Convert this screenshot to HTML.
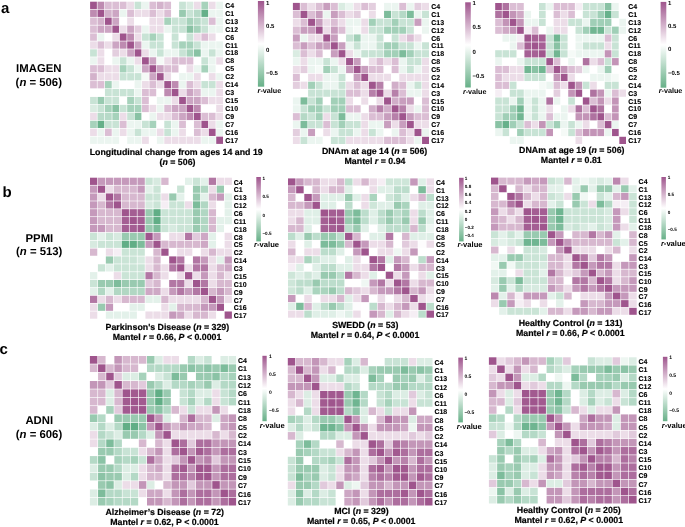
<!DOCTYPE html><html><head><meta charset="utf-8"><style>html,body{margin:0;padding:0;background:#fff;width:685px;height:527px;overflow:hidden}svg{display:block;will-change:transform}text{font-family:"Liberation Sans",sans-serif;text-rendering:geometricPrecision}</style></head><body>
<svg width="685" height="527" viewBox="0 0 685 527">
<rect width="685" height="527" fill="#fff"/>
<defs><linearGradient id="g1" x1="0" y1="0" x2="0" y2="1"><stop offset="0.0000" stop-color="#9f558d"/><stop offset="0.5000" stop-color="#ffffff"/><stop offset="1.0000" stop-color="#67b088"/></linearGradient><linearGradient id="g2" x1="0" y1="0" x2="0" y2="1"><stop offset="0.0000" stop-color="#9f558d"/><stop offset="0.5000" stop-color="#ffffff"/><stop offset="1.0000" stop-color="#67b088"/></linearGradient><linearGradient id="g3" x1="0" y1="0" x2="0" y2="1"><stop offset="0.0000" stop-color="#9f558d"/><stop offset="0.5000" stop-color="#ffffff"/><stop offset="1.0000" stop-color="#67b088"/></linearGradient><linearGradient id="g4" x1="0" y1="0" x2="0" y2="1"><stop offset="0.0000" stop-color="#9f558d"/><stop offset="0.5000" stop-color="#ffffff"/><stop offset="1.0000" stop-color="#67b088"/></linearGradient><linearGradient id="g5" x1="0" y1="0" x2="0" y2="1"><stop offset="0.0000" stop-color="#9f558d"/><stop offset="0.5000" stop-color="#ffffff"/><stop offset="1.0000" stop-color="#67b088"/></linearGradient><linearGradient id="g6" x1="0" y1="0" x2="0" y2="1"><stop offset="0.0000" stop-color="#9f558d"/><stop offset="0.5000" stop-color="#ffffff"/><stop offset="1.0000" stop-color="#67b088"/></linearGradient><linearGradient id="g7" x1="0" y1="0" x2="0" y2="1"><stop offset="0.0000" stop-color="#9f558d"/><stop offset="0.5000" stop-color="#ffffff"/><stop offset="1.0000" stop-color="#67b088"/></linearGradient><linearGradient id="g8" x1="0" y1="0" x2="0" y2="1"><stop offset="0.0000" stop-color="#9f558d"/><stop offset="0.5000" stop-color="#ffffff"/><stop offset="1.0000" stop-color="#67b088"/></linearGradient><linearGradient id="g9" x1="0" y1="0" x2="0" y2="1"><stop offset="0.0000" stop-color="#9f558d"/><stop offset="0.5000" stop-color="#ffffff"/><stop offset="1.0000" stop-color="#67b088"/></linearGradient></defs>
<g class="h1" transform="translate(90.10 1.70) scale(7.4194 7.9361)">
<rect x="0" y="0" width="0.912" height="0.918" fill="#9f558d"/>
<rect x="1" y="0" width="0.912" height="0.918" fill="#be8bb1"/>
<rect x="2" y="0" width="0.912" height="0.918" fill="#dbbed4"/>
<rect x="3" y="0" width="0.912" height="0.918" fill="#dbbed4"/>
<rect x="4" y="0" width="0.912" height="0.918" fill="#dbbed4"/>
<rect x="5" y="0" width="0.912" height="0.918" fill="#ecdde8"/>
<rect x="6" y="0" width="0.912" height="0.918" fill="#c8e3d5"/>
<rect x="7" y="0" width="0.912" height="0.918" fill="#ebf5f0"/>
<rect x="8" y="0" width="0.912" height="0.918" fill="#dbbed4"/>
<rect x="9" y="0" width="0.912" height="0.918" fill="#d3b2cb"/>
<rect x="10" y="0" width="0.912" height="0.918" fill="#dbbed4"/>
<rect x="11" y="0" width="0.912" height="0.918" fill="#ffffff"/>
<rect x="12" y="0" width="0.912" height="0.918" fill="#c8e3d5"/>
<rect x="13" y="0" width="0.912" height="0.918" fill="#daece2"/>
<rect x="14" y="0" width="0.912" height="0.918" fill="#ecdde8"/>
<rect x="15" y="0" width="0.912" height="0.918" fill="#a6d2bb"/>
<rect x="16" y="0" width="0.912" height="0.918" fill="#ecdde8"/>
<rect x="17" y="0" width="0.912" height="0.918" fill="#ebf5f0"/>
<rect x="0" y="1" width="0.912" height="0.918" fill="#be8bb1"/>
<rect x="1" y="1" width="0.912" height="0.918" fill="#9f558d"/>
<rect x="2" y="1" width="0.912" height="0.918" fill="#d3b2cb"/>
<rect x="3" y="1" width="0.912" height="0.918" fill="#cca5c3"/>
<rect x="4" y="1" width="0.912" height="0.918" fill="#ebf5f0"/>
<rect x="5" y="1" width="0.912" height="0.918" fill="#dbbed4"/>
<rect x="6" y="1" width="0.912" height="0.918" fill="#ecdde8"/>
<rect x="7" y="1" width="0.912" height="0.918" fill="#ecdde8"/>
<rect x="8" y="1" width="0.912" height="0.918" fill="#dbbed4"/>
<rect x="9" y="1" width="0.912" height="0.918" fill="#ecdde8"/>
<rect x="10" y="1" width="0.912" height="0.918" fill="#dbbed4"/>
<rect x="11" y="1" width="0.912" height="0.918" fill="#ffffff"/>
<rect x="12" y="1" width="0.912" height="0.918" fill="#98cab0"/>
<rect x="13" y="1" width="0.912" height="0.918" fill="#c8e3d5"/>
<rect x="14" y="1" width="0.912" height="0.918" fill="#b7dac8"/>
<rect x="15" y="1" width="0.912" height="0.918" fill="#65b089"/>
<rect x="16" y="1" width="0.912" height="0.918" fill="#ebf5f0"/>
<rect x="17" y="1" width="0.912" height="0.918" fill="#ebf5f0"/>
<rect x="0" y="2" width="0.912" height="0.918" fill="#dbbed4"/>
<rect x="1" y="2" width="0.912" height="0.918" fill="#d3b2cb"/>
<rect x="2" y="2" width="0.912" height="0.918" fill="#9f558d"/>
<rect x="3" y="2" width="0.912" height="0.918" fill="#cca5c3"/>
<rect x="4" y="2" width="0.912" height="0.918" fill="#ffffff"/>
<rect x="5" y="2" width="0.912" height="0.918" fill="#ecdde8"/>
<rect x="6" y="2" width="0.912" height="0.918" fill="#ffffff"/>
<rect x="7" y="2" width="0.912" height="0.918" fill="#ffffff"/>
<rect x="8" y="2" width="0.912" height="0.918" fill="#ecdde8"/>
<rect x="9" y="2" width="0.912" height="0.918" fill="#ecdde8"/>
<rect x="10" y="2" width="0.912" height="0.918" fill="#a6d2bb"/>
<rect x="11" y="2" width="0.912" height="0.918" fill="#c8e3d5"/>
<rect x="12" y="2" width="0.912" height="0.918" fill="#c8e3d5"/>
<rect x="13" y="2" width="0.912" height="0.918" fill="#a6d2bb"/>
<rect x="14" y="2" width="0.912" height="0.918" fill="#b7dac8"/>
<rect x="15" y="2" width="0.912" height="0.918" fill="#c8e3d5"/>
<rect x="16" y="2" width="0.912" height="0.918" fill="#dbbed4"/>
<rect x="17" y="2" width="0.912" height="0.918" fill="#ebf5f0"/>
<rect x="0" y="3" width="0.912" height="0.918" fill="#dbbed4"/>
<rect x="1" y="3" width="0.912" height="0.918" fill="#cca5c3"/>
<rect x="2" y="3" width="0.912" height="0.918" fill="#cca5c3"/>
<rect x="3" y="3" width="0.912" height="0.918" fill="#9f558d"/>
<rect x="4" y="3" width="0.912" height="0.918" fill="#ecdde8"/>
<rect x="5" y="3" width="0.912" height="0.918" fill="#cca5c3"/>
<rect x="6" y="3" width="0.912" height="0.918" fill="#e3cede"/>
<rect x="7" y="3" width="0.912" height="0.918" fill="#ebf5f0"/>
<rect x="8" y="3" width="0.912" height="0.918" fill="#ecdde8"/>
<rect x="9" y="3" width="0.912" height="0.918" fill="#ecdde8"/>
<rect x="10" y="3" width="0.912" height="0.918" fill="#ebf5f0"/>
<rect x="11" y="3" width="0.912" height="0.918" fill="#c8e3d5"/>
<rect x="12" y="3" width="0.912" height="0.918" fill="#c8e3d5"/>
<rect x="13" y="3" width="0.912" height="0.918" fill="#89c2a4"/>
<rect x="14" y="3" width="0.912" height="0.918" fill="#a6d2bb"/>
<rect x="15" y="3" width="0.912" height="0.918" fill="#c8e3d5"/>
<rect x="16" y="3" width="0.912" height="0.918" fill="#ebf5f0"/>
<rect x="17" y="3" width="0.912" height="0.918" fill="#ebf5f0"/>
<rect x="0" y="4" width="0.912" height="0.918" fill="#dbbed4"/>
<rect x="1" y="4" width="0.912" height="0.918" fill="#ebf5f0"/>
<rect x="2" y="4" width="0.912" height="0.918" fill="#ffffff"/>
<rect x="3" y="4" width="0.912" height="0.918" fill="#ecdde8"/>
<rect x="4" y="4" width="0.912" height="0.918" fill="#9f558d"/>
<rect x="5" y="4" width="0.912" height="0.918" fill="#be8bb1"/>
<rect x="6" y="4" width="0.912" height="0.918" fill="#ecdde8"/>
<rect x="7" y="4" width="0.912" height="0.918" fill="#c8e3d5"/>
<rect x="8" y="4" width="0.912" height="0.918" fill="#a6d2bb"/>
<rect x="9" y="4" width="0.912" height="0.918" fill="#c8e3d5"/>
<rect x="10" y="4" width="0.912" height="0.918" fill="#ffffff"/>
<rect x="11" y="4" width="0.912" height="0.918" fill="#c8e3d5"/>
<rect x="12" y="4" width="0.912" height="0.918" fill="#ffffff"/>
<rect x="13" y="4" width="0.912" height="0.918" fill="#c8e3d5"/>
<rect x="14" y="4" width="0.912" height="0.918" fill="#ecdde8"/>
<rect x="15" y="4" width="0.912" height="0.918" fill="#dbbed4"/>
<rect x="16" y="4" width="0.912" height="0.918" fill="#ecdde8"/>
<rect x="17" y="4" width="0.912" height="0.918" fill="#ffffff"/>
<rect x="0" y="5" width="0.912" height="0.918" fill="#ecdde8"/>
<rect x="1" y="5" width="0.912" height="0.918" fill="#dbbed4"/>
<rect x="2" y="5" width="0.912" height="0.918" fill="#ecdde8"/>
<rect x="3" y="5" width="0.912" height="0.918" fill="#cca5c3"/>
<rect x="4" y="5" width="0.912" height="0.918" fill="#be8bb1"/>
<rect x="5" y="5" width="0.912" height="0.918" fill="#9f558d"/>
<rect x="6" y="5" width="0.912" height="0.918" fill="#cca5c3"/>
<rect x="7" y="5" width="0.912" height="0.918" fill="#ebf5f0"/>
<rect x="8" y="5" width="0.912" height="0.918" fill="#c8e3d5"/>
<rect x="9" y="5" width="0.912" height="0.918" fill="#c8e3d5"/>
<rect x="10" y="5" width="0.912" height="0.918" fill="#ffffff"/>
<rect x="11" y="5" width="0.912" height="0.918" fill="#c8e3d5"/>
<rect x="12" y="5" width="0.912" height="0.918" fill="#a6d2bb"/>
<rect x="13" y="5" width="0.912" height="0.918" fill="#a6d2bb"/>
<rect x="14" y="5" width="0.912" height="0.918" fill="#c8e3d5"/>
<rect x="15" y="5" width="0.912" height="0.918" fill="#ebf5f0"/>
<rect x="16" y="5" width="0.912" height="0.918" fill="#ebf5f0"/>
<rect x="17" y="5" width="0.912" height="0.918" fill="#ebf5f0"/>
<rect x="0" y="6" width="0.912" height="0.918" fill="#c8e3d5"/>
<rect x="1" y="6" width="0.912" height="0.918" fill="#ecdde8"/>
<rect x="2" y="6" width="0.912" height="0.918" fill="#ffffff"/>
<rect x="3" y="6" width="0.912" height="0.918" fill="#e3cede"/>
<rect x="4" y="6" width="0.912" height="0.918" fill="#ecdde8"/>
<rect x="5" y="6" width="0.912" height="0.918" fill="#cca5c3"/>
<rect x="6" y="6" width="0.912" height="0.918" fill="#9f558d"/>
<rect x="7" y="6" width="0.912" height="0.918" fill="#ecdde8"/>
<rect x="8" y="6" width="0.912" height="0.918" fill="#ebf5f0"/>
<rect x="9" y="6" width="0.912" height="0.918" fill="#c8e3d5"/>
<rect x="10" y="6" width="0.912" height="0.918" fill="#ebf5f0"/>
<rect x="11" y="6" width="0.912" height="0.918" fill="#ebf5f0"/>
<rect x="12" y="6" width="0.912" height="0.918" fill="#c8e3d5"/>
<rect x="13" y="6" width="0.912" height="0.918" fill="#a6d2bb"/>
<rect x="14" y="6" width="0.912" height="0.918" fill="#89c2a4"/>
<rect x="15" y="6" width="0.912" height="0.918" fill="#ebf5f0"/>
<rect x="16" y="6" width="0.912" height="0.918" fill="#c8e3d5"/>
<rect x="17" y="6" width="0.912" height="0.918" fill="#ebf5f0"/>
<rect x="0" y="7" width="0.912" height="0.918" fill="#ebf5f0"/>
<rect x="1" y="7" width="0.912" height="0.918" fill="#ecdde8"/>
<rect x="2" y="7" width="0.912" height="0.918" fill="#ffffff"/>
<rect x="3" y="7" width="0.912" height="0.918" fill="#ebf5f0"/>
<rect x="4" y="7" width="0.912" height="0.918" fill="#c8e3d5"/>
<rect x="5" y="7" width="0.912" height="0.918" fill="#ebf5f0"/>
<rect x="6" y="7" width="0.912" height="0.918" fill="#ecdde8"/>
<rect x="7" y="7" width="0.912" height="0.918" fill="#9f558d"/>
<rect x="8" y="7" width="0.912" height="0.918" fill="#cca5c3"/>
<rect x="9" y="7" width="0.912" height="0.918" fill="#f5faf7"/>
<rect x="10" y="7" width="0.912" height="0.918" fill="#ecdde8"/>
<rect x="11" y="7" width="0.912" height="0.918" fill="#dbbed4"/>
<rect x="12" y="7" width="0.912" height="0.918" fill="#dbbed4"/>
<rect x="13" y="7" width="0.912" height="0.918" fill="#dbbed4"/>
<rect x="14" y="7" width="0.912" height="0.918" fill="#ffffff"/>
<rect x="15" y="7" width="0.912" height="0.918" fill="#c8e3d5"/>
<rect x="16" y="7" width="0.912" height="0.918" fill="#ebf5f0"/>
<rect x="17" y="7" width="0.912" height="0.918" fill="#ecdde8"/>
<rect x="0" y="8" width="0.912" height="0.918" fill="#dbbed4"/>
<rect x="1" y="8" width="0.912" height="0.918" fill="#dbbed4"/>
<rect x="2" y="8" width="0.912" height="0.918" fill="#ecdde8"/>
<rect x="3" y="8" width="0.912" height="0.918" fill="#ecdde8"/>
<rect x="4" y="8" width="0.912" height="0.918" fill="#a6d2bb"/>
<rect x="5" y="8" width="0.912" height="0.918" fill="#c8e3d5"/>
<rect x="6" y="8" width="0.912" height="0.918" fill="#ebf5f0"/>
<rect x="7" y="8" width="0.912" height="0.918" fill="#cca5c3"/>
<rect x="8" y="8" width="0.912" height="0.918" fill="#9f558d"/>
<rect x="9" y="8" width="0.912" height="0.918" fill="#cca5c3"/>
<rect x="10" y="8" width="0.912" height="0.918" fill="#dbbed4"/>
<rect x="11" y="8" width="0.912" height="0.918" fill="#dbbed4"/>
<rect x="12" y="8" width="0.912" height="0.918" fill="#ffffff"/>
<rect x="13" y="8" width="0.912" height="0.918" fill="#ecdde8"/>
<rect x="14" y="8" width="0.912" height="0.918" fill="#ebf5f0"/>
<rect x="15" y="8" width="0.912" height="0.918" fill="#a6d2bb"/>
<rect x="16" y="8" width="0.912" height="0.918" fill="#ebf5f0"/>
<rect x="17" y="8" width="0.912" height="0.918" fill="#ffffff"/>
<rect x="0" y="9" width="0.912" height="0.918" fill="#d3b2cb"/>
<rect x="1" y="9" width="0.912" height="0.918" fill="#ecdde8"/>
<rect x="2" y="9" width="0.912" height="0.918" fill="#ecdde8"/>
<rect x="3" y="9" width="0.912" height="0.918" fill="#ecdde8"/>
<rect x="4" y="9" width="0.912" height="0.918" fill="#c8e3d5"/>
<rect x="5" y="9" width="0.912" height="0.918" fill="#c8e3d5"/>
<rect x="6" y="9" width="0.912" height="0.918" fill="#c8e3d5"/>
<rect x="7" y="9" width="0.912" height="0.918" fill="#f5faf7"/>
<rect x="8" y="9" width="0.912" height="0.918" fill="#cca5c3"/>
<rect x="9" y="9" width="0.912" height="0.918" fill="#9f558d"/>
<rect x="10" y="9" width="0.912" height="0.918" fill="#ecdde8"/>
<rect x="11" y="9" width="0.912" height="0.918" fill="#ffffff"/>
<rect x="12" y="9" width="0.912" height="0.918" fill="#ebf5f0"/>
<rect x="13" y="9" width="0.912" height="0.918" fill="#ebf5f0"/>
<rect x="14" y="9" width="0.912" height="0.918" fill="#ecdde8"/>
<rect x="15" y="9" width="0.912" height="0.918" fill="#ffffff"/>
<rect x="16" y="9" width="0.912" height="0.918" fill="#ecdde8"/>
<rect x="17" y="9" width="0.912" height="0.918" fill="#ebf5f0"/>
<rect x="0" y="10" width="0.912" height="0.918" fill="#dbbed4"/>
<rect x="1" y="10" width="0.912" height="0.918" fill="#dbbed4"/>
<rect x="2" y="10" width="0.912" height="0.918" fill="#a6d2bb"/>
<rect x="3" y="10" width="0.912" height="0.918" fill="#ebf5f0"/>
<rect x="4" y="10" width="0.912" height="0.918" fill="#ffffff"/>
<rect x="5" y="10" width="0.912" height="0.918" fill="#ffffff"/>
<rect x="6" y="10" width="0.912" height="0.918" fill="#ebf5f0"/>
<rect x="7" y="10" width="0.912" height="0.918" fill="#ecdde8"/>
<rect x="8" y="10" width="0.912" height="0.918" fill="#dbbed4"/>
<rect x="9" y="10" width="0.912" height="0.918" fill="#ecdde8"/>
<rect x="10" y="10" width="0.912" height="0.918" fill="#9f558d"/>
<rect x="11" y="10" width="0.912" height="0.918" fill="#be8bb1"/>
<rect x="12" y="10" width="0.912" height="0.918" fill="#ebf5f0"/>
<rect x="13" y="10" width="0.912" height="0.918" fill="#dbbed4"/>
<rect x="14" y="10" width="0.912" height="0.918" fill="#ecdde8"/>
<rect x="15" y="10" width="0.912" height="0.918" fill="#c8e3d5"/>
<rect x="16" y="10" width="0.912" height="0.918" fill="#c8e3d5"/>
<rect x="17" y="10" width="0.912" height="0.918" fill="#ecdde8"/>
<rect x="0" y="11" width="0.912" height="0.918" fill="#ffffff"/>
<rect x="1" y="11" width="0.912" height="0.918" fill="#ffffff"/>
<rect x="2" y="11" width="0.912" height="0.918" fill="#c8e3d5"/>
<rect x="3" y="11" width="0.912" height="0.918" fill="#c8e3d5"/>
<rect x="4" y="11" width="0.912" height="0.918" fill="#c8e3d5"/>
<rect x="5" y="11" width="0.912" height="0.918" fill="#c8e3d5"/>
<rect x="6" y="11" width="0.912" height="0.918" fill="#ebf5f0"/>
<rect x="7" y="11" width="0.912" height="0.918" fill="#dbbed4"/>
<rect x="8" y="11" width="0.912" height="0.918" fill="#dbbed4"/>
<rect x="9" y="11" width="0.912" height="0.918" fill="#ffffff"/>
<rect x="10" y="11" width="0.912" height="0.918" fill="#be8bb1"/>
<rect x="11" y="11" width="0.912" height="0.918" fill="#9f558d"/>
<rect x="12" y="11" width="0.912" height="0.918" fill="#ecdde8"/>
<rect x="13" y="11" width="0.912" height="0.918" fill="#cca5c3"/>
<rect x="14" y="11" width="0.912" height="0.918" fill="#dbbed4"/>
<rect x="15" y="11" width="0.912" height="0.918" fill="#ebf5f0"/>
<rect x="16" y="11" width="0.912" height="0.918" fill="#ebf5f0"/>
<rect x="17" y="11" width="0.912" height="0.918" fill="#ecdde8"/>
<rect x="0" y="12" width="0.912" height="0.918" fill="#c8e3d5"/>
<rect x="1" y="12" width="0.912" height="0.918" fill="#98cab0"/>
<rect x="2" y="12" width="0.912" height="0.918" fill="#c8e3d5"/>
<rect x="3" y="12" width="0.912" height="0.918" fill="#c8e3d5"/>
<rect x="4" y="12" width="0.912" height="0.918" fill="#ffffff"/>
<rect x="5" y="12" width="0.912" height="0.918" fill="#a6d2bb"/>
<rect x="6" y="12" width="0.912" height="0.918" fill="#c8e3d5"/>
<rect x="7" y="12" width="0.912" height="0.918" fill="#dbbed4"/>
<rect x="8" y="12" width="0.912" height="0.918" fill="#ffffff"/>
<rect x="9" y="12" width="0.912" height="0.918" fill="#ebf5f0"/>
<rect x="10" y="12" width="0.912" height="0.918" fill="#ebf5f0"/>
<rect x="11" y="12" width="0.912" height="0.918" fill="#ecdde8"/>
<rect x="12" y="12" width="0.912" height="0.918" fill="#9f558d"/>
<rect x="13" y="12" width="0.912" height="0.918" fill="#cca5c3"/>
<rect x="14" y="12" width="0.912" height="0.918" fill="#cca5c3"/>
<rect x="15" y="12" width="0.912" height="0.918" fill="#dbbed4"/>
<rect x="16" y="12" width="0.912" height="0.918" fill="#ecdde8"/>
<rect x="17" y="12" width="0.912" height="0.918" fill="#ecdde8"/>
<rect x="0" y="13" width="0.912" height="0.918" fill="#daece2"/>
<rect x="1" y="13" width="0.912" height="0.918" fill="#c8e3d5"/>
<rect x="2" y="13" width="0.912" height="0.918" fill="#a6d2bb"/>
<rect x="3" y="13" width="0.912" height="0.918" fill="#89c2a4"/>
<rect x="4" y="13" width="0.912" height="0.918" fill="#c8e3d5"/>
<rect x="5" y="13" width="0.912" height="0.918" fill="#a6d2bb"/>
<rect x="6" y="13" width="0.912" height="0.918" fill="#a6d2bb"/>
<rect x="7" y="13" width="0.912" height="0.918" fill="#dbbed4"/>
<rect x="8" y="13" width="0.912" height="0.918" fill="#ecdde8"/>
<rect x="9" y="13" width="0.912" height="0.918" fill="#ebf5f0"/>
<rect x="10" y="13" width="0.912" height="0.918" fill="#dbbed4"/>
<rect x="11" y="13" width="0.912" height="0.918" fill="#cca5c3"/>
<rect x="12" y="13" width="0.912" height="0.918" fill="#cca5c3"/>
<rect x="13" y="13" width="0.912" height="0.918" fill="#9f558d"/>
<rect x="14" y="13" width="0.912" height="0.918" fill="#be8bb1"/>
<rect x="15" y="13" width="0.912" height="0.918" fill="#ffffff"/>
<rect x="16" y="13" width="0.912" height="0.918" fill="#ffffff"/>
<rect x="17" y="13" width="0.912" height="0.918" fill="#ecdde8"/>
<rect x="0" y="14" width="0.912" height="0.918" fill="#ecdde8"/>
<rect x="1" y="14" width="0.912" height="0.918" fill="#b7dac8"/>
<rect x="2" y="14" width="0.912" height="0.918" fill="#b7dac8"/>
<rect x="3" y="14" width="0.912" height="0.918" fill="#a6d2bb"/>
<rect x="4" y="14" width="0.912" height="0.918" fill="#ecdde8"/>
<rect x="5" y="14" width="0.912" height="0.918" fill="#c8e3d5"/>
<rect x="6" y="14" width="0.912" height="0.918" fill="#89c2a4"/>
<rect x="7" y="14" width="0.912" height="0.918" fill="#ffffff"/>
<rect x="8" y="14" width="0.912" height="0.918" fill="#ebf5f0"/>
<rect x="9" y="14" width="0.912" height="0.918" fill="#ecdde8"/>
<rect x="10" y="14" width="0.912" height="0.918" fill="#ecdde8"/>
<rect x="11" y="14" width="0.912" height="0.918" fill="#dbbed4"/>
<rect x="12" y="14" width="0.912" height="0.918" fill="#cca5c3"/>
<rect x="13" y="14" width="0.912" height="0.918" fill="#be8bb1"/>
<rect x="14" y="14" width="0.912" height="0.918" fill="#9f558d"/>
<rect x="15" y="14" width="0.912" height="0.918" fill="#dbbed4"/>
<rect x="16" y="14" width="0.912" height="0.918" fill="#dbbed4"/>
<rect x="17" y="14" width="0.912" height="0.918" fill="#ecdde8"/>
<rect x="0" y="15" width="0.912" height="0.918" fill="#a6d2bb"/>
<rect x="1" y="15" width="0.912" height="0.918" fill="#65b089"/>
<rect x="2" y="15" width="0.912" height="0.918" fill="#c8e3d5"/>
<rect x="3" y="15" width="0.912" height="0.918" fill="#c8e3d5"/>
<rect x="4" y="15" width="0.912" height="0.918" fill="#dbbed4"/>
<rect x="5" y="15" width="0.912" height="0.918" fill="#ebf5f0"/>
<rect x="6" y="15" width="0.912" height="0.918" fill="#ebf5f0"/>
<rect x="7" y="15" width="0.912" height="0.918" fill="#c8e3d5"/>
<rect x="8" y="15" width="0.912" height="0.918" fill="#a6d2bb"/>
<rect x="9" y="15" width="0.912" height="0.918" fill="#ffffff"/>
<rect x="10" y="15" width="0.912" height="0.918" fill="#c8e3d5"/>
<rect x="11" y="15" width="0.912" height="0.918" fill="#ebf5f0"/>
<rect x="12" y="15" width="0.912" height="0.918" fill="#dbbed4"/>
<rect x="13" y="15" width="0.912" height="0.918" fill="#ffffff"/>
<rect x="14" y="15" width="0.912" height="0.918" fill="#dbbed4"/>
<rect x="15" y="15" width="0.912" height="0.918" fill="#9f558d"/>
<rect x="16" y="15" width="0.912" height="0.918" fill="#ecdde8"/>
<rect x="17" y="15" width="0.912" height="0.918" fill="#ebf5f0"/>
<rect x="0" y="16" width="0.912" height="0.918" fill="#ecdde8"/>
<rect x="1" y="16" width="0.912" height="0.918" fill="#ebf5f0"/>
<rect x="2" y="16" width="0.912" height="0.918" fill="#dbbed4"/>
<rect x="3" y="16" width="0.912" height="0.918" fill="#ebf5f0"/>
<rect x="4" y="16" width="0.912" height="0.918" fill="#ecdde8"/>
<rect x="5" y="16" width="0.912" height="0.918" fill="#ebf5f0"/>
<rect x="6" y="16" width="0.912" height="0.918" fill="#c8e3d5"/>
<rect x="7" y="16" width="0.912" height="0.918" fill="#ebf5f0"/>
<rect x="8" y="16" width="0.912" height="0.918" fill="#ebf5f0"/>
<rect x="9" y="16" width="0.912" height="0.918" fill="#ecdde8"/>
<rect x="10" y="16" width="0.912" height="0.918" fill="#c8e3d5"/>
<rect x="11" y="16" width="0.912" height="0.918" fill="#ebf5f0"/>
<rect x="12" y="16" width="0.912" height="0.918" fill="#ecdde8"/>
<rect x="13" y="16" width="0.912" height="0.918" fill="#ffffff"/>
<rect x="14" y="16" width="0.912" height="0.918" fill="#dbbed4"/>
<rect x="15" y="16" width="0.912" height="0.918" fill="#ecdde8"/>
<rect x="16" y="16" width="0.912" height="0.918" fill="#9f558d"/>
<rect x="17" y="16" width="0.912" height="0.918" fill="#ebf5f0"/>
<rect x="0" y="17" width="0.912" height="0.918" fill="#ebf5f0"/>
<rect x="1" y="17" width="0.912" height="0.918" fill="#ebf5f0"/>
<rect x="2" y="17" width="0.912" height="0.918" fill="#ebf5f0"/>
<rect x="3" y="17" width="0.912" height="0.918" fill="#ebf5f0"/>
<rect x="4" y="17" width="0.912" height="0.918" fill="#ffffff"/>
<rect x="5" y="17" width="0.912" height="0.918" fill="#ebf5f0"/>
<rect x="6" y="17" width="0.912" height="0.918" fill="#ebf5f0"/>
<rect x="7" y="17" width="0.912" height="0.918" fill="#ecdde8"/>
<rect x="8" y="17" width="0.912" height="0.918" fill="#ffffff"/>
<rect x="9" y="17" width="0.912" height="0.918" fill="#ebf5f0"/>
<rect x="10" y="17" width="0.912" height="0.918" fill="#ecdde8"/>
<rect x="11" y="17" width="0.912" height="0.918" fill="#ecdde8"/>
<rect x="12" y="17" width="0.912" height="0.918" fill="#ecdde8"/>
<rect x="13" y="17" width="0.912" height="0.918" fill="#ecdde8"/>
<rect x="14" y="17" width="0.912" height="0.918" fill="#ecdde8"/>
<rect x="15" y="17" width="0.912" height="0.918" fill="#ebf5f0"/>
<rect x="16" y="17" width="0.912" height="0.918" fill="#ebf5f0"/>
<rect x="17" y="17" width="0.912" height="0.918" fill="#9f558d"/>
</g>
<g font-size="7" font-weight="bold" stroke="#000" stroke-width="0.12">
<text x="225.30" y="7.84">C4</text>
<text x="225.30" y="15.78">C1</text>
<text x="225.30" y="23.72">C13</text>
<text x="225.30" y="31.65">C12</text>
<text x="225.30" y="39.59">C6</text>
<text x="225.30" y="47.52">C11</text>
<text x="225.30" y="55.46">C18</text>
<text x="225.30" y="63.40">C8</text>
<text x="225.30" y="71.33">C5</text>
<text x="225.30" y="79.27">C2</text>
<text x="225.30" y="87.20">C14</text>
<text x="225.30" y="95.14">C3</text>
<text x="225.30" y="103.08">C15</text>
<text x="225.30" y="111.01">C10</text>
<text x="225.30" y="118.95">C9</text>
<text x="225.30" y="126.88">C7</text>
<text x="225.30" y="134.82">C16</text>
<text x="225.30" y="142.76">C17</text>
</g>
<g class="h2" transform="translate(292.90 2.90) scale(7.5972 7.8750)">
<rect x="0" y="0" width="0.914" height="0.917" fill="#9f558d"/>
<rect x="1" y="0" width="0.914" height="0.917" fill="#dbbed4"/>
<rect x="2" y="0" width="0.914" height="0.917" fill="#ecdde8"/>
<rect x="3" y="0" width="0.914" height="0.917" fill="#dbbed4"/>
<rect x="4" y="0" width="0.914" height="0.917" fill="#c89ebe"/>
<rect x="5" y="0" width="0.914" height="0.917" fill="#dbbed4"/>
<rect x="6" y="0" width="0.914" height="0.917" fill="#daece2"/>
<rect x="7" y="0" width="0.914" height="0.917" fill="#ebf5f0"/>
<rect x="8" y="0" width="0.914" height="0.917" fill="#ecdde8"/>
<rect x="9" y="0" width="0.914" height="0.917" fill="#dbbed4"/>
<rect x="10" y="0" width="0.914" height="0.917" fill="#e3cede"/>
<rect x="11" y="0" width="0.914" height="0.917" fill="#ffffff"/>
<rect x="12" y="0" width="0.914" height="0.917" fill="#ebf5f0"/>
<rect x="13" y="0" width="0.914" height="0.917" fill="#ebf5f0"/>
<rect x="14" y="0" width="0.914" height="0.917" fill="#dbbed4"/>
<rect x="15" y="0" width="0.914" height="0.917" fill="#ebf5f0"/>
<rect x="16" y="0" width="0.914" height="0.917" fill="#e3cede"/>
<rect x="17" y="0" width="0.914" height="0.917" fill="#ecdde8"/>
<rect x="0" y="1" width="0.914" height="0.917" fill="#dbbed4"/>
<rect x="1" y="1" width="0.914" height="0.917" fill="#9f558d"/>
<rect x="2" y="1" width="0.914" height="0.917" fill="#dbbed4"/>
<rect x="3" y="1" width="0.914" height="0.917" fill="#c89ebe"/>
<rect x="4" y="1" width="0.914" height="0.917" fill="#ebf5f0"/>
<rect x="5" y="1" width="0.914" height="0.917" fill="#c89ebe"/>
<rect x="6" y="1" width="0.914" height="0.917" fill="#dbbed4"/>
<rect x="7" y="1" width="0.914" height="0.917" fill="#ecdde8"/>
<rect x="8" y="1" width="0.914" height="0.917" fill="#e3cede"/>
<rect x="9" y="1" width="0.914" height="0.917" fill="#ffffff"/>
<rect x="10" y="1" width="0.914" height="0.917" fill="#ecdde8"/>
<rect x="11" y="1" width="0.914" height="0.917" fill="#ffffff"/>
<rect x="12" y="1" width="0.914" height="0.917" fill="#7dbc9b"/>
<rect x="13" y="1" width="0.914" height="0.917" fill="#c8e3d5"/>
<rect x="14" y="1" width="0.914" height="0.917" fill="#b5d9c6"/>
<rect x="15" y="1" width="0.914" height="0.917" fill="#7dbc9b"/>
<rect x="16" y="1" width="0.914" height="0.917" fill="#ebf5f0"/>
<rect x="17" y="1" width="0.914" height="0.917" fill="#c8e3d5"/>
<rect x="0" y="2" width="0.914" height="0.917" fill="#ecdde8"/>
<rect x="1" y="2" width="0.914" height="0.917" fill="#dbbed4"/>
<rect x="2" y="2" width="0.914" height="0.917" fill="#9f558d"/>
<rect x="3" y="2" width="0.914" height="0.917" fill="#c89ebe"/>
<rect x="4" y="2" width="0.914" height="0.917" fill="#ecdde8"/>
<rect x="5" y="2" width="0.914" height="0.917" fill="#dbbed4"/>
<rect x="6" y="2" width="0.914" height="0.917" fill="#ecdde8"/>
<rect x="7" y="2" width="0.914" height="0.917" fill="#ebf5f0"/>
<rect x="8" y="2" width="0.914" height="0.917" fill="#ebf5f0"/>
<rect x="9" y="2" width="0.914" height="0.917" fill="#ecdde8"/>
<rect x="10" y="2" width="0.914" height="0.917" fill="#a2d0b8"/>
<rect x="11" y="2" width="0.914" height="0.917" fill="#c8e3d5"/>
<rect x="12" y="2" width="0.914" height="0.917" fill="#c8e3d5"/>
<rect x="13" y="2" width="0.914" height="0.917" fill="#a2d0b8"/>
<rect x="14" y="2" width="0.914" height="0.917" fill="#c8e3d5"/>
<rect x="15" y="2" width="0.914" height="0.917" fill="#c8e3d5"/>
<rect x="16" y="2" width="0.914" height="0.917" fill="#c89ebe"/>
<rect x="17" y="2" width="0.914" height="0.917" fill="#ebf5f0"/>
<rect x="0" y="3" width="0.914" height="0.917" fill="#dbbed4"/>
<rect x="1" y="3" width="0.914" height="0.917" fill="#c89ebe"/>
<rect x="2" y="3" width="0.914" height="0.917" fill="#c89ebe"/>
<rect x="3" y="3" width="0.914" height="0.917" fill="#9f558d"/>
<rect x="4" y="3" width="0.914" height="0.917" fill="#ecdde8"/>
<rect x="5" y="3" width="0.914" height="0.917" fill="#c89ebe"/>
<rect x="6" y="3" width="0.914" height="0.917" fill="#dbbed4"/>
<rect x="7" y="3" width="0.914" height="0.917" fill="#ebf5f0"/>
<rect x="8" y="3" width="0.914" height="0.917" fill="#f5faf7"/>
<rect x="9" y="3" width="0.914" height="0.917" fill="#ecdde8"/>
<rect x="10" y="3" width="0.914" height="0.917" fill="#c8e3d5"/>
<rect x="11" y="3" width="0.914" height="0.917" fill="#c8e3d5"/>
<rect x="12" y="3" width="0.914" height="0.917" fill="#a2d0b8"/>
<rect x="13" y="3" width="0.914" height="0.917" fill="#a2d0b8"/>
<rect x="14" y="3" width="0.914" height="0.917" fill="#a2d0b8"/>
<rect x="15" y="3" width="0.914" height="0.917" fill="#c8e3d5"/>
<rect x="16" y="3" width="0.914" height="0.917" fill="#ffffff"/>
<rect x="17" y="3" width="0.914" height="0.917" fill="#ebf5f0"/>
<rect x="0" y="4" width="0.914" height="0.917" fill="#c89ebe"/>
<rect x="1" y="4" width="0.914" height="0.917" fill="#ebf5f0"/>
<rect x="2" y="4" width="0.914" height="0.917" fill="#ecdde8"/>
<rect x="3" y="4" width="0.914" height="0.917" fill="#ecdde8"/>
<rect x="4" y="4" width="0.914" height="0.917" fill="#9f558d"/>
<rect x="5" y="4" width="0.914" height="0.917" fill="#c89ebe"/>
<rect x="6" y="4" width="0.914" height="0.917" fill="#ffffff"/>
<rect x="7" y="4" width="0.914" height="0.917" fill="#c8e3d5"/>
<rect x="8" y="4" width="0.914" height="0.917" fill="#a2d0b8"/>
<rect x="9" y="4" width="0.914" height="0.917" fill="#ebf5f0"/>
<rect x="10" y="4" width="0.914" height="0.917" fill="#ebf5f0"/>
<rect x="11" y="4" width="0.914" height="0.917" fill="#c8e3d5"/>
<rect x="12" y="4" width="0.914" height="0.917" fill="#ffffff"/>
<rect x="13" y="4" width="0.914" height="0.917" fill="#c8e3d5"/>
<rect x="14" y="4" width="0.914" height="0.917" fill="#ecdde8"/>
<rect x="15" y="4" width="0.914" height="0.917" fill="#dbbed4"/>
<rect x="16" y="4" width="0.914" height="0.917" fill="#ecdde8"/>
<rect x="17" y="4" width="0.914" height="0.917" fill="#ffffff"/>
<rect x="0" y="5" width="0.914" height="0.917" fill="#dbbed4"/>
<rect x="1" y="5" width="0.914" height="0.917" fill="#c89ebe"/>
<rect x="2" y="5" width="0.914" height="0.917" fill="#dbbed4"/>
<rect x="3" y="5" width="0.914" height="0.917" fill="#c89ebe"/>
<rect x="4" y="5" width="0.914" height="0.917" fill="#c89ebe"/>
<rect x="5" y="5" width="0.914" height="0.917" fill="#9f558d"/>
<rect x="6" y="5" width="0.914" height="0.917" fill="#c89ebe"/>
<rect x="7" y="5" width="0.914" height="0.917" fill="#ebf5f0"/>
<rect x="8" y="5" width="0.914" height="0.917" fill="#c8e3d5"/>
<rect x="9" y="5" width="0.914" height="0.917" fill="#ebf5f0"/>
<rect x="10" y="5" width="0.914" height="0.917" fill="#ebf5f0"/>
<rect x="11" y="5" width="0.914" height="0.917" fill="#c8e3d5"/>
<rect x="12" y="5" width="0.914" height="0.917" fill="#a2d0b8"/>
<rect x="13" y="5" width="0.914" height="0.917" fill="#a2d0b8"/>
<rect x="14" y="5" width="0.914" height="0.917" fill="#c8e3d5"/>
<rect x="15" y="5" width="0.914" height="0.917" fill="#c8e3d5"/>
<rect x="16" y="5" width="0.914" height="0.917" fill="#ebf5f0"/>
<rect x="17" y="5" width="0.914" height="0.917" fill="#c8e3d5"/>
<rect x="0" y="6" width="0.914" height="0.917" fill="#daece2"/>
<rect x="1" y="6" width="0.914" height="0.917" fill="#dbbed4"/>
<rect x="2" y="6" width="0.914" height="0.917" fill="#ecdde8"/>
<rect x="3" y="6" width="0.914" height="0.917" fill="#dbbed4"/>
<rect x="4" y="6" width="0.914" height="0.917" fill="#ffffff"/>
<rect x="5" y="6" width="0.914" height="0.917" fill="#c89ebe"/>
<rect x="6" y="6" width="0.914" height="0.917" fill="#9f558d"/>
<rect x="7" y="6" width="0.914" height="0.917" fill="#ecdde8"/>
<rect x="8" y="6" width="0.914" height="0.917" fill="#ebf5f0"/>
<rect x="9" y="6" width="0.914" height="0.917" fill="#c8e3d5"/>
<rect x="10" y="6" width="0.914" height="0.917" fill="#c8e3d5"/>
<rect x="11" y="6" width="0.914" height="0.917" fill="#c8e3d5"/>
<rect x="12" y="6" width="0.914" height="0.917" fill="#a2d0b8"/>
<rect x="13" y="6" width="0.914" height="0.917" fill="#a2d0b8"/>
<rect x="14" y="6" width="0.914" height="0.917" fill="#7dbc9b"/>
<rect x="15" y="6" width="0.914" height="0.917" fill="#a2d0b8"/>
<rect x="16" y="6" width="0.914" height="0.917" fill="#c8e3d5"/>
<rect x="17" y="6" width="0.914" height="0.917" fill="#c8e3d5"/>
<rect x="0" y="7" width="0.914" height="0.917" fill="#ebf5f0"/>
<rect x="1" y="7" width="0.914" height="0.917" fill="#ecdde8"/>
<rect x="2" y="7" width="0.914" height="0.917" fill="#ebf5f0"/>
<rect x="3" y="7" width="0.914" height="0.917" fill="#ebf5f0"/>
<rect x="4" y="7" width="0.914" height="0.917" fill="#c8e3d5"/>
<rect x="5" y="7" width="0.914" height="0.917" fill="#ebf5f0"/>
<rect x="6" y="7" width="0.914" height="0.917" fill="#ecdde8"/>
<rect x="7" y="7" width="0.914" height="0.917" fill="#9f558d"/>
<rect x="8" y="7" width="0.914" height="0.917" fill="#c89ebe"/>
<rect x="9" y="7" width="0.914" height="0.917" fill="#ffffff"/>
<rect x="10" y="7" width="0.914" height="0.917" fill="#ecdde8"/>
<rect x="11" y="7" width="0.914" height="0.917" fill="#dbbed4"/>
<rect x="12" y="7" width="0.914" height="0.917" fill="#ecdde8"/>
<rect x="13" y="7" width="0.914" height="0.917" fill="#dbbed4"/>
<rect x="14" y="7" width="0.914" height="0.917" fill="#ebf5f0"/>
<rect x="15" y="7" width="0.914" height="0.917" fill="#c8e3d5"/>
<rect x="16" y="7" width="0.914" height="0.917" fill="#c8e3d5"/>
<rect x="17" y="7" width="0.914" height="0.917" fill="#ecdde8"/>
<rect x="0" y="8" width="0.914" height="0.917" fill="#ecdde8"/>
<rect x="1" y="8" width="0.914" height="0.917" fill="#e3cede"/>
<rect x="2" y="8" width="0.914" height="0.917" fill="#ebf5f0"/>
<rect x="3" y="8" width="0.914" height="0.917" fill="#f5faf7"/>
<rect x="4" y="8" width="0.914" height="0.917" fill="#a2d0b8"/>
<rect x="5" y="8" width="0.914" height="0.917" fill="#c8e3d5"/>
<rect x="6" y="8" width="0.914" height="0.917" fill="#ebf5f0"/>
<rect x="7" y="8" width="0.914" height="0.917" fill="#c89ebe"/>
<rect x="8" y="8" width="0.914" height="0.917" fill="#9f558d"/>
<rect x="9" y="8" width="0.914" height="0.917" fill="#c89ebe"/>
<rect x="10" y="8" width="0.914" height="0.917" fill="#dbbed4"/>
<rect x="11" y="8" width="0.914" height="0.917" fill="#dbbed4"/>
<rect x="12" y="8" width="0.914" height="0.917" fill="#ffffff"/>
<rect x="13" y="8" width="0.914" height="0.917" fill="#dbbed4"/>
<rect x="14" y="8" width="0.914" height="0.917" fill="#ebf5f0"/>
<rect x="15" y="8" width="0.914" height="0.917" fill="#c8e3d5"/>
<rect x="16" y="8" width="0.914" height="0.917" fill="#ebf5f0"/>
<rect x="17" y="8" width="0.914" height="0.917" fill="#ecdde8"/>
<rect x="0" y="9" width="0.914" height="0.917" fill="#dbbed4"/>
<rect x="1" y="9" width="0.914" height="0.917" fill="#ffffff"/>
<rect x="2" y="9" width="0.914" height="0.917" fill="#ecdde8"/>
<rect x="3" y="9" width="0.914" height="0.917" fill="#ecdde8"/>
<rect x="4" y="9" width="0.914" height="0.917" fill="#ebf5f0"/>
<rect x="5" y="9" width="0.914" height="0.917" fill="#ebf5f0"/>
<rect x="6" y="9" width="0.914" height="0.917" fill="#c8e3d5"/>
<rect x="7" y="9" width="0.914" height="0.917" fill="#ffffff"/>
<rect x="8" y="9" width="0.914" height="0.917" fill="#c89ebe"/>
<rect x="9" y="9" width="0.914" height="0.917" fill="#9f558d"/>
<rect x="10" y="9" width="0.914" height="0.917" fill="#ecdde8"/>
<rect x="11" y="9" width="0.914" height="0.917" fill="#ecdde8"/>
<rect x="12" y="9" width="0.914" height="0.917" fill="#ecdde8"/>
<rect x="13" y="9" width="0.914" height="0.917" fill="#ffffff"/>
<rect x="14" y="9" width="0.914" height="0.917" fill="#ecdde8"/>
<rect x="15" y="9" width="0.914" height="0.917" fill="#ecdde8"/>
<rect x="16" y="9" width="0.914" height="0.917" fill="#ecdde8"/>
<rect x="17" y="9" width="0.914" height="0.917" fill="#ecdde8"/>
<rect x="0" y="10" width="0.914" height="0.917" fill="#e3cede"/>
<rect x="1" y="10" width="0.914" height="0.917" fill="#ecdde8"/>
<rect x="2" y="10" width="0.914" height="0.917" fill="#a2d0b8"/>
<rect x="3" y="10" width="0.914" height="0.917" fill="#c8e3d5"/>
<rect x="4" y="10" width="0.914" height="0.917" fill="#ebf5f0"/>
<rect x="5" y="10" width="0.914" height="0.917" fill="#ebf5f0"/>
<rect x="6" y="10" width="0.914" height="0.917" fill="#c8e3d5"/>
<rect x="7" y="10" width="0.914" height="0.917" fill="#ecdde8"/>
<rect x="8" y="10" width="0.914" height="0.917" fill="#dbbed4"/>
<rect x="9" y="10" width="0.914" height="0.917" fill="#ecdde8"/>
<rect x="10" y="10" width="0.914" height="0.917" fill="#9f558d"/>
<rect x="11" y="10" width="0.914" height="0.917" fill="#b780aa"/>
<rect x="12" y="10" width="0.914" height="0.917" fill="#ffffff"/>
<rect x="13" y="10" width="0.914" height="0.917" fill="#d1aec9"/>
<rect x="14" y="10" width="0.914" height="0.917" fill="#dbbed4"/>
<rect x="15" y="10" width="0.914" height="0.917" fill="#ebf5f0"/>
<rect x="16" y="10" width="0.914" height="0.917" fill="#c8e3d5"/>
<rect x="17" y="10" width="0.914" height="0.917" fill="#ecdde8"/>
<rect x="0" y="11" width="0.914" height="0.917" fill="#ffffff"/>
<rect x="1" y="11" width="0.914" height="0.917" fill="#ffffff"/>
<rect x="2" y="11" width="0.914" height="0.917" fill="#c8e3d5"/>
<rect x="3" y="11" width="0.914" height="0.917" fill="#c8e3d5"/>
<rect x="4" y="11" width="0.914" height="0.917" fill="#c8e3d5"/>
<rect x="5" y="11" width="0.914" height="0.917" fill="#c8e3d5"/>
<rect x="6" y="11" width="0.914" height="0.917" fill="#c8e3d5"/>
<rect x="7" y="11" width="0.914" height="0.917" fill="#dbbed4"/>
<rect x="8" y="11" width="0.914" height="0.917" fill="#dbbed4"/>
<rect x="9" y="11" width="0.914" height="0.917" fill="#ecdde8"/>
<rect x="10" y="11" width="0.914" height="0.917" fill="#b780aa"/>
<rect x="11" y="11" width="0.914" height="0.917" fill="#9f558d"/>
<rect x="12" y="11" width="0.914" height="0.917" fill="#ecdde8"/>
<rect x="13" y="11" width="0.914" height="0.917" fill="#b780aa"/>
<rect x="14" y="11" width="0.914" height="0.917" fill="#dbbed4"/>
<rect x="15" y="11" width="0.914" height="0.917" fill="#ebf5f0"/>
<rect x="16" y="11" width="0.914" height="0.917" fill="#ebf5f0"/>
<rect x="17" y="11" width="0.914" height="0.917" fill="#ecdde8"/>
<rect x="0" y="12" width="0.914" height="0.917" fill="#ebf5f0"/>
<rect x="1" y="12" width="0.914" height="0.917" fill="#7dbc9b"/>
<rect x="2" y="12" width="0.914" height="0.917" fill="#c8e3d5"/>
<rect x="3" y="12" width="0.914" height="0.917" fill="#a2d0b8"/>
<rect x="4" y="12" width="0.914" height="0.917" fill="#ffffff"/>
<rect x="5" y="12" width="0.914" height="0.917" fill="#a2d0b8"/>
<rect x="6" y="12" width="0.914" height="0.917" fill="#a2d0b8"/>
<rect x="7" y="12" width="0.914" height="0.917" fill="#ecdde8"/>
<rect x="8" y="12" width="0.914" height="0.917" fill="#ffffff"/>
<rect x="9" y="12" width="0.914" height="0.917" fill="#ecdde8"/>
<rect x="10" y="12" width="0.914" height="0.917" fill="#ffffff"/>
<rect x="11" y="12" width="0.914" height="0.917" fill="#ecdde8"/>
<rect x="12" y="12" width="0.914" height="0.917" fill="#9f558d"/>
<rect x="13" y="12" width="0.914" height="0.917" fill="#d1aec9"/>
<rect x="14" y="12" width="0.914" height="0.917" fill="#c89ebe"/>
<rect x="15" y="12" width="0.914" height="0.917" fill="#c89ebe"/>
<rect x="16" y="12" width="0.914" height="0.917" fill="#ffffff"/>
<rect x="17" y="12" width="0.914" height="0.917" fill="#dbbed4"/>
<rect x="0" y="13" width="0.914" height="0.917" fill="#ebf5f0"/>
<rect x="1" y="13" width="0.914" height="0.917" fill="#c8e3d5"/>
<rect x="2" y="13" width="0.914" height="0.917" fill="#a2d0b8"/>
<rect x="3" y="13" width="0.914" height="0.917" fill="#a2d0b8"/>
<rect x="4" y="13" width="0.914" height="0.917" fill="#c8e3d5"/>
<rect x="5" y="13" width="0.914" height="0.917" fill="#a2d0b8"/>
<rect x="6" y="13" width="0.914" height="0.917" fill="#a2d0b8"/>
<rect x="7" y="13" width="0.914" height="0.917" fill="#dbbed4"/>
<rect x="8" y="13" width="0.914" height="0.917" fill="#dbbed4"/>
<rect x="9" y="13" width="0.914" height="0.917" fill="#ffffff"/>
<rect x="10" y="13" width="0.914" height="0.917" fill="#d1aec9"/>
<rect x="11" y="13" width="0.914" height="0.917" fill="#b780aa"/>
<rect x="12" y="13" width="0.914" height="0.917" fill="#d1aec9"/>
<rect x="13" y="13" width="0.914" height="0.917" fill="#9f558d"/>
<rect x="14" y="13" width="0.914" height="0.917" fill="#b780aa"/>
<rect x="15" y="13" width="0.914" height="0.917" fill="#ecdde8"/>
<rect x="16" y="13" width="0.914" height="0.917" fill="#ebf5f0"/>
<rect x="17" y="13" width="0.914" height="0.917" fill="#dbbed4"/>
<rect x="0" y="14" width="0.914" height="0.917" fill="#dbbed4"/>
<rect x="1" y="14" width="0.914" height="0.917" fill="#b5d9c6"/>
<rect x="2" y="14" width="0.914" height="0.917" fill="#c8e3d5"/>
<rect x="3" y="14" width="0.914" height="0.917" fill="#a2d0b8"/>
<rect x="4" y="14" width="0.914" height="0.917" fill="#ecdde8"/>
<rect x="5" y="14" width="0.914" height="0.917" fill="#c8e3d5"/>
<rect x="6" y="14" width="0.914" height="0.917" fill="#7dbc9b"/>
<rect x="7" y="14" width="0.914" height="0.917" fill="#ebf5f0"/>
<rect x="8" y="14" width="0.914" height="0.917" fill="#ebf5f0"/>
<rect x="9" y="14" width="0.914" height="0.917" fill="#ecdde8"/>
<rect x="10" y="14" width="0.914" height="0.917" fill="#dbbed4"/>
<rect x="11" y="14" width="0.914" height="0.917" fill="#dbbed4"/>
<rect x="12" y="14" width="0.914" height="0.917" fill="#c89ebe"/>
<rect x="13" y="14" width="0.914" height="0.917" fill="#b780aa"/>
<rect x="14" y="14" width="0.914" height="0.917" fill="#9f558d"/>
<rect x="15" y="14" width="0.914" height="0.917" fill="#c89ebe"/>
<rect x="16" y="14" width="0.914" height="0.917" fill="#dbbed4"/>
<rect x="17" y="14" width="0.914" height="0.917" fill="#dbbed4"/>
<rect x="0" y="15" width="0.914" height="0.917" fill="#ebf5f0"/>
<rect x="1" y="15" width="0.914" height="0.917" fill="#7dbc9b"/>
<rect x="2" y="15" width="0.914" height="0.917" fill="#c8e3d5"/>
<rect x="3" y="15" width="0.914" height="0.917" fill="#c8e3d5"/>
<rect x="4" y="15" width="0.914" height="0.917" fill="#dbbed4"/>
<rect x="5" y="15" width="0.914" height="0.917" fill="#c8e3d5"/>
<rect x="6" y="15" width="0.914" height="0.917" fill="#a2d0b8"/>
<rect x="7" y="15" width="0.914" height="0.917" fill="#c8e3d5"/>
<rect x="8" y="15" width="0.914" height="0.917" fill="#c8e3d5"/>
<rect x="9" y="15" width="0.914" height="0.917" fill="#ecdde8"/>
<rect x="10" y="15" width="0.914" height="0.917" fill="#ebf5f0"/>
<rect x="11" y="15" width="0.914" height="0.917" fill="#ebf5f0"/>
<rect x="12" y="15" width="0.914" height="0.917" fill="#c89ebe"/>
<rect x="13" y="15" width="0.914" height="0.917" fill="#ecdde8"/>
<rect x="14" y="15" width="0.914" height="0.917" fill="#c89ebe"/>
<rect x="15" y="15" width="0.914" height="0.917" fill="#9f558d"/>
<rect x="16" y="15" width="0.914" height="0.917" fill="#ecdde8"/>
<rect x="17" y="15" width="0.914" height="0.917" fill="#ecdde8"/>
<rect x="0" y="16" width="0.914" height="0.917" fill="#e3cede"/>
<rect x="1" y="16" width="0.914" height="0.917" fill="#ebf5f0"/>
<rect x="2" y="16" width="0.914" height="0.917" fill="#c89ebe"/>
<rect x="3" y="16" width="0.914" height="0.917" fill="#ffffff"/>
<rect x="4" y="16" width="0.914" height="0.917" fill="#ecdde8"/>
<rect x="5" y="16" width="0.914" height="0.917" fill="#ebf5f0"/>
<rect x="6" y="16" width="0.914" height="0.917" fill="#c8e3d5"/>
<rect x="7" y="16" width="0.914" height="0.917" fill="#c8e3d5"/>
<rect x="8" y="16" width="0.914" height="0.917" fill="#ebf5f0"/>
<rect x="9" y="16" width="0.914" height="0.917" fill="#ecdde8"/>
<rect x="10" y="16" width="0.914" height="0.917" fill="#c8e3d5"/>
<rect x="11" y="16" width="0.914" height="0.917" fill="#ebf5f0"/>
<rect x="12" y="16" width="0.914" height="0.917" fill="#ffffff"/>
<rect x="13" y="16" width="0.914" height="0.917" fill="#ebf5f0"/>
<rect x="14" y="16" width="0.914" height="0.917" fill="#dbbed4"/>
<rect x="15" y="16" width="0.914" height="0.917" fill="#ecdde8"/>
<rect x="16" y="16" width="0.914" height="0.917" fill="#9f558d"/>
<rect x="17" y="16" width="0.914" height="0.917" fill="#ebf5f0"/>
<rect x="0" y="17" width="0.914" height="0.917" fill="#ecdde8"/>
<rect x="1" y="17" width="0.914" height="0.917" fill="#c8e3d5"/>
<rect x="2" y="17" width="0.914" height="0.917" fill="#ebf5f0"/>
<rect x="3" y="17" width="0.914" height="0.917" fill="#ebf5f0"/>
<rect x="4" y="17" width="0.914" height="0.917" fill="#ffffff"/>
<rect x="5" y="17" width="0.914" height="0.917" fill="#c8e3d5"/>
<rect x="6" y="17" width="0.914" height="0.917" fill="#c8e3d5"/>
<rect x="7" y="17" width="0.914" height="0.917" fill="#ecdde8"/>
<rect x="8" y="17" width="0.914" height="0.917" fill="#ecdde8"/>
<rect x="9" y="17" width="0.914" height="0.917" fill="#ecdde8"/>
<rect x="10" y="17" width="0.914" height="0.917" fill="#ecdde8"/>
<rect x="11" y="17" width="0.914" height="0.917" fill="#ecdde8"/>
<rect x="12" y="17" width="0.914" height="0.917" fill="#dbbed4"/>
<rect x="13" y="17" width="0.914" height="0.917" fill="#dbbed4"/>
<rect x="14" y="17" width="0.914" height="0.917" fill="#dbbed4"/>
<rect x="15" y="17" width="0.914" height="0.917" fill="#ecdde8"/>
<rect x="16" y="17" width="0.914" height="0.917" fill="#ebf5f0"/>
<rect x="17" y="17" width="0.914" height="0.917" fill="#9f558d"/>
</g>
<g font-size="7" font-weight="bold" stroke="#000" stroke-width="0.12">
<text x="431.30" y="9.01">C4</text>
<text x="431.30" y="16.89">C1</text>
<text x="431.30" y="24.76">C13</text>
<text x="431.30" y="32.64">C12</text>
<text x="431.30" y="40.51">C6</text>
<text x="431.30" y="48.39">C11</text>
<text x="431.30" y="56.26">C18</text>
<text x="431.30" y="64.14">C8</text>
<text x="431.30" y="72.01">C5</text>
<text x="431.30" y="79.89">C2</text>
<text x="431.30" y="87.76">C14</text>
<text x="431.30" y="95.64">C3</text>
<text x="431.30" y="103.51">C15</text>
<text x="431.30" y="111.39">C10</text>
<text x="431.30" y="119.26">C9</text>
<text x="431.30" y="127.14">C7</text>
<text x="431.30" y="135.01">C16</text>
<text x="431.30" y="142.89">C17</text>
</g>
<g class="h3" transform="translate(495.20 3.00) scale(7.3028 7.8694)">
<rect x="0" y="0" width="0.911" height="0.917" fill="#9f558d"/>
<rect x="1" y="0" width="0.911" height="0.917" fill="#af72a0"/>
<rect x="2" y="0" width="0.911" height="0.917" fill="#dbbed4"/>
<rect x="3" y="0" width="0.911" height="0.917" fill="#dbbed4"/>
<rect x="4" y="0" width="0.911" height="0.917" fill="#ffffff"/>
<rect x="5" y="0" width="0.911" height="0.917" fill="#ffffff"/>
<rect x="6" y="0" width="0.911" height="0.917" fill="#c8e3d5"/>
<rect x="7" y="0" width="0.911" height="0.917" fill="#ebf5f0"/>
<rect x="8" y="0" width="0.911" height="0.917" fill="#dbbed4"/>
<rect x="9" y="0" width="0.911" height="0.917" fill="#dbbed4"/>
<rect x="10" y="0" width="0.911" height="0.917" fill="#dbbed4"/>
<rect x="11" y="0" width="0.911" height="0.917" fill="#f5eef4"/>
<rect x="12" y="0" width="0.911" height="0.917" fill="#c8e3d5"/>
<rect x="13" y="0" width="0.911" height="0.917" fill="#c8e3d5"/>
<rect x="14" y="0" width="0.911" height="0.917" fill="#c8e3d5"/>
<rect x="15" y="0" width="0.911" height="0.917" fill="#89c2a4"/>
<rect x="16" y="0" width="0.911" height="0.917" fill="#ebf5f0"/>
<rect x="17" y="0" width="0.911" height="0.917" fill="#ffffff"/>
<rect x="0" y="1" width="0.911" height="0.917" fill="#af72a0"/>
<rect x="1" y="1" width="0.911" height="0.917" fill="#9f558d"/>
<rect x="2" y="1" width="0.911" height="0.917" fill="#c394b7"/>
<rect x="3" y="1" width="0.911" height="0.917" fill="#cfa9c5"/>
<rect x="4" y="1" width="0.911" height="0.917" fill="#ebf5f0"/>
<rect x="5" y="1" width="0.911" height="0.917" fill="#ffffff"/>
<rect x="6" y="1" width="0.911" height="0.917" fill="#c8e3d5"/>
<rect x="7" y="1" width="0.911" height="0.917" fill="#ffffff"/>
<rect x="8" y="1" width="0.911" height="0.917" fill="#dbbed4"/>
<rect x="9" y="1" width="0.911" height="0.917" fill="#ecdde8"/>
<rect x="10" y="1" width="0.911" height="0.917" fill="#dbbed4"/>
<rect x="11" y="1" width="0.911" height="0.917" fill="#ffffff"/>
<rect x="12" y="1" width="0.911" height="0.917" fill="#c8e3d5"/>
<rect x="13" y="1" width="0.911" height="0.917" fill="#c8e3d5"/>
<rect x="14" y="1" width="0.911" height="0.917" fill="#a0cfb7"/>
<rect x="15" y="1" width="0.911" height="0.917" fill="#67b18b"/>
<rect x="16" y="1" width="0.911" height="0.917" fill="#c8e3d5"/>
<rect x="17" y="1" width="0.911" height="0.917" fill="#ffffff"/>
<rect x="0" y="2" width="0.911" height="0.917" fill="#dbbed4"/>
<rect x="1" y="2" width="0.911" height="0.917" fill="#c394b7"/>
<rect x="2" y="2" width="0.911" height="0.917" fill="#9f558d"/>
<rect x="3" y="2" width="0.911" height="0.917" fill="#c394b7"/>
<rect x="4" y="2" width="0.911" height="0.917" fill="#ebf5f0"/>
<rect x="5" y="2" width="0.911" height="0.917" fill="#ebf5f0"/>
<rect x="6" y="2" width="0.911" height="0.917" fill="#c8e3d5"/>
<rect x="7" y="2" width="0.911" height="0.917" fill="#ffffff"/>
<rect x="8" y="2" width="0.911" height="0.917" fill="#ecdde8"/>
<rect x="9" y="2" width="0.911" height="0.917" fill="#ecdde8"/>
<rect x="10" y="2" width="0.911" height="0.917" fill="#c8e3d5"/>
<rect x="11" y="2" width="0.911" height="0.917" fill="#c8e3d5"/>
<rect x="12" y="2" width="0.911" height="0.917" fill="#ebf5f0"/>
<rect x="13" y="2" width="0.911" height="0.917" fill="#a0cfb7"/>
<rect x="14" y="2" width="0.911" height="0.917" fill="#a0cfb7"/>
<rect x="15" y="2" width="0.911" height="0.917" fill="#a0cfb7"/>
<rect x="16" y="2" width="0.911" height="0.917" fill="#ffffff"/>
<rect x="17" y="2" width="0.911" height="0.917" fill="#ebf5f0"/>
<rect x="0" y="3" width="0.911" height="0.917" fill="#dbbed4"/>
<rect x="1" y="3" width="0.911" height="0.917" fill="#cfa9c5"/>
<rect x="2" y="3" width="0.911" height="0.917" fill="#c394b7"/>
<rect x="3" y="3" width="0.911" height="0.917" fill="#9f558d"/>
<rect x="4" y="3" width="0.911" height="0.917" fill="#f5eef4"/>
<rect x="5" y="3" width="0.911" height="0.917" fill="#dbbed4"/>
<rect x="6" y="3" width="0.911" height="0.917" fill="#ffffff"/>
<rect x="7" y="3" width="0.911" height="0.917" fill="#ebf5f0"/>
<rect x="8" y="3" width="0.911" height="0.917" fill="#ecdde8"/>
<rect x="9" y="3" width="0.911" height="0.917" fill="#ecdde8"/>
<rect x="10" y="3" width="0.911" height="0.917" fill="#ffffff"/>
<rect x="11" y="3" width="0.911" height="0.917" fill="#c8e3d5"/>
<rect x="12" y="3" width="0.911" height="0.917" fill="#a0cfb7"/>
<rect x="13" y="3" width="0.911" height="0.917" fill="#71b692"/>
<rect x="14" y="3" width="0.911" height="0.917" fill="#71b692"/>
<rect x="15" y="3" width="0.911" height="0.917" fill="#c8e3d5"/>
<rect x="16" y="3" width="0.911" height="0.917" fill="#a0cfb7"/>
<rect x="17" y="3" width="0.911" height="0.917" fill="#ebf5f0"/>
<rect x="0" y="4" width="0.911" height="0.917" fill="#ffffff"/>
<rect x="1" y="4" width="0.911" height="0.917" fill="#ebf5f0"/>
<rect x="2" y="4" width="0.911" height="0.917" fill="#ebf5f0"/>
<rect x="3" y="4" width="0.911" height="0.917" fill="#f5eef4"/>
<rect x="4" y="4" width="0.911" height="0.917" fill="#9f558d"/>
<rect x="5" y="4" width="0.911" height="0.917" fill="#a66195"/>
<rect x="6" y="4" width="0.911" height="0.917" fill="#a66195"/>
<rect x="7" y="4" width="0.911" height="0.917" fill="#c8e3d5"/>
<rect x="8" y="4" width="0.911" height="0.917" fill="#71b692"/>
<rect x="9" y="4" width="0.911" height="0.917" fill="#c8e3d5"/>
<rect x="10" y="4" width="0.911" height="0.917" fill="#ffffff"/>
<rect x="11" y="4" width="0.911" height="0.917" fill="#ebf5f0"/>
<rect x="12" y="4" width="0.911" height="0.917" fill="#ebf5f0"/>
<rect x="13" y="4" width="0.911" height="0.917" fill="#ebf5f0"/>
<rect x="14" y="4" width="0.911" height="0.917" fill="#ebf5f0"/>
<rect x="15" y="4" width="0.911" height="0.917" fill="#dbbed4"/>
<rect x="16" y="4" width="0.911" height="0.917" fill="#c8e3d5"/>
<rect x="17" y="4" width="0.911" height="0.917" fill="#ffffff"/>
<rect x="0" y="5" width="0.911" height="0.917" fill="#ffffff"/>
<rect x="1" y="5" width="0.911" height="0.917" fill="#ffffff"/>
<rect x="2" y="5" width="0.911" height="0.917" fill="#ebf5f0"/>
<rect x="3" y="5" width="0.911" height="0.917" fill="#dbbed4"/>
<rect x="4" y="5" width="0.911" height="0.917" fill="#a66195"/>
<rect x="5" y="5" width="0.911" height="0.917" fill="#9f558d"/>
<rect x="6" y="5" width="0.911" height="0.917" fill="#a66195"/>
<rect x="7" y="5" width="0.911" height="0.917" fill="#c8e3d5"/>
<rect x="8" y="5" width="0.911" height="0.917" fill="#89c2a4"/>
<rect x="9" y="5" width="0.911" height="0.917" fill="#c8e3d5"/>
<rect x="10" y="5" width="0.911" height="0.917" fill="#ffffff"/>
<rect x="11" y="5" width="0.911" height="0.917" fill="#ebf5f0"/>
<rect x="12" y="5" width="0.911" height="0.917" fill="#c8e3d5"/>
<rect x="13" y="5" width="0.911" height="0.917" fill="#c8e3d5"/>
<rect x="14" y="5" width="0.911" height="0.917" fill="#c8e3d5"/>
<rect x="15" y="5" width="0.911" height="0.917" fill="#ecdde8"/>
<rect x="16" y="5" width="0.911" height="0.917" fill="#c8e3d5"/>
<rect x="17" y="5" width="0.911" height="0.917" fill="#ffffff"/>
<rect x="0" y="6" width="0.911" height="0.917" fill="#c8e3d5"/>
<rect x="1" y="6" width="0.911" height="0.917" fill="#c8e3d5"/>
<rect x="2" y="6" width="0.911" height="0.917" fill="#c8e3d5"/>
<rect x="3" y="6" width="0.911" height="0.917" fill="#ffffff"/>
<rect x="4" y="6" width="0.911" height="0.917" fill="#a66195"/>
<rect x="5" y="6" width="0.911" height="0.917" fill="#a66195"/>
<rect x="6" y="6" width="0.911" height="0.917" fill="#9f558d"/>
<rect x="7" y="6" width="0.911" height="0.917" fill="#c8e3d5"/>
<rect x="8" y="6" width="0.911" height="0.917" fill="#71b692"/>
<rect x="9" y="6" width="0.911" height="0.917" fill="#c8e3d5"/>
<rect x="10" y="6" width="0.911" height="0.917" fill="#f5faf7"/>
<rect x="11" y="6" width="0.911" height="0.917" fill="#ebf5f0"/>
<rect x="12" y="6" width="0.911" height="0.917" fill="#ebf5f0"/>
<rect x="13" y="6" width="0.911" height="0.917" fill="#ebf5f0"/>
<rect x="14" y="6" width="0.911" height="0.917" fill="#ebf5f0"/>
<rect x="15" y="6" width="0.911" height="0.917" fill="#c394b7"/>
<rect x="16" y="6" width="0.911" height="0.917" fill="#c8e3d5"/>
<rect x="17" y="6" width="0.911" height="0.917" fill="#ffffff"/>
<rect x="0" y="7" width="0.911" height="0.917" fill="#ebf5f0"/>
<rect x="1" y="7" width="0.911" height="0.917" fill="#ffffff"/>
<rect x="2" y="7" width="0.911" height="0.917" fill="#ffffff"/>
<rect x="3" y="7" width="0.911" height="0.917" fill="#ebf5f0"/>
<rect x="4" y="7" width="0.911" height="0.917" fill="#c8e3d5"/>
<rect x="5" y="7" width="0.911" height="0.917" fill="#c8e3d5"/>
<rect x="6" y="7" width="0.911" height="0.917" fill="#c8e3d5"/>
<rect x="7" y="7" width="0.911" height="0.917" fill="#9f558d"/>
<rect x="8" y="7" width="0.911" height="0.917" fill="#dbbed4"/>
<rect x="9" y="7" width="0.911" height="0.917" fill="#ffffff"/>
<rect x="10" y="7" width="0.911" height="0.917" fill="#ebf5f0"/>
<rect x="11" y="7" width="0.911" height="0.917" fill="#ffffff"/>
<rect x="12" y="7" width="0.911" height="0.917" fill="#af72a0"/>
<rect x="13" y="7" width="0.911" height="0.917" fill="#ecdde8"/>
<rect x="14" y="7" width="0.911" height="0.917" fill="#dbbed4"/>
<rect x="15" y="7" width="0.911" height="0.917" fill="#c8e3d5"/>
<rect x="16" y="7" width="0.911" height="0.917" fill="#c394b7"/>
<rect x="17" y="7" width="0.911" height="0.917" fill="#ffffff"/>
<rect x="0" y="8" width="0.911" height="0.917" fill="#dbbed4"/>
<rect x="1" y="8" width="0.911" height="0.917" fill="#dbbed4"/>
<rect x="2" y="8" width="0.911" height="0.917" fill="#ecdde8"/>
<rect x="3" y="8" width="0.911" height="0.917" fill="#ecdde8"/>
<rect x="4" y="8" width="0.911" height="0.917" fill="#71b692"/>
<rect x="5" y="8" width="0.911" height="0.917" fill="#89c2a4"/>
<rect x="6" y="8" width="0.911" height="0.917" fill="#71b692"/>
<rect x="7" y="8" width="0.911" height="0.917" fill="#dbbed4"/>
<rect x="8" y="8" width="0.911" height="0.917" fill="#9f558d"/>
<rect x="9" y="8" width="0.911" height="0.917" fill="#c394b7"/>
<rect x="10" y="8" width="0.911" height="0.917" fill="#dbbed4"/>
<rect x="11" y="8" width="0.911" height="0.917" fill="#e3cede"/>
<rect x="12" y="8" width="0.911" height="0.917" fill="#ebf5f0"/>
<rect x="13" y="8" width="0.911" height="0.917" fill="#ffffff"/>
<rect x="14" y="8" width="0.911" height="0.917" fill="#ebf5f0"/>
<rect x="15" y="8" width="0.911" height="0.917" fill="#a0cfb7"/>
<rect x="16" y="8" width="0.911" height="0.917" fill="#ffffff"/>
<rect x="17" y="8" width="0.911" height="0.917" fill="#ffffff"/>
<rect x="0" y="9" width="0.911" height="0.917" fill="#dbbed4"/>
<rect x="1" y="9" width="0.911" height="0.917" fill="#ecdde8"/>
<rect x="2" y="9" width="0.911" height="0.917" fill="#ecdde8"/>
<rect x="3" y="9" width="0.911" height="0.917" fill="#ecdde8"/>
<rect x="4" y="9" width="0.911" height="0.917" fill="#c8e3d5"/>
<rect x="5" y="9" width="0.911" height="0.917" fill="#c8e3d5"/>
<rect x="6" y="9" width="0.911" height="0.917" fill="#c8e3d5"/>
<rect x="7" y="9" width="0.911" height="0.917" fill="#ffffff"/>
<rect x="8" y="9" width="0.911" height="0.917" fill="#c394b7"/>
<rect x="9" y="9" width="0.911" height="0.917" fill="#9f558d"/>
<rect x="10" y="9" width="0.911" height="0.917" fill="#ecdde8"/>
<rect x="11" y="9" width="0.911" height="0.917" fill="#ffffff"/>
<rect x="12" y="9" width="0.911" height="0.917" fill="#ffffff"/>
<rect x="13" y="9" width="0.911" height="0.917" fill="#ebf5f0"/>
<rect x="14" y="9" width="0.911" height="0.917" fill="#ebf5f0"/>
<rect x="15" y="9" width="0.911" height="0.917" fill="#ebf5f0"/>
<rect x="16" y="9" width="0.911" height="0.917" fill="#f5faf7"/>
<rect x="17" y="9" width="0.911" height="0.917" fill="#ffffff"/>
<rect x="0" y="10" width="0.911" height="0.917" fill="#dbbed4"/>
<rect x="1" y="10" width="0.911" height="0.917" fill="#dbbed4"/>
<rect x="2" y="10" width="0.911" height="0.917" fill="#c8e3d5"/>
<rect x="3" y="10" width="0.911" height="0.917" fill="#ffffff"/>
<rect x="4" y="10" width="0.911" height="0.917" fill="#ffffff"/>
<rect x="5" y="10" width="0.911" height="0.917" fill="#ffffff"/>
<rect x="6" y="10" width="0.911" height="0.917" fill="#f5faf7"/>
<rect x="7" y="10" width="0.911" height="0.917" fill="#ebf5f0"/>
<rect x="8" y="10" width="0.911" height="0.917" fill="#dbbed4"/>
<rect x="9" y="10" width="0.911" height="0.917" fill="#ecdde8"/>
<rect x="10" y="10" width="0.911" height="0.917" fill="#9f558d"/>
<rect x="11" y="10" width="0.911" height="0.917" fill="#c394b7"/>
<rect x="12" y="10" width="0.911" height="0.917" fill="#c8e3d5"/>
<rect x="13" y="10" width="0.911" height="0.917" fill="#ecdde8"/>
<rect x="14" y="10" width="0.911" height="0.917" fill="#ffffff"/>
<rect x="15" y="10" width="0.911" height="0.917" fill="#c8e3d5"/>
<rect x="16" y="10" width="0.911" height="0.917" fill="#c8e3d5"/>
<rect x="17" y="10" width="0.911" height="0.917" fill="#ffffff"/>
<rect x="0" y="11" width="0.911" height="0.917" fill="#f5eef4"/>
<rect x="1" y="11" width="0.911" height="0.917" fill="#ffffff"/>
<rect x="2" y="11" width="0.911" height="0.917" fill="#c8e3d5"/>
<rect x="3" y="11" width="0.911" height="0.917" fill="#c8e3d5"/>
<rect x="4" y="11" width="0.911" height="0.917" fill="#ebf5f0"/>
<rect x="5" y="11" width="0.911" height="0.917" fill="#ebf5f0"/>
<rect x="6" y="11" width="0.911" height="0.917" fill="#ebf5f0"/>
<rect x="7" y="11" width="0.911" height="0.917" fill="#ffffff"/>
<rect x="8" y="11" width="0.911" height="0.917" fill="#e3cede"/>
<rect x="9" y="11" width="0.911" height="0.917" fill="#ffffff"/>
<rect x="10" y="11" width="0.911" height="0.917" fill="#c394b7"/>
<rect x="11" y="11" width="0.911" height="0.917" fill="#9f558d"/>
<rect x="12" y="11" width="0.911" height="0.917" fill="#ffffff"/>
<rect x="13" y="11" width="0.911" height="0.917" fill="#af72a0"/>
<rect x="14" y="11" width="0.911" height="0.917" fill="#c394b7"/>
<rect x="15" y="11" width="0.911" height="0.917" fill="#ebf5f0"/>
<rect x="16" y="11" width="0.911" height="0.917" fill="#dbbed4"/>
<rect x="17" y="11" width="0.911" height="0.917" fill="#ecdde8"/>
<rect x="0" y="12" width="0.911" height="0.917" fill="#c8e3d5"/>
<rect x="1" y="12" width="0.911" height="0.917" fill="#c8e3d5"/>
<rect x="2" y="12" width="0.911" height="0.917" fill="#ebf5f0"/>
<rect x="3" y="12" width="0.911" height="0.917" fill="#a0cfb7"/>
<rect x="4" y="12" width="0.911" height="0.917" fill="#ebf5f0"/>
<rect x="5" y="12" width="0.911" height="0.917" fill="#c8e3d5"/>
<rect x="6" y="12" width="0.911" height="0.917" fill="#ebf5f0"/>
<rect x="7" y="12" width="0.911" height="0.917" fill="#af72a0"/>
<rect x="8" y="12" width="0.911" height="0.917" fill="#ebf5f0"/>
<rect x="9" y="12" width="0.911" height="0.917" fill="#ffffff"/>
<rect x="10" y="12" width="0.911" height="0.917" fill="#c8e3d5"/>
<rect x="11" y="12" width="0.911" height="0.917" fill="#ffffff"/>
<rect x="12" y="12" width="0.911" height="0.917" fill="#9f558d"/>
<rect x="13" y="12" width="0.911" height="0.917" fill="#dbbed4"/>
<rect x="14" y="12" width="0.911" height="0.917" fill="#c394b7"/>
<rect x="15" y="12" width="0.911" height="0.917" fill="#ecdde8"/>
<rect x="16" y="12" width="0.911" height="0.917" fill="#c394b7"/>
<rect x="17" y="12" width="0.911" height="0.917" fill="#ffffff"/>
<rect x="0" y="13" width="0.911" height="0.917" fill="#c8e3d5"/>
<rect x="1" y="13" width="0.911" height="0.917" fill="#c8e3d5"/>
<rect x="2" y="13" width="0.911" height="0.917" fill="#a0cfb7"/>
<rect x="3" y="13" width="0.911" height="0.917" fill="#71b692"/>
<rect x="4" y="13" width="0.911" height="0.917" fill="#ebf5f0"/>
<rect x="5" y="13" width="0.911" height="0.917" fill="#c8e3d5"/>
<rect x="6" y="13" width="0.911" height="0.917" fill="#ebf5f0"/>
<rect x="7" y="13" width="0.911" height="0.917" fill="#ecdde8"/>
<rect x="8" y="13" width="0.911" height="0.917" fill="#ffffff"/>
<rect x="9" y="13" width="0.911" height="0.917" fill="#ebf5f0"/>
<rect x="10" y="13" width="0.911" height="0.917" fill="#ecdde8"/>
<rect x="11" y="13" width="0.911" height="0.917" fill="#af72a0"/>
<rect x="12" y="13" width="0.911" height="0.917" fill="#dbbed4"/>
<rect x="13" y="13" width="0.911" height="0.917" fill="#9f558d"/>
<rect x="14" y="13" width="0.911" height="0.917" fill="#af72a0"/>
<rect x="15" y="13" width="0.911" height="0.917" fill="#ffffff"/>
<rect x="16" y="13" width="0.911" height="0.917" fill="#c394b7"/>
<rect x="17" y="13" width="0.911" height="0.917" fill="#ffffff"/>
<rect x="0" y="14" width="0.911" height="0.917" fill="#c8e3d5"/>
<rect x="1" y="14" width="0.911" height="0.917" fill="#a0cfb7"/>
<rect x="2" y="14" width="0.911" height="0.917" fill="#a0cfb7"/>
<rect x="3" y="14" width="0.911" height="0.917" fill="#71b692"/>
<rect x="4" y="14" width="0.911" height="0.917" fill="#ebf5f0"/>
<rect x="5" y="14" width="0.911" height="0.917" fill="#c8e3d5"/>
<rect x="6" y="14" width="0.911" height="0.917" fill="#ebf5f0"/>
<rect x="7" y="14" width="0.911" height="0.917" fill="#dbbed4"/>
<rect x="8" y="14" width="0.911" height="0.917" fill="#ebf5f0"/>
<rect x="9" y="14" width="0.911" height="0.917" fill="#ebf5f0"/>
<rect x="10" y="14" width="0.911" height="0.917" fill="#ffffff"/>
<rect x="11" y="14" width="0.911" height="0.917" fill="#c394b7"/>
<rect x="12" y="14" width="0.911" height="0.917" fill="#c394b7"/>
<rect x="13" y="14" width="0.911" height="0.917" fill="#af72a0"/>
<rect x="14" y="14" width="0.911" height="0.917" fill="#9f558d"/>
<rect x="15" y="14" width="0.911" height="0.917" fill="#dbbed4"/>
<rect x="16" y="14" width="0.911" height="0.917" fill="#c394b7"/>
<rect x="17" y="14" width="0.911" height="0.917" fill="#ffffff"/>
<rect x="0" y="15" width="0.911" height="0.917" fill="#89c2a4"/>
<rect x="1" y="15" width="0.911" height="0.917" fill="#67b18b"/>
<rect x="2" y="15" width="0.911" height="0.917" fill="#a0cfb7"/>
<rect x="3" y="15" width="0.911" height="0.917" fill="#c8e3d5"/>
<rect x="4" y="15" width="0.911" height="0.917" fill="#dbbed4"/>
<rect x="5" y="15" width="0.911" height="0.917" fill="#ecdde8"/>
<rect x="6" y="15" width="0.911" height="0.917" fill="#c394b7"/>
<rect x="7" y="15" width="0.911" height="0.917" fill="#c8e3d5"/>
<rect x="8" y="15" width="0.911" height="0.917" fill="#a0cfb7"/>
<rect x="9" y="15" width="0.911" height="0.917" fill="#ebf5f0"/>
<rect x="10" y="15" width="0.911" height="0.917" fill="#c8e3d5"/>
<rect x="11" y="15" width="0.911" height="0.917" fill="#ebf5f0"/>
<rect x="12" y="15" width="0.911" height="0.917" fill="#ecdde8"/>
<rect x="13" y="15" width="0.911" height="0.917" fill="#ffffff"/>
<rect x="14" y="15" width="0.911" height="0.917" fill="#dbbed4"/>
<rect x="15" y="15" width="0.911" height="0.917" fill="#9f558d"/>
<rect x="16" y="15" width="0.911" height="0.917" fill="#ebf5f0"/>
<rect x="17" y="15" width="0.911" height="0.917" fill="#ffffff"/>
<rect x="0" y="16" width="0.911" height="0.917" fill="#ebf5f0"/>
<rect x="1" y="16" width="0.911" height="0.917" fill="#c8e3d5"/>
<rect x="2" y="16" width="0.911" height="0.917" fill="#ffffff"/>
<rect x="3" y="16" width="0.911" height="0.917" fill="#a0cfb7"/>
<rect x="4" y="16" width="0.911" height="0.917" fill="#c8e3d5"/>
<rect x="5" y="16" width="0.911" height="0.917" fill="#c8e3d5"/>
<rect x="6" y="16" width="0.911" height="0.917" fill="#c8e3d5"/>
<rect x="7" y="16" width="0.911" height="0.917" fill="#c394b7"/>
<rect x="8" y="16" width="0.911" height="0.917" fill="#ffffff"/>
<rect x="9" y="16" width="0.911" height="0.917" fill="#f5faf7"/>
<rect x="10" y="16" width="0.911" height="0.917" fill="#c8e3d5"/>
<rect x="11" y="16" width="0.911" height="0.917" fill="#dbbed4"/>
<rect x="12" y="16" width="0.911" height="0.917" fill="#c394b7"/>
<rect x="13" y="16" width="0.911" height="0.917" fill="#c394b7"/>
<rect x="14" y="16" width="0.911" height="0.917" fill="#c394b7"/>
<rect x="15" y="16" width="0.911" height="0.917" fill="#ebf5f0"/>
<rect x="16" y="16" width="0.911" height="0.917" fill="#9f558d"/>
<rect x="17" y="16" width="0.911" height="0.917" fill="#ffffff"/>
<rect x="0" y="17" width="0.911" height="0.917" fill="#ffffff"/>
<rect x="1" y="17" width="0.911" height="0.917" fill="#ffffff"/>
<rect x="2" y="17" width="0.911" height="0.917" fill="#ebf5f0"/>
<rect x="3" y="17" width="0.911" height="0.917" fill="#ebf5f0"/>
<rect x="4" y="17" width="0.911" height="0.917" fill="#ffffff"/>
<rect x="5" y="17" width="0.911" height="0.917" fill="#ffffff"/>
<rect x="6" y="17" width="0.911" height="0.917" fill="#ffffff"/>
<rect x="7" y="17" width="0.911" height="0.917" fill="#ffffff"/>
<rect x="8" y="17" width="0.911" height="0.917" fill="#ffffff"/>
<rect x="9" y="17" width="0.911" height="0.917" fill="#ffffff"/>
<rect x="10" y="17" width="0.911" height="0.917" fill="#ffffff"/>
<rect x="11" y="17" width="0.911" height="0.917" fill="#ecdde8"/>
<rect x="12" y="17" width="0.911" height="0.917" fill="#ffffff"/>
<rect x="13" y="17" width="0.911" height="0.917" fill="#ffffff"/>
<rect x="14" y="17" width="0.911" height="0.917" fill="#ffffff"/>
<rect x="15" y="17" width="0.911" height="0.917" fill="#ffffff"/>
<rect x="16" y="17" width="0.911" height="0.917" fill="#ffffff"/>
<rect x="17" y="17" width="0.911" height="0.917" fill="#9f558d"/>
</g>
<g font-size="7" font-weight="bold" stroke="#000" stroke-width="0.12">
<text x="628.30" y="9.11">C4</text>
<text x="628.30" y="16.98">C1</text>
<text x="628.30" y="24.85">C13</text>
<text x="628.30" y="32.72">C12</text>
<text x="628.30" y="40.59">C6</text>
<text x="628.30" y="48.46">C11</text>
<text x="628.30" y="56.33">C18</text>
<text x="628.30" y="64.20">C8</text>
<text x="628.30" y="72.07">C5</text>
<text x="628.30" y="79.93">C2</text>
<text x="628.30" y="87.80">C14</text>
<text x="628.30" y="95.67">C3</text>
<text x="628.30" y="103.54">C15</text>
<text x="628.30" y="111.41">C10</text>
<text x="628.30" y="119.28">C9</text>
<text x="628.30" y="127.15">C7</text>
<text x="628.30" y="135.02">C16</text>
<text x="628.30" y="142.89">C17</text>
</g>
<g class="h4" transform="translate(90.00 177.70) scale(7.9194 7.8694)">
<rect x="0" y="0" width="0.918" height="0.917" fill="#9f558d"/>
<rect x="1" y="0" width="0.918" height="0.917" fill="#c599bb"/>
<rect x="2" y="0" width="0.918" height="0.917" fill="#c599bb"/>
<rect x="3" y="0" width="0.918" height="0.917" fill="#c599bb"/>
<rect x="4" y="0" width="0.918" height="0.917" fill="#c599bb"/>
<rect x="5" y="0" width="0.918" height="0.917" fill="#c599bb"/>
<rect x="6" y="0" width="0.918" height="0.917" fill="#c599bb"/>
<rect x="7" y="0" width="0.918" height="0.917" fill="#cae4d6"/>
<rect x="8" y="0" width="0.918" height="0.917" fill="#d7eae0"/>
<rect x="9" y="0" width="0.918" height="0.917" fill="#d7b8cf"/>
<rect x="10" y="0" width="0.918" height="0.917" fill="#ffffff"/>
<rect x="11" y="0" width="0.918" height="0.917" fill="#ffffff"/>
<rect x="12" y="0" width="0.918" height="0.917" fill="#e3f1ea"/>
<rect x="13" y="0" width="0.918" height="0.917" fill="#cae4d6"/>
<rect x="14" y="0" width="0.918" height="0.917" fill="#e3f1ea"/>
<rect x="15" y="0" width="0.918" height="0.917" fill="#b277a4"/>
<rect x="16" y="0" width="0.918" height="0.917" fill="#ecdde8"/>
<rect x="17" y="0" width="0.918" height="0.917" fill="#ecdde8"/>
<rect x="0" y="1" width="0.918" height="0.917" fill="#c599bb"/>
<rect x="1" y="1" width="0.918" height="0.917" fill="#9f558d"/>
<rect x="2" y="1" width="0.918" height="0.917" fill="#ecdde8"/>
<rect x="3" y="1" width="0.918" height="0.917" fill="#d7b8cf"/>
<rect x="4" y="1" width="0.918" height="0.917" fill="#d7b8cf"/>
<rect x="5" y="1" width="0.918" height="0.917" fill="#d7b8cf"/>
<rect x="6" y="1" width="0.918" height="0.917" fill="#c599bb"/>
<rect x="7" y="1" width="0.918" height="0.917" fill="#e3f1ea"/>
<rect x="8" y="1" width="0.918" height="0.917" fill="#cae4d6"/>
<rect x="9" y="1" width="0.918" height="0.917" fill="#ffffff"/>
<rect x="10" y="1" width="0.918" height="0.917" fill="#ffffff"/>
<rect x="11" y="1" width="0.918" height="0.917" fill="#cae4d6"/>
<rect x="12" y="1" width="0.918" height="0.917" fill="#ffffff"/>
<rect x="13" y="1" width="0.918" height="0.917" fill="#99cab0"/>
<rect x="14" y="1" width="0.918" height="0.917" fill="#b1d7c3"/>
<rect x="15" y="1" width="0.918" height="0.917" fill="#ecdde8"/>
<rect x="16" y="1" width="0.918" height="0.917" fill="#99cab0"/>
<rect x="17" y="1" width="0.918" height="0.917" fill="#ffffff"/>
<rect x="0" y="2" width="0.918" height="0.917" fill="#c599bb"/>
<rect x="1" y="2" width="0.918" height="0.917" fill="#ecdde8"/>
<rect x="2" y="2" width="0.918" height="0.917" fill="#9f558d"/>
<rect x="3" y="2" width="0.918" height="0.917" fill="#b277a4"/>
<rect x="4" y="2" width="0.918" height="0.917" fill="#d7b8cf"/>
<rect x="5" y="2" width="0.918" height="0.917" fill="#d7b8cf"/>
<rect x="6" y="2" width="0.918" height="0.917" fill="#d7b8cf"/>
<rect x="7" y="2" width="0.918" height="0.917" fill="#cae4d6"/>
<rect x="8" y="2" width="0.918" height="0.917" fill="#cae4d6"/>
<rect x="9" y="2" width="0.918" height="0.917" fill="#ecdde8"/>
<rect x="10" y="2" width="0.918" height="0.917" fill="#99cab0"/>
<rect x="11" y="2" width="0.918" height="0.917" fill="#e3f1ea"/>
<rect x="12" y="2" width="0.918" height="0.917" fill="#ffffff"/>
<rect x="13" y="2" width="0.918" height="0.917" fill="#99cab0"/>
<rect x="14" y="2" width="0.918" height="0.917" fill="#e3f1ea"/>
<rect x="15" y="2" width="0.918" height="0.917" fill="#d7b8cf"/>
<rect x="16" y="2" width="0.918" height="0.917" fill="#c599bb"/>
<rect x="17" y="2" width="0.918" height="0.917" fill="#e3f1ea"/>
<rect x="0" y="3" width="0.918" height="0.917" fill="#c599bb"/>
<rect x="1" y="3" width="0.918" height="0.917" fill="#d7b8cf"/>
<rect x="2" y="3" width="0.918" height="0.917" fill="#b277a4"/>
<rect x="3" y="3" width="0.918" height="0.917" fill="#9f558d"/>
<rect x="4" y="3" width="0.918" height="0.917" fill="#d7b8cf"/>
<rect x="5" y="3" width="0.918" height="0.917" fill="#d7b8cf"/>
<rect x="6" y="3" width="0.918" height="0.917" fill="#d7b8cf"/>
<rect x="7" y="3" width="0.918" height="0.917" fill="#d7eae0"/>
<rect x="8" y="3" width="0.918" height="0.917" fill="#cae4d6"/>
<rect x="9" y="3" width="0.918" height="0.917" fill="#f5eef4"/>
<rect x="10" y="3" width="0.918" height="0.917" fill="#cae4d6"/>
<rect x="11" y="3" width="0.918" height="0.917" fill="#cae4d6"/>
<rect x="12" y="3" width="0.918" height="0.917" fill="#ecdde8"/>
<rect x="13" y="3" width="0.918" height="0.917" fill="#7dbc9b"/>
<rect x="14" y="3" width="0.918" height="0.917" fill="#b1d7c3"/>
<rect x="15" y="3" width="0.918" height="0.917" fill="#ecdde8"/>
<rect x="16" y="3" width="0.918" height="0.917" fill="#ffffff"/>
<rect x="17" y="3" width="0.918" height="0.917" fill="#e3f1ea"/>
<rect x="0" y="4" width="0.918" height="0.917" fill="#c599bb"/>
<rect x="1" y="4" width="0.918" height="0.917" fill="#d7b8cf"/>
<rect x="2" y="4" width="0.918" height="0.917" fill="#d7b8cf"/>
<rect x="3" y="4" width="0.918" height="0.917" fill="#d7b8cf"/>
<rect x="4" y="4" width="0.918" height="0.917" fill="#9f558d"/>
<rect x="5" y="4" width="0.918" height="0.917" fill="#a45e93"/>
<rect x="6" y="4" width="0.918" height="0.917" fill="#a45e93"/>
<rect x="7" y="4" width="0.918" height="0.917" fill="#99cab0"/>
<rect x="8" y="4" width="0.918" height="0.917" fill="#61ae86"/>
<rect x="9" y="4" width="0.918" height="0.917" fill="#cae4d6"/>
<rect x="10" y="4" width="0.918" height="0.917" fill="#cae4d6"/>
<rect x="11" y="4" width="0.918" height="0.917" fill="#cae4d6"/>
<rect x="12" y="4" width="0.918" height="0.917" fill="#cae4d6"/>
<rect x="13" y="4" width="0.918" height="0.917" fill="#99cab0"/>
<rect x="14" y="4" width="0.918" height="0.917" fill="#b1d7c3"/>
<rect x="15" y="4" width="0.918" height="0.917" fill="#d7b8cf"/>
<rect x="16" y="4" width="0.918" height="0.917" fill="#ffffff"/>
<rect x="17" y="4" width="0.918" height="0.917" fill="#e3f1ea"/>
<rect x="0" y="5" width="0.918" height="0.917" fill="#c599bb"/>
<rect x="1" y="5" width="0.918" height="0.917" fill="#d7b8cf"/>
<rect x="2" y="5" width="0.918" height="0.917" fill="#d7b8cf"/>
<rect x="3" y="5" width="0.918" height="0.917" fill="#d7b8cf"/>
<rect x="4" y="5" width="0.918" height="0.917" fill="#a45e93"/>
<rect x="5" y="5" width="0.918" height="0.917" fill="#9f558d"/>
<rect x="6" y="5" width="0.918" height="0.917" fill="#a45e93"/>
<rect x="7" y="5" width="0.918" height="0.917" fill="#99cab0"/>
<rect x="8" y="5" width="0.918" height="0.917" fill="#61ae86"/>
<rect x="9" y="5" width="0.918" height="0.917" fill="#cae4d6"/>
<rect x="10" y="5" width="0.918" height="0.917" fill="#cae4d6"/>
<rect x="11" y="5" width="0.918" height="0.917" fill="#cae4d6"/>
<rect x="12" y="5" width="0.918" height="0.917" fill="#cae4d6"/>
<rect x="13" y="5" width="0.918" height="0.917" fill="#99cab0"/>
<rect x="14" y="5" width="0.918" height="0.917" fill="#b1d7c3"/>
<rect x="15" y="5" width="0.918" height="0.917" fill="#d7b8cf"/>
<rect x="16" y="5" width="0.918" height="0.917" fill="#e3f1ea"/>
<rect x="17" y="5" width="0.918" height="0.917" fill="#e3f1ea"/>
<rect x="0" y="6" width="0.918" height="0.917" fill="#c599bb"/>
<rect x="1" y="6" width="0.918" height="0.917" fill="#c599bb"/>
<rect x="2" y="6" width="0.918" height="0.917" fill="#d7b8cf"/>
<rect x="3" y="6" width="0.918" height="0.917" fill="#d7b8cf"/>
<rect x="4" y="6" width="0.918" height="0.917" fill="#a45e93"/>
<rect x="5" y="6" width="0.918" height="0.917" fill="#a45e93"/>
<rect x="6" y="6" width="0.918" height="0.917" fill="#9f558d"/>
<rect x="7" y="6" width="0.918" height="0.917" fill="#99cab0"/>
<rect x="8" y="6" width="0.918" height="0.917" fill="#7dbc9b"/>
<rect x="9" y="6" width="0.918" height="0.917" fill="#cae4d6"/>
<rect x="10" y="6" width="0.918" height="0.917" fill="#d7eae0"/>
<rect x="11" y="6" width="0.918" height="0.917" fill="#cae4d6"/>
<rect x="12" y="6" width="0.918" height="0.917" fill="#cae4d6"/>
<rect x="13" y="6" width="0.918" height="0.917" fill="#99cab0"/>
<rect x="14" y="6" width="0.918" height="0.917" fill="#b1d7c3"/>
<rect x="15" y="6" width="0.918" height="0.917" fill="#d7b8cf"/>
<rect x="16" y="6" width="0.918" height="0.917" fill="#e3f1ea"/>
<rect x="17" y="6" width="0.918" height="0.917" fill="#ffffff"/>
<rect x="0" y="7" width="0.918" height="0.917" fill="#cae4d6"/>
<rect x="1" y="7" width="0.918" height="0.917" fill="#e3f1ea"/>
<rect x="2" y="7" width="0.918" height="0.917" fill="#cae4d6"/>
<rect x="3" y="7" width="0.918" height="0.917" fill="#d7eae0"/>
<rect x="4" y="7" width="0.918" height="0.917" fill="#99cab0"/>
<rect x="5" y="7" width="0.918" height="0.917" fill="#99cab0"/>
<rect x="6" y="7" width="0.918" height="0.917" fill="#99cab0"/>
<rect x="7" y="7" width="0.918" height="0.917" fill="#9f558d"/>
<rect x="8" y="7" width="0.918" height="0.917" fill="#c599bb"/>
<rect x="9" y="7" width="0.918" height="0.917" fill="#ffffff"/>
<rect x="10" y="7" width="0.918" height="0.917" fill="#ecdde8"/>
<rect x="11" y="7" width="0.918" height="0.917" fill="#ecdde8"/>
<rect x="12" y="7" width="0.918" height="0.917" fill="#b277a4"/>
<rect x="13" y="7" width="0.918" height="0.917" fill="#e1cadc"/>
<rect x="14" y="7" width="0.918" height="0.917" fill="#cea8c5"/>
<rect x="15" y="7" width="0.918" height="0.917" fill="#e3f1ea"/>
<rect x="16" y="7" width="0.918" height="0.917" fill="#ffffff"/>
<rect x="17" y="7" width="0.918" height="0.917" fill="#ecdde8"/>
<rect x="0" y="8" width="0.918" height="0.917" fill="#d7eae0"/>
<rect x="1" y="8" width="0.918" height="0.917" fill="#cae4d6"/>
<rect x="2" y="8" width="0.918" height="0.917" fill="#cae4d6"/>
<rect x="3" y="8" width="0.918" height="0.917" fill="#cae4d6"/>
<rect x="4" y="8" width="0.918" height="0.917" fill="#61ae86"/>
<rect x="5" y="8" width="0.918" height="0.917" fill="#61ae86"/>
<rect x="6" y="8" width="0.918" height="0.917" fill="#7dbc9b"/>
<rect x="7" y="8" width="0.918" height="0.917" fill="#c599bb"/>
<rect x="8" y="8" width="0.918" height="0.917" fill="#9f558d"/>
<rect x="9" y="8" width="0.918" height="0.917" fill="#d7b8cf"/>
<rect x="10" y="8" width="0.918" height="0.917" fill="#d7b8cf"/>
<rect x="11" y="8" width="0.918" height="0.917" fill="#d7b8cf"/>
<rect x="12" y="8" width="0.918" height="0.917" fill="#d7b8cf"/>
<rect x="13" y="8" width="0.918" height="0.917" fill="#d7b8cf"/>
<rect x="14" y="8" width="0.918" height="0.917" fill="#cea8c5"/>
<rect x="15" y="8" width="0.918" height="0.917" fill="#e3f1ea"/>
<rect x="16" y="8" width="0.918" height="0.917" fill="#ffffff"/>
<rect x="17" y="8" width="0.918" height="0.917" fill="#ecdde8"/>
<rect x="0" y="9" width="0.918" height="0.917" fill="#d7b8cf"/>
<rect x="1" y="9" width="0.918" height="0.917" fill="#ffffff"/>
<rect x="2" y="9" width="0.918" height="0.917" fill="#ecdde8"/>
<rect x="3" y="9" width="0.918" height="0.917" fill="#f5eef4"/>
<rect x="4" y="9" width="0.918" height="0.917" fill="#cae4d6"/>
<rect x="5" y="9" width="0.918" height="0.917" fill="#cae4d6"/>
<rect x="6" y="9" width="0.918" height="0.917" fill="#cae4d6"/>
<rect x="7" y="9" width="0.918" height="0.917" fill="#ffffff"/>
<rect x="8" y="9" width="0.918" height="0.917" fill="#d7b8cf"/>
<rect x="9" y="9" width="0.918" height="0.917" fill="#9f558d"/>
<rect x="10" y="9" width="0.918" height="0.917" fill="#ffffff"/>
<rect x="11" y="9" width="0.918" height="0.917" fill="#ecdde8"/>
<rect x="12" y="9" width="0.918" height="0.917" fill="#ecdde8"/>
<rect x="13" y="9" width="0.918" height="0.917" fill="#ffffff"/>
<rect x="14" y="9" width="0.918" height="0.917" fill="#ecdde8"/>
<rect x="15" y="9" width="0.918" height="0.917" fill="#d7b8cf"/>
<rect x="16" y="9" width="0.918" height="0.917" fill="#ecdde8"/>
<rect x="17" y="9" width="0.918" height="0.917" fill="#ecdde8"/>
<rect x="0" y="10" width="0.918" height="0.917" fill="#ffffff"/>
<rect x="1" y="10" width="0.918" height="0.917" fill="#ffffff"/>
<rect x="2" y="10" width="0.918" height="0.917" fill="#99cab0"/>
<rect x="3" y="10" width="0.918" height="0.917" fill="#cae4d6"/>
<rect x="4" y="10" width="0.918" height="0.917" fill="#cae4d6"/>
<rect x="5" y="10" width="0.918" height="0.917" fill="#cae4d6"/>
<rect x="6" y="10" width="0.918" height="0.917" fill="#d7eae0"/>
<rect x="7" y="10" width="0.918" height="0.917" fill="#ecdde8"/>
<rect x="8" y="10" width="0.918" height="0.917" fill="#d7b8cf"/>
<rect x="9" y="10" width="0.918" height="0.917" fill="#ffffff"/>
<rect x="10" y="10" width="0.918" height="0.917" fill="#9f558d"/>
<rect x="11" y="10" width="0.918" height="0.917" fill="#b277a4"/>
<rect x="12" y="10" width="0.918" height="0.917" fill="#ffffff"/>
<rect x="13" y="10" width="0.918" height="0.917" fill="#b277a4"/>
<rect x="14" y="10" width="0.918" height="0.917" fill="#c599bb"/>
<rect x="15" y="10" width="0.918" height="0.917" fill="#ecdde8"/>
<rect x="16" y="10" width="0.918" height="0.917" fill="#e3f1ea"/>
<rect x="17" y="10" width="0.918" height="0.917" fill="#c599bb"/>
<rect x="0" y="11" width="0.918" height="0.917" fill="#ffffff"/>
<rect x="1" y="11" width="0.918" height="0.917" fill="#cae4d6"/>
<rect x="2" y="11" width="0.918" height="0.917" fill="#e3f1ea"/>
<rect x="3" y="11" width="0.918" height="0.917" fill="#cae4d6"/>
<rect x="4" y="11" width="0.918" height="0.917" fill="#cae4d6"/>
<rect x="5" y="11" width="0.918" height="0.917" fill="#cae4d6"/>
<rect x="6" y="11" width="0.918" height="0.917" fill="#cae4d6"/>
<rect x="7" y="11" width="0.918" height="0.917" fill="#ecdde8"/>
<rect x="8" y="11" width="0.918" height="0.917" fill="#d7b8cf"/>
<rect x="9" y="11" width="0.918" height="0.917" fill="#ecdde8"/>
<rect x="10" y="11" width="0.918" height="0.917" fill="#b277a4"/>
<rect x="11" y="11" width="0.918" height="0.917" fill="#9f558d"/>
<rect x="12" y="11" width="0.918" height="0.917" fill="#ecdde8"/>
<rect x="13" y="11" width="0.918" height="0.917" fill="#b277a4"/>
<rect x="14" y="11" width="0.918" height="0.917" fill="#b277a4"/>
<rect x="15" y="11" width="0.918" height="0.917" fill="#ecdde8"/>
<rect x="16" y="11" width="0.918" height="0.917" fill="#d7b8cf"/>
<rect x="17" y="11" width="0.918" height="0.917" fill="#cea8c5"/>
<rect x="0" y="12" width="0.918" height="0.917" fill="#e3f1ea"/>
<rect x="1" y="12" width="0.918" height="0.917" fill="#ffffff"/>
<rect x="2" y="12" width="0.918" height="0.917" fill="#ffffff"/>
<rect x="3" y="12" width="0.918" height="0.917" fill="#ecdde8"/>
<rect x="4" y="12" width="0.918" height="0.917" fill="#cae4d6"/>
<rect x="5" y="12" width="0.918" height="0.917" fill="#cae4d6"/>
<rect x="6" y="12" width="0.918" height="0.917" fill="#cae4d6"/>
<rect x="7" y="12" width="0.918" height="0.917" fill="#b277a4"/>
<rect x="8" y="12" width="0.918" height="0.917" fill="#d7b8cf"/>
<rect x="9" y="12" width="0.918" height="0.917" fill="#ecdde8"/>
<rect x="10" y="12" width="0.918" height="0.917" fill="#ffffff"/>
<rect x="11" y="12" width="0.918" height="0.917" fill="#ecdde8"/>
<rect x="12" y="12" width="0.918" height="0.917" fill="#9f558d"/>
<rect x="13" y="12" width="0.918" height="0.917" fill="#ecdde8"/>
<rect x="14" y="12" width="0.918" height="0.917" fill="#c599bb"/>
<rect x="15" y="12" width="0.918" height="0.917" fill="#ecdde8"/>
<rect x="16" y="12" width="0.918" height="0.917" fill="#d7b8cf"/>
<rect x="17" y="12" width="0.918" height="0.917" fill="#ecdde8"/>
<rect x="0" y="13" width="0.918" height="0.917" fill="#cae4d6"/>
<rect x="1" y="13" width="0.918" height="0.917" fill="#99cab0"/>
<rect x="2" y="13" width="0.918" height="0.917" fill="#99cab0"/>
<rect x="3" y="13" width="0.918" height="0.917" fill="#7dbc9b"/>
<rect x="4" y="13" width="0.918" height="0.917" fill="#99cab0"/>
<rect x="5" y="13" width="0.918" height="0.917" fill="#99cab0"/>
<rect x="6" y="13" width="0.918" height="0.917" fill="#99cab0"/>
<rect x="7" y="13" width="0.918" height="0.917" fill="#e1cadc"/>
<rect x="8" y="13" width="0.918" height="0.917" fill="#d7b8cf"/>
<rect x="9" y="13" width="0.918" height="0.917" fill="#ffffff"/>
<rect x="10" y="13" width="0.918" height="0.917" fill="#b277a4"/>
<rect x="11" y="13" width="0.918" height="0.917" fill="#b277a4"/>
<rect x="12" y="13" width="0.918" height="0.917" fill="#ecdde8"/>
<rect x="13" y="13" width="0.918" height="0.917" fill="#9f558d"/>
<rect x="14" y="13" width="0.918" height="0.917" fill="#b277a4"/>
<rect x="15" y="13" width="0.918" height="0.917" fill="#ecdde8"/>
<rect x="16" y="13" width="0.918" height="0.917" fill="#d7b8cf"/>
<rect x="17" y="13" width="0.918" height="0.917" fill="#d7b8cf"/>
<rect x="0" y="14" width="0.918" height="0.917" fill="#e3f1ea"/>
<rect x="1" y="14" width="0.918" height="0.917" fill="#b1d7c3"/>
<rect x="2" y="14" width="0.918" height="0.917" fill="#e3f1ea"/>
<rect x="3" y="14" width="0.918" height="0.917" fill="#b1d7c3"/>
<rect x="4" y="14" width="0.918" height="0.917" fill="#b1d7c3"/>
<rect x="5" y="14" width="0.918" height="0.917" fill="#b1d7c3"/>
<rect x="6" y="14" width="0.918" height="0.917" fill="#b1d7c3"/>
<rect x="7" y="14" width="0.918" height="0.917" fill="#cea8c5"/>
<rect x="8" y="14" width="0.918" height="0.917" fill="#cea8c5"/>
<rect x="9" y="14" width="0.918" height="0.917" fill="#ecdde8"/>
<rect x="10" y="14" width="0.918" height="0.917" fill="#c599bb"/>
<rect x="11" y="14" width="0.918" height="0.917" fill="#b277a4"/>
<rect x="12" y="14" width="0.918" height="0.917" fill="#c599bb"/>
<rect x="13" y="14" width="0.918" height="0.917" fill="#b277a4"/>
<rect x="14" y="14" width="0.918" height="0.917" fill="#9f558d"/>
<rect x="15" y="14" width="0.918" height="0.917" fill="#d7b8cf"/>
<rect x="16" y="14" width="0.918" height="0.917" fill="#c599bb"/>
<rect x="17" y="14" width="0.918" height="0.917" fill="#d7b8cf"/>
<rect x="0" y="15" width="0.918" height="0.917" fill="#b277a4"/>
<rect x="1" y="15" width="0.918" height="0.917" fill="#ecdde8"/>
<rect x="2" y="15" width="0.918" height="0.917" fill="#d7b8cf"/>
<rect x="3" y="15" width="0.918" height="0.917" fill="#ecdde8"/>
<rect x="4" y="15" width="0.918" height="0.917" fill="#d7b8cf"/>
<rect x="5" y="15" width="0.918" height="0.917" fill="#d7b8cf"/>
<rect x="6" y="15" width="0.918" height="0.917" fill="#d7b8cf"/>
<rect x="7" y="15" width="0.918" height="0.917" fill="#e3f1ea"/>
<rect x="8" y="15" width="0.918" height="0.917" fill="#e3f1ea"/>
<rect x="9" y="15" width="0.918" height="0.917" fill="#d7b8cf"/>
<rect x="10" y="15" width="0.918" height="0.917" fill="#ecdde8"/>
<rect x="11" y="15" width="0.918" height="0.917" fill="#ecdde8"/>
<rect x="12" y="15" width="0.918" height="0.917" fill="#ecdde8"/>
<rect x="13" y="15" width="0.918" height="0.917" fill="#ecdde8"/>
<rect x="14" y="15" width="0.918" height="0.917" fill="#d7b8cf"/>
<rect x="15" y="15" width="0.918" height="0.917" fill="#9f558d"/>
<rect x="16" y="15" width="0.918" height="0.917" fill="#c599bb"/>
<rect x="17" y="15" width="0.918" height="0.917" fill="#ecdde8"/>
<rect x="0" y="16" width="0.918" height="0.917" fill="#ecdde8"/>
<rect x="1" y="16" width="0.918" height="0.917" fill="#99cab0"/>
<rect x="2" y="16" width="0.918" height="0.917" fill="#c599bb"/>
<rect x="3" y="16" width="0.918" height="0.917" fill="#ffffff"/>
<rect x="4" y="16" width="0.918" height="0.917" fill="#ffffff"/>
<rect x="5" y="16" width="0.918" height="0.917" fill="#e3f1ea"/>
<rect x="6" y="16" width="0.918" height="0.917" fill="#e3f1ea"/>
<rect x="7" y="16" width="0.918" height="0.917" fill="#ffffff"/>
<rect x="8" y="16" width="0.918" height="0.917" fill="#ffffff"/>
<rect x="9" y="16" width="0.918" height="0.917" fill="#ecdde8"/>
<rect x="10" y="16" width="0.918" height="0.917" fill="#e3f1ea"/>
<rect x="11" y="16" width="0.918" height="0.917" fill="#d7b8cf"/>
<rect x="12" y="16" width="0.918" height="0.917" fill="#d7b8cf"/>
<rect x="13" y="16" width="0.918" height="0.917" fill="#d7b8cf"/>
<rect x="14" y="16" width="0.918" height="0.917" fill="#c599bb"/>
<rect x="15" y="16" width="0.918" height="0.917" fill="#c599bb"/>
<rect x="16" y="16" width="0.918" height="0.917" fill="#9f558d"/>
<rect x="17" y="16" width="0.918" height="0.917" fill="#ffffff"/>
<rect x="0" y="17" width="0.918" height="0.917" fill="#ecdde8"/>
<rect x="1" y="17" width="0.918" height="0.917" fill="#ffffff"/>
<rect x="2" y="17" width="0.918" height="0.917" fill="#e3f1ea"/>
<rect x="3" y="17" width="0.918" height="0.917" fill="#e3f1ea"/>
<rect x="4" y="17" width="0.918" height="0.917" fill="#e3f1ea"/>
<rect x="5" y="17" width="0.918" height="0.917" fill="#e3f1ea"/>
<rect x="6" y="17" width="0.918" height="0.917" fill="#ffffff"/>
<rect x="7" y="17" width="0.918" height="0.917" fill="#ecdde8"/>
<rect x="8" y="17" width="0.918" height="0.917" fill="#ecdde8"/>
<rect x="9" y="17" width="0.918" height="0.917" fill="#ecdde8"/>
<rect x="10" y="17" width="0.918" height="0.917" fill="#c599bb"/>
<rect x="11" y="17" width="0.918" height="0.917" fill="#cea8c5"/>
<rect x="12" y="17" width="0.918" height="0.917" fill="#ecdde8"/>
<rect x="13" y="17" width="0.918" height="0.917" fill="#d7b8cf"/>
<rect x="14" y="17" width="0.918" height="0.917" fill="#d7b8cf"/>
<rect x="15" y="17" width="0.918" height="0.917" fill="#ecdde8"/>
<rect x="16" y="17" width="0.918" height="0.917" fill="#ffffff"/>
<rect x="17" y="17" width="0.918" height="0.917" fill="#9f558d"/>
</g>
<g font-size="7" font-weight="bold" stroke="#000" stroke-width="0.12">
<text x="233.80" y="184.51">C4</text>
<text x="233.80" y="192.38">C1</text>
<text x="233.80" y="200.25">C13</text>
<text x="233.80" y="208.12">C12</text>
<text x="233.80" y="215.99">C6</text>
<text x="233.80" y="223.86">C11</text>
<text x="233.80" y="231.73">C18</text>
<text x="233.80" y="239.60">C8</text>
<text x="233.80" y="247.47">C5</text>
<text x="233.80" y="255.33">C2</text>
<text x="233.80" y="263.20">C14</text>
<text x="233.80" y="271.07">C3</text>
<text x="233.80" y="278.94">C15</text>
<text x="233.80" y="286.81">C10</text>
<text x="233.80" y="294.68">C9</text>
<text x="233.80" y="302.55">C7</text>
<text x="233.80" y="310.42">C16</text>
<text x="233.80" y="318.29">C17</text>
</g>
<g class="h5" transform="translate(288.00 178.40) scale(8.1472 7.7750)">
<rect x="0" y="0" width="0.920" height="0.916" fill="#9f558d"/>
<rect x="1" y="0" width="0.920" height="0.916" fill="#c599bb"/>
<rect x="2" y="0" width="0.920" height="0.916" fill="#d7b8cf"/>
<rect x="3" y="0" width="0.920" height="0.916" fill="#d7b8cf"/>
<rect x="4" y="0" width="0.920" height="0.916" fill="#ecdde8"/>
<rect x="5" y="0" width="0.920" height="0.916" fill="#ecdde8"/>
<rect x="6" y="0" width="0.920" height="0.916" fill="#d7b8cf"/>
<rect x="7" y="0" width="0.920" height="0.916" fill="#bcddcc"/>
<rect x="8" y="0" width="0.920" height="0.916" fill="#ecdde8"/>
<rect x="9" y="0" width="0.920" height="0.916" fill="#d7b8cf"/>
<rect x="10" y="0" width="0.920" height="0.916" fill="#ecdde8"/>
<rect x="11" y="0" width="0.920" height="0.916" fill="#f5eef4"/>
<rect x="12" y="0" width="0.920" height="0.916" fill="#cee6d9"/>
<rect x="13" y="0" width="0.920" height="0.916" fill="#cee6d9"/>
<rect x="14" y="0" width="0.920" height="0.916" fill="#cee6d9"/>
<rect x="15" y="0" width="0.920" height="0.916" fill="#c599bb"/>
<rect x="16" y="0" width="0.920" height="0.916" fill="#dfefe7"/>
<rect x="17" y="0" width="0.920" height="0.916" fill="#ecdde8"/>
<rect x="0" y="1" width="0.920" height="0.916" fill="#c599bb"/>
<rect x="1" y="1" width="0.920" height="0.916" fill="#9f558d"/>
<rect x="2" y="1" width="0.920" height="0.916" fill="#ffffff"/>
<rect x="3" y="1" width="0.920" height="0.916" fill="#d7b8cf"/>
<rect x="4" y="1" width="0.920" height="0.916" fill="#ecdde8"/>
<rect x="5" y="1" width="0.920" height="0.916" fill="#d7b8cf"/>
<rect x="6" y="1" width="0.920" height="0.916" fill="#d7b8cf"/>
<rect x="7" y="1" width="0.920" height="0.916" fill="#dfefe7"/>
<rect x="8" y="1" width="0.920" height="0.916" fill="#ffffff"/>
<rect x="9" y="1" width="0.920" height="0.916" fill="#ffffff"/>
<rect x="10" y="1" width="0.920" height="0.916" fill="#ecdde8"/>
<rect x="11" y="1" width="0.920" height="0.916" fill="#dfefe7"/>
<rect x="12" y="1" width="0.920" height="0.916" fill="#dfefe7"/>
<rect x="13" y="1" width="0.920" height="0.916" fill="#bcddcc"/>
<rect x="14" y="1" width="0.920" height="0.916" fill="#bcddcc"/>
<rect x="15" y="1" width="0.920" height="0.916" fill="#ffffff"/>
<rect x="16" y="1" width="0.920" height="0.916" fill="#7dbc9b"/>
<rect x="17" y="1" width="0.920" height="0.916" fill="#ecdde8"/>
<rect x="0" y="2" width="0.920" height="0.916" fill="#d7b8cf"/>
<rect x="1" y="2" width="0.920" height="0.916" fill="#ffffff"/>
<rect x="2" y="2" width="0.920" height="0.916" fill="#9f558d"/>
<rect x="3" y="2" width="0.920" height="0.916" fill="#c599bb"/>
<rect x="4" y="2" width="0.920" height="0.916" fill="#dfefe7"/>
<rect x="5" y="2" width="0.920" height="0.916" fill="#dfefe7"/>
<rect x="6" y="2" width="0.920" height="0.916" fill="#dfefe7"/>
<rect x="7" y="2" width="0.920" height="0.916" fill="#99cab0"/>
<rect x="8" y="2" width="0.920" height="0.916" fill="#dfefe7"/>
<rect x="9" y="2" width="0.920" height="0.916" fill="#ecdde8"/>
<rect x="10" y="2" width="0.920" height="0.916" fill="#aad4be"/>
<rect x="11" y="2" width="0.920" height="0.916" fill="#ffffff"/>
<rect x="12" y="2" width="0.920" height="0.916" fill="#cee6d9"/>
<rect x="13" y="2" width="0.920" height="0.916" fill="#bcddcc"/>
<rect x="14" y="2" width="0.920" height="0.916" fill="#dfefe7"/>
<rect x="15" y="2" width="0.920" height="0.916" fill="#ecdde8"/>
<rect x="16" y="2" width="0.920" height="0.916" fill="#d7b8cf"/>
<rect x="17" y="2" width="0.920" height="0.916" fill="#bcddcc"/>
<rect x="0" y="3" width="0.920" height="0.916" fill="#d7b8cf"/>
<rect x="1" y="3" width="0.920" height="0.916" fill="#d7b8cf"/>
<rect x="2" y="3" width="0.920" height="0.916" fill="#c599bb"/>
<rect x="3" y="3" width="0.920" height="0.916" fill="#9f558d"/>
<rect x="4" y="3" width="0.920" height="0.916" fill="#dfefe7"/>
<rect x="5" y="3" width="0.920" height="0.916" fill="#dfefe7"/>
<rect x="6" y="3" width="0.920" height="0.916" fill="#ffffff"/>
<rect x="7" y="3" width="0.920" height="0.916" fill="#bcddcc"/>
<rect x="8" y="3" width="0.920" height="0.916" fill="#ffffff"/>
<rect x="9" y="3" width="0.920" height="0.916" fill="#ecdde8"/>
<rect x="10" y="3" width="0.920" height="0.916" fill="#cee6d9"/>
<rect x="11" y="3" width="0.920" height="0.916" fill="#dfefe7"/>
<rect x="12" y="3" width="0.920" height="0.916" fill="#dfefe7"/>
<rect x="13" y="3" width="0.920" height="0.916" fill="#99cab0"/>
<rect x="14" y="3" width="0.920" height="0.916" fill="#aad4be"/>
<rect x="15" y="3" width="0.920" height="0.916" fill="#ffffff"/>
<rect x="16" y="3" width="0.920" height="0.916" fill="#dfefe7"/>
<rect x="17" y="3" width="0.920" height="0.916" fill="#dfefe7"/>
<rect x="0" y="4" width="0.920" height="0.916" fill="#ecdde8"/>
<rect x="1" y="4" width="0.920" height="0.916" fill="#ecdde8"/>
<rect x="2" y="4" width="0.920" height="0.916" fill="#dfefe7"/>
<rect x="3" y="4" width="0.920" height="0.916" fill="#dfefe7"/>
<rect x="4" y="4" width="0.920" height="0.916" fill="#9f558d"/>
<rect x="5" y="4" width="0.920" height="0.916" fill="#a45e93"/>
<rect x="6" y="4" width="0.920" height="0.916" fill="#a45e93"/>
<rect x="7" y="4" width="0.920" height="0.916" fill="#99cab0"/>
<rect x="8" y="4" width="0.920" height="0.916" fill="#7dbc9b"/>
<rect x="9" y="4" width="0.920" height="0.916" fill="#bcddcc"/>
<rect x="10" y="4" width="0.920" height="0.916" fill="#dfefe7"/>
<rect x="11" y="4" width="0.920" height="0.916" fill="#bcddcc"/>
<rect x="12" y="4" width="0.920" height="0.916" fill="#99cab0"/>
<rect x="13" y="4" width="0.920" height="0.916" fill="#bcddcc"/>
<rect x="14" y="4" width="0.920" height="0.916" fill="#aad4be"/>
<rect x="15" y="4" width="0.920" height="0.916" fill="#ecdde8"/>
<rect x="16" y="4" width="0.920" height="0.916" fill="#bcddcc"/>
<rect x="17" y="4" width="0.920" height="0.916" fill="#dfefe7"/>
<rect x="0" y="5" width="0.920" height="0.916" fill="#ecdde8"/>
<rect x="1" y="5" width="0.920" height="0.916" fill="#d7b8cf"/>
<rect x="2" y="5" width="0.920" height="0.916" fill="#dfefe7"/>
<rect x="3" y="5" width="0.920" height="0.916" fill="#dfefe7"/>
<rect x="4" y="5" width="0.920" height="0.916" fill="#a45e93"/>
<rect x="5" y="5" width="0.920" height="0.916" fill="#9f558d"/>
<rect x="6" y="5" width="0.920" height="0.916" fill="#a45e93"/>
<rect x="7" y="5" width="0.920" height="0.916" fill="#99cab0"/>
<rect x="8" y="5" width="0.920" height="0.916" fill="#7dbc9b"/>
<rect x="9" y="5" width="0.920" height="0.916" fill="#bcddcc"/>
<rect x="10" y="5" width="0.920" height="0.916" fill="#dfefe7"/>
<rect x="11" y="5" width="0.920" height="0.916" fill="#bcddcc"/>
<rect x="12" y="5" width="0.920" height="0.916" fill="#99cab0"/>
<rect x="13" y="5" width="0.920" height="0.916" fill="#bcddcc"/>
<rect x="14" y="5" width="0.920" height="0.916" fill="#99cab0"/>
<rect x="15" y="5" width="0.920" height="0.916" fill="#ecdde8"/>
<rect x="16" y="5" width="0.920" height="0.916" fill="#99cab0"/>
<rect x="17" y="5" width="0.920" height="0.916" fill="#dfefe7"/>
<rect x="0" y="6" width="0.920" height="0.916" fill="#d7b8cf"/>
<rect x="1" y="6" width="0.920" height="0.916" fill="#d7b8cf"/>
<rect x="2" y="6" width="0.920" height="0.916" fill="#dfefe7"/>
<rect x="3" y="6" width="0.920" height="0.916" fill="#ffffff"/>
<rect x="4" y="6" width="0.920" height="0.916" fill="#a45e93"/>
<rect x="5" y="6" width="0.920" height="0.916" fill="#a45e93"/>
<rect x="6" y="6" width="0.920" height="0.916" fill="#9f558d"/>
<rect x="7" y="6" width="0.920" height="0.916" fill="#bcddcc"/>
<rect x="8" y="6" width="0.920" height="0.916" fill="#99cab0"/>
<rect x="9" y="6" width="0.920" height="0.916" fill="#dfefe7"/>
<rect x="10" y="6" width="0.920" height="0.916" fill="#ffffff"/>
<rect x="11" y="6" width="0.920" height="0.916" fill="#dfefe7"/>
<rect x="12" y="6" width="0.920" height="0.916" fill="#bcddcc"/>
<rect x="13" y="6" width="0.920" height="0.916" fill="#bcddcc"/>
<rect x="14" y="6" width="0.920" height="0.916" fill="#bcddcc"/>
<rect x="15" y="6" width="0.920" height="0.916" fill="#d7b8cf"/>
<rect x="16" y="6" width="0.920" height="0.916" fill="#bcddcc"/>
<rect x="17" y="6" width="0.920" height="0.916" fill="#eff7f3"/>
<rect x="0" y="7" width="0.920" height="0.916" fill="#bcddcc"/>
<rect x="1" y="7" width="0.920" height="0.916" fill="#dfefe7"/>
<rect x="2" y="7" width="0.920" height="0.916" fill="#99cab0"/>
<rect x="3" y="7" width="0.920" height="0.916" fill="#bcddcc"/>
<rect x="4" y="7" width="0.920" height="0.916" fill="#99cab0"/>
<rect x="5" y="7" width="0.920" height="0.916" fill="#99cab0"/>
<rect x="6" y="7" width="0.920" height="0.916" fill="#bcddcc"/>
<rect x="7" y="7" width="0.920" height="0.916" fill="#9f558d"/>
<rect x="8" y="7" width="0.920" height="0.916" fill="#d7b8cf"/>
<rect x="9" y="7" width="0.920" height="0.916" fill="#ffffff"/>
<rect x="10" y="7" width="0.920" height="0.916" fill="#dfefe7"/>
<rect x="11" y="7" width="0.920" height="0.916" fill="#dfefe7"/>
<rect x="12" y="7" width="0.920" height="0.916" fill="#b277a4"/>
<rect x="13" y="7" width="0.920" height="0.916" fill="#ffffff"/>
<rect x="14" y="7" width="0.920" height="0.916" fill="#d7b8cf"/>
<rect x="15" y="7" width="0.920" height="0.916" fill="#dfefe7"/>
<rect x="16" y="7" width="0.920" height="0.916" fill="#dfefe7"/>
<rect x="17" y="7" width="0.920" height="0.916" fill="#dfefe7"/>
<rect x="0" y="8" width="0.920" height="0.916" fill="#ecdde8"/>
<rect x="1" y="8" width="0.920" height="0.916" fill="#ffffff"/>
<rect x="2" y="8" width="0.920" height="0.916" fill="#dfefe7"/>
<rect x="3" y="8" width="0.920" height="0.916" fill="#ffffff"/>
<rect x="4" y="8" width="0.920" height="0.916" fill="#7dbc9b"/>
<rect x="5" y="8" width="0.920" height="0.916" fill="#7dbc9b"/>
<rect x="6" y="8" width="0.920" height="0.916" fill="#99cab0"/>
<rect x="7" y="8" width="0.920" height="0.916" fill="#d7b8cf"/>
<rect x="8" y="8" width="0.920" height="0.916" fill="#9f558d"/>
<rect x="9" y="8" width="0.920" height="0.916" fill="#c599bb"/>
<rect x="10" y="8" width="0.920" height="0.916" fill="#ecdde8"/>
<rect x="11" y="8" width="0.920" height="0.916" fill="#ecdde8"/>
<rect x="12" y="8" width="0.920" height="0.916" fill="#d7b8cf"/>
<rect x="13" y="8" width="0.920" height="0.916" fill="#ffffff"/>
<rect x="14" y="8" width="0.920" height="0.916" fill="#e1cadc"/>
<rect x="15" y="8" width="0.920" height="0.916" fill="#ecdde8"/>
<rect x="16" y="8" width="0.920" height="0.916" fill="#fdfcfd"/>
<rect x="17" y="8" width="0.920" height="0.916" fill="#ecdde8"/>
<rect x="0" y="9" width="0.920" height="0.916" fill="#d7b8cf"/>
<rect x="1" y="9" width="0.920" height="0.916" fill="#ffffff"/>
<rect x="2" y="9" width="0.920" height="0.916" fill="#ecdde8"/>
<rect x="3" y="9" width="0.920" height="0.916" fill="#ecdde8"/>
<rect x="4" y="9" width="0.920" height="0.916" fill="#bcddcc"/>
<rect x="5" y="9" width="0.920" height="0.916" fill="#bcddcc"/>
<rect x="6" y="9" width="0.920" height="0.916" fill="#dfefe7"/>
<rect x="7" y="9" width="0.920" height="0.916" fill="#ffffff"/>
<rect x="8" y="9" width="0.920" height="0.916" fill="#c599bb"/>
<rect x="9" y="9" width="0.920" height="0.916" fill="#9f558d"/>
<rect x="10" y="9" width="0.920" height="0.916" fill="#ffffff"/>
<rect x="11" y="9" width="0.920" height="0.916" fill="#ecdde8"/>
<rect x="12" y="9" width="0.920" height="0.916" fill="#ecdde8"/>
<rect x="13" y="9" width="0.920" height="0.916" fill="#eff7f3"/>
<rect x="14" y="9" width="0.920" height="0.916" fill="#ecdde8"/>
<rect x="15" y="9" width="0.920" height="0.916" fill="#c599bb"/>
<rect x="16" y="9" width="0.920" height="0.916" fill="#ffffff"/>
<rect x="17" y="9" width="0.920" height="0.916" fill="#ffffff"/>
<rect x="0" y="10" width="0.920" height="0.916" fill="#ecdde8"/>
<rect x="1" y="10" width="0.920" height="0.916" fill="#ecdde8"/>
<rect x="2" y="10" width="0.920" height="0.916" fill="#aad4be"/>
<rect x="3" y="10" width="0.920" height="0.916" fill="#cee6d9"/>
<rect x="4" y="10" width="0.920" height="0.916" fill="#dfefe7"/>
<rect x="5" y="10" width="0.920" height="0.916" fill="#dfefe7"/>
<rect x="6" y="10" width="0.920" height="0.916" fill="#ffffff"/>
<rect x="7" y="10" width="0.920" height="0.916" fill="#dfefe7"/>
<rect x="8" y="10" width="0.920" height="0.916" fill="#ecdde8"/>
<rect x="9" y="10" width="0.920" height="0.916" fill="#ffffff"/>
<rect x="10" y="10" width="0.920" height="0.916" fill="#9f558d"/>
<rect x="11" y="10" width="0.920" height="0.916" fill="#b277a4"/>
<rect x="12" y="10" width="0.920" height="0.916" fill="#dfefe7"/>
<rect x="13" y="10" width="0.920" height="0.916" fill="#c599bb"/>
<rect x="14" y="10" width="0.920" height="0.916" fill="#d7b8cf"/>
<rect x="15" y="10" width="0.920" height="0.916" fill="#ffffff"/>
<rect x="16" y="10" width="0.920" height="0.916" fill="#bcddcc"/>
<rect x="17" y="10" width="0.920" height="0.916" fill="#c599bb"/>
<rect x="0" y="11" width="0.920" height="0.916" fill="#f5eef4"/>
<rect x="1" y="11" width="0.920" height="0.916" fill="#dfefe7"/>
<rect x="2" y="11" width="0.920" height="0.916" fill="#ffffff"/>
<rect x="3" y="11" width="0.920" height="0.916" fill="#dfefe7"/>
<rect x="4" y="11" width="0.920" height="0.916" fill="#bcddcc"/>
<rect x="5" y="11" width="0.920" height="0.916" fill="#bcddcc"/>
<rect x="6" y="11" width="0.920" height="0.916" fill="#dfefe7"/>
<rect x="7" y="11" width="0.920" height="0.916" fill="#dfefe7"/>
<rect x="8" y="11" width="0.920" height="0.916" fill="#ecdde8"/>
<rect x="9" y="11" width="0.920" height="0.916" fill="#ecdde8"/>
<rect x="10" y="11" width="0.920" height="0.916" fill="#b277a4"/>
<rect x="11" y="11" width="0.920" height="0.916" fill="#9f558d"/>
<rect x="12" y="11" width="0.920" height="0.916" fill="#ffffff"/>
<rect x="13" y="11" width="0.920" height="0.916" fill="#b277a4"/>
<rect x="14" y="11" width="0.920" height="0.916" fill="#c599bb"/>
<rect x="15" y="11" width="0.920" height="0.916" fill="#ecdde8"/>
<rect x="16" y="11" width="0.920" height="0.916" fill="#d7b8cf"/>
<rect x="17" y="11" width="0.920" height="0.916" fill="#d7b8cf"/>
<rect x="0" y="12" width="0.920" height="0.916" fill="#cee6d9"/>
<rect x="1" y="12" width="0.920" height="0.916" fill="#dfefe7"/>
<rect x="2" y="12" width="0.920" height="0.916" fill="#cee6d9"/>
<rect x="3" y="12" width="0.920" height="0.916" fill="#dfefe7"/>
<rect x="4" y="12" width="0.920" height="0.916" fill="#99cab0"/>
<rect x="5" y="12" width="0.920" height="0.916" fill="#99cab0"/>
<rect x="6" y="12" width="0.920" height="0.916" fill="#bcddcc"/>
<rect x="7" y="12" width="0.920" height="0.916" fill="#b277a4"/>
<rect x="8" y="12" width="0.920" height="0.916" fill="#d7b8cf"/>
<rect x="9" y="12" width="0.920" height="0.916" fill="#ecdde8"/>
<rect x="10" y="12" width="0.920" height="0.916" fill="#dfefe7"/>
<rect x="11" y="12" width="0.920" height="0.916" fill="#ffffff"/>
<rect x="12" y="12" width="0.920" height="0.916" fill="#9f558d"/>
<rect x="13" y="12" width="0.920" height="0.916" fill="#ecdde8"/>
<rect x="14" y="12" width="0.920" height="0.916" fill="#c599bb"/>
<rect x="15" y="12" width="0.920" height="0.916" fill="#ffffff"/>
<rect x="16" y="12" width="0.920" height="0.916" fill="#ecdde8"/>
<rect x="17" y="12" width="0.920" height="0.916" fill="#dfefe7"/>
<rect x="0" y="13" width="0.920" height="0.916" fill="#cee6d9"/>
<rect x="1" y="13" width="0.920" height="0.916" fill="#bcddcc"/>
<rect x="2" y="13" width="0.920" height="0.916" fill="#bcddcc"/>
<rect x="3" y="13" width="0.920" height="0.916" fill="#99cab0"/>
<rect x="4" y="13" width="0.920" height="0.916" fill="#bcddcc"/>
<rect x="5" y="13" width="0.920" height="0.916" fill="#bcddcc"/>
<rect x="6" y="13" width="0.920" height="0.916" fill="#bcddcc"/>
<rect x="7" y="13" width="0.920" height="0.916" fill="#ffffff"/>
<rect x="8" y="13" width="0.920" height="0.916" fill="#ffffff"/>
<rect x="9" y="13" width="0.920" height="0.916" fill="#eff7f3"/>
<rect x="10" y="13" width="0.920" height="0.916" fill="#c599bb"/>
<rect x="11" y="13" width="0.920" height="0.916" fill="#b277a4"/>
<rect x="12" y="13" width="0.920" height="0.916" fill="#ecdde8"/>
<rect x="13" y="13" width="0.920" height="0.916" fill="#9f558d"/>
<rect x="14" y="13" width="0.920" height="0.916" fill="#b277a4"/>
<rect x="15" y="13" width="0.920" height="0.916" fill="#ecdde8"/>
<rect x="16" y="13" width="0.920" height="0.916" fill="#d7b8cf"/>
<rect x="17" y="13" width="0.920" height="0.916" fill="#d7b8cf"/>
<rect x="0" y="14" width="0.920" height="0.916" fill="#cee6d9"/>
<rect x="1" y="14" width="0.920" height="0.916" fill="#bcddcc"/>
<rect x="2" y="14" width="0.920" height="0.916" fill="#dfefe7"/>
<rect x="3" y="14" width="0.920" height="0.916" fill="#aad4be"/>
<rect x="4" y="14" width="0.920" height="0.916" fill="#aad4be"/>
<rect x="5" y="14" width="0.920" height="0.916" fill="#99cab0"/>
<rect x="6" y="14" width="0.920" height="0.916" fill="#bcddcc"/>
<rect x="7" y="14" width="0.920" height="0.916" fill="#d7b8cf"/>
<rect x="8" y="14" width="0.920" height="0.916" fill="#e1cadc"/>
<rect x="9" y="14" width="0.920" height="0.916" fill="#ecdde8"/>
<rect x="10" y="14" width="0.920" height="0.916" fill="#d7b8cf"/>
<rect x="11" y="14" width="0.920" height="0.916" fill="#c599bb"/>
<rect x="12" y="14" width="0.920" height="0.916" fill="#c599bb"/>
<rect x="13" y="14" width="0.920" height="0.916" fill="#b277a4"/>
<rect x="14" y="14" width="0.920" height="0.916" fill="#9f558d"/>
<rect x="15" y="14" width="0.920" height="0.916" fill="#d7b8cf"/>
<rect x="16" y="14" width="0.920" height="0.916" fill="#c599bb"/>
<rect x="17" y="14" width="0.920" height="0.916" fill="#ecdde8"/>
<rect x="0" y="15" width="0.920" height="0.916" fill="#c599bb"/>
<rect x="1" y="15" width="0.920" height="0.916" fill="#ffffff"/>
<rect x="2" y="15" width="0.920" height="0.916" fill="#ecdde8"/>
<rect x="3" y="15" width="0.920" height="0.916" fill="#ffffff"/>
<rect x="4" y="15" width="0.920" height="0.916" fill="#ecdde8"/>
<rect x="5" y="15" width="0.920" height="0.916" fill="#ecdde8"/>
<rect x="6" y="15" width="0.920" height="0.916" fill="#d7b8cf"/>
<rect x="7" y="15" width="0.920" height="0.916" fill="#dfefe7"/>
<rect x="8" y="15" width="0.920" height="0.916" fill="#ecdde8"/>
<rect x="9" y="15" width="0.920" height="0.916" fill="#c599bb"/>
<rect x="10" y="15" width="0.920" height="0.916" fill="#ffffff"/>
<rect x="11" y="15" width="0.920" height="0.916" fill="#ecdde8"/>
<rect x="12" y="15" width="0.920" height="0.916" fill="#ffffff"/>
<rect x="13" y="15" width="0.920" height="0.916" fill="#ecdde8"/>
<rect x="14" y="15" width="0.920" height="0.916" fill="#d7b8cf"/>
<rect x="15" y="15" width="0.920" height="0.916" fill="#9f558d"/>
<rect x="16" y="15" width="0.920" height="0.916" fill="#ecdde8"/>
<rect x="17" y="15" width="0.920" height="0.916" fill="#f5eef4"/>
<rect x="0" y="16" width="0.920" height="0.916" fill="#dfefe7"/>
<rect x="1" y="16" width="0.920" height="0.916" fill="#7dbc9b"/>
<rect x="2" y="16" width="0.920" height="0.916" fill="#d7b8cf"/>
<rect x="3" y="16" width="0.920" height="0.916" fill="#dfefe7"/>
<rect x="4" y="16" width="0.920" height="0.916" fill="#bcddcc"/>
<rect x="5" y="16" width="0.920" height="0.916" fill="#99cab0"/>
<rect x="6" y="16" width="0.920" height="0.916" fill="#bcddcc"/>
<rect x="7" y="16" width="0.920" height="0.916" fill="#dfefe7"/>
<rect x="8" y="16" width="0.920" height="0.916" fill="#fdfcfd"/>
<rect x="9" y="16" width="0.920" height="0.916" fill="#ffffff"/>
<rect x="10" y="16" width="0.920" height="0.916" fill="#bcddcc"/>
<rect x="11" y="16" width="0.920" height="0.916" fill="#d7b8cf"/>
<rect x="12" y="16" width="0.920" height="0.916" fill="#ecdde8"/>
<rect x="13" y="16" width="0.920" height="0.916" fill="#d7b8cf"/>
<rect x="14" y="16" width="0.920" height="0.916" fill="#c599bb"/>
<rect x="15" y="16" width="0.920" height="0.916" fill="#ecdde8"/>
<rect x="16" y="16" width="0.920" height="0.916" fill="#9f558d"/>
<rect x="17" y="16" width="0.920" height="0.916" fill="#bcddcc"/>
<rect x="0" y="17" width="0.920" height="0.916" fill="#ecdde8"/>
<rect x="1" y="17" width="0.920" height="0.916" fill="#ecdde8"/>
<rect x="2" y="17" width="0.920" height="0.916" fill="#bcddcc"/>
<rect x="3" y="17" width="0.920" height="0.916" fill="#dfefe7"/>
<rect x="4" y="17" width="0.920" height="0.916" fill="#dfefe7"/>
<rect x="5" y="17" width="0.920" height="0.916" fill="#dfefe7"/>
<rect x="6" y="17" width="0.920" height="0.916" fill="#eff7f3"/>
<rect x="7" y="17" width="0.920" height="0.916" fill="#dfefe7"/>
<rect x="8" y="17" width="0.920" height="0.916" fill="#ecdde8"/>
<rect x="9" y="17" width="0.920" height="0.916" fill="#ffffff"/>
<rect x="10" y="17" width="0.920" height="0.916" fill="#c599bb"/>
<rect x="11" y="17" width="0.920" height="0.916" fill="#d7b8cf"/>
<rect x="12" y="17" width="0.920" height="0.916" fill="#dfefe7"/>
<rect x="13" y="17" width="0.920" height="0.916" fill="#d7b8cf"/>
<rect x="14" y="17" width="0.920" height="0.916" fill="#ecdde8"/>
<rect x="15" y="17" width="0.920" height="0.916" fill="#f5eef4"/>
<rect x="16" y="17" width="0.920" height="0.916" fill="#bcddcc"/>
<rect x="17" y="17" width="0.920" height="0.916" fill="#9f558d"/>
</g>
<g font-size="7" font-weight="bold" stroke="#000" stroke-width="0.12">
<text x="435.90" y="185.16">C4</text>
<text x="435.90" y="192.94">C1</text>
<text x="435.90" y="200.71">C13</text>
<text x="435.90" y="208.49">C12</text>
<text x="435.90" y="216.26">C6</text>
<text x="435.90" y="224.04">C11</text>
<text x="435.90" y="231.81">C18</text>
<text x="435.90" y="239.59">C8</text>
<text x="435.90" y="247.36">C5</text>
<text x="435.90" y="255.14">C2</text>
<text x="435.90" y="262.91">C14</text>
<text x="435.90" y="270.69">C3</text>
<text x="435.90" y="278.46">C15</text>
<text x="435.90" y="286.24">C10</text>
<text x="435.90" y="294.01">C9</text>
<text x="435.90" y="301.79">C7</text>
<text x="435.90" y="309.56">C16</text>
<text x="435.90" y="317.34">C17</text>
</g>
<g class="h6" transform="translate(491.00 177.60) scale(8.1306 7.6583)">
<rect x="0" y="0" width="0.920" height="0.915" fill="#9f558d"/>
<rect x="1" y="0" width="0.920" height="0.915" fill="#d7b8cf"/>
<rect x="2" y="0" width="0.920" height="0.915" fill="#d7b8cf"/>
<rect x="3" y="0" width="0.920" height="0.915" fill="#d7b8cf"/>
<rect x="4" y="0" width="0.920" height="0.915" fill="#c599bb"/>
<rect x="5" y="0" width="0.920" height="0.915" fill="#cea8c5"/>
<rect x="6" y="0" width="0.920" height="0.915" fill="#c599bb"/>
<rect x="7" y="0" width="0.920" height="0.915" fill="#cae4d6"/>
<rect x="8" y="0" width="0.920" height="0.915" fill="#d7eae0"/>
<rect x="9" y="0" width="0.920" height="0.915" fill="#d7b8cf"/>
<rect x="10" y="0" width="0.920" height="0.915" fill="#e3f1ea"/>
<rect x="11" y="0" width="0.920" height="0.915" fill="#f1f8f4"/>
<rect x="12" y="0" width="0.920" height="0.915" fill="#e3f1ea"/>
<rect x="13" y="0" width="0.920" height="0.915" fill="#d7eae0"/>
<rect x="14" y="0" width="0.920" height="0.915" fill="#e3f1ea"/>
<rect x="15" y="0" width="0.920" height="0.915" fill="#bc88af"/>
<rect x="16" y="0" width="0.920" height="0.915" fill="#ecdde8"/>
<rect x="17" y="0" width="0.920" height="0.915" fill="#ffffff"/>
<rect x="0" y="1" width="0.920" height="0.915" fill="#d7b8cf"/>
<rect x="1" y="1" width="0.920" height="0.915" fill="#9f558d"/>
<rect x="2" y="1" width="0.920" height="0.915" fill="#ffffff"/>
<rect x="3" y="1" width="0.920" height="0.915" fill="#d7b8cf"/>
<rect x="4" y="1" width="0.920" height="0.915" fill="#ecdde8"/>
<rect x="5" y="1" width="0.920" height="0.915" fill="#d7b8cf"/>
<rect x="6" y="1" width="0.920" height="0.915" fill="#d7b8cf"/>
<rect x="7" y="1" width="0.920" height="0.915" fill="#e3f1ea"/>
<rect x="8" y="1" width="0.920" height="0.915" fill="#e3f1ea"/>
<rect x="9" y="1" width="0.920" height="0.915" fill="#ffffff"/>
<rect x="10" y="1" width="0.920" height="0.915" fill="#e3f1ea"/>
<rect x="11" y="1" width="0.920" height="0.915" fill="#99cab0"/>
<rect x="12" y="1" width="0.920" height="0.915" fill="#e3f1ea"/>
<rect x="13" y="1" width="0.920" height="0.915" fill="#99cab0"/>
<rect x="14" y="1" width="0.920" height="0.915" fill="#99cab0"/>
<rect x="15" y="1" width="0.920" height="0.915" fill="#e3f1ea"/>
<rect x="16" y="1" width="0.920" height="0.915" fill="#99cab0"/>
<rect x="17" y="1" width="0.920" height="0.915" fill="#e3f1ea"/>
<rect x="0" y="2" width="0.920" height="0.915" fill="#d7b8cf"/>
<rect x="1" y="2" width="0.920" height="0.915" fill="#ffffff"/>
<rect x="2" y="2" width="0.920" height="0.915" fill="#9f558d"/>
<rect x="3" y="2" width="0.920" height="0.915" fill="#b277a4"/>
<rect x="4" y="2" width="0.920" height="0.915" fill="#d7b8cf"/>
<rect x="5" y="2" width="0.920" height="0.915" fill="#ecdde8"/>
<rect x="6" y="2" width="0.920" height="0.915" fill="#d7b8cf"/>
<rect x="7" y="2" width="0.920" height="0.915" fill="#cae4d6"/>
<rect x="8" y="2" width="0.920" height="0.915" fill="#d7eae0"/>
<rect x="9" y="2" width="0.920" height="0.915" fill="#ecdde8"/>
<rect x="10" y="2" width="0.920" height="0.915" fill="#99cab0"/>
<rect x="11" y="2" width="0.920" height="0.915" fill="#f1f8f4"/>
<rect x="12" y="2" width="0.920" height="0.915" fill="#ffffff"/>
<rect x="13" y="2" width="0.920" height="0.915" fill="#cae4d6"/>
<rect x="14" y="2" width="0.920" height="0.915" fill="#e3f1ea"/>
<rect x="15" y="2" width="0.920" height="0.915" fill="#d7b8cf"/>
<rect x="16" y="2" width="0.920" height="0.915" fill="#c599bb"/>
<rect x="17" y="2" width="0.920" height="0.915" fill="#cae4d6"/>
<rect x="0" y="3" width="0.920" height="0.915" fill="#d7b8cf"/>
<rect x="1" y="3" width="0.920" height="0.915" fill="#d7b8cf"/>
<rect x="2" y="3" width="0.920" height="0.915" fill="#b277a4"/>
<rect x="3" y="3" width="0.920" height="0.915" fill="#9f558d"/>
<rect x="4" y="3" width="0.920" height="0.915" fill="#ecdde8"/>
<rect x="5" y="3" width="0.920" height="0.915" fill="#d7b8cf"/>
<rect x="6" y="3" width="0.920" height="0.915" fill="#d7b8cf"/>
<rect x="7" y="3" width="0.920" height="0.915" fill="#e3f1ea"/>
<rect x="8" y="3" width="0.920" height="0.915" fill="#cae4d6"/>
<rect x="9" y="3" width="0.920" height="0.915" fill="#ffffff"/>
<rect x="10" y="3" width="0.920" height="0.915" fill="#99cab0"/>
<rect x="11" y="3" width="0.920" height="0.915" fill="#cae4d6"/>
<rect x="12" y="3" width="0.920" height="0.915" fill="#ecdde8"/>
<rect x="13" y="3" width="0.920" height="0.915" fill="#7dbc9b"/>
<rect x="14" y="3" width="0.920" height="0.915" fill="#b1d7c3"/>
<rect x="15" y="3" width="0.920" height="0.915" fill="#f5eef4"/>
<rect x="16" y="3" width="0.920" height="0.915" fill="#f5eef4"/>
<rect x="17" y="3" width="0.920" height="0.915" fill="#cae4d6"/>
<rect x="0" y="4" width="0.920" height="0.915" fill="#c599bb"/>
<rect x="1" y="4" width="0.920" height="0.915" fill="#ecdde8"/>
<rect x="2" y="4" width="0.920" height="0.915" fill="#d7b8cf"/>
<rect x="3" y="4" width="0.920" height="0.915" fill="#ecdde8"/>
<rect x="4" y="4" width="0.920" height="0.915" fill="#9f558d"/>
<rect x="5" y="4" width="0.920" height="0.915" fill="#a45e93"/>
<rect x="6" y="4" width="0.920" height="0.915" fill="#a45e93"/>
<rect x="7" y="4" width="0.920" height="0.915" fill="#99cab0"/>
<rect x="8" y="4" width="0.920" height="0.915" fill="#6fb591"/>
<rect x="9" y="4" width="0.920" height="0.915" fill="#cae4d6"/>
<rect x="10" y="4" width="0.920" height="0.915" fill="#cae4d6"/>
<rect x="11" y="4" width="0.920" height="0.915" fill="#cae4d6"/>
<rect x="12" y="4" width="0.920" height="0.915" fill="#cae4d6"/>
<rect x="13" y="4" width="0.920" height="0.915" fill="#cae4d6"/>
<rect x="14" y="4" width="0.920" height="0.915" fill="#d7eae0"/>
<rect x="15" y="4" width="0.920" height="0.915" fill="#c599bb"/>
<rect x="16" y="4" width="0.920" height="0.915" fill="#ecdde8"/>
<rect x="17" y="4" width="0.920" height="0.915" fill="#cae4d6"/>
<rect x="0" y="5" width="0.920" height="0.915" fill="#cea8c5"/>
<rect x="1" y="5" width="0.920" height="0.915" fill="#d7b8cf"/>
<rect x="2" y="5" width="0.920" height="0.915" fill="#ecdde8"/>
<rect x="3" y="5" width="0.920" height="0.915" fill="#d7b8cf"/>
<rect x="4" y="5" width="0.920" height="0.915" fill="#a45e93"/>
<rect x="5" y="5" width="0.920" height="0.915" fill="#9f558d"/>
<rect x="6" y="5" width="0.920" height="0.915" fill="#a45e93"/>
<rect x="7" y="5" width="0.920" height="0.915" fill="#99cab0"/>
<rect x="8" y="5" width="0.920" height="0.915" fill="#6fb591"/>
<rect x="9" y="5" width="0.920" height="0.915" fill="#cae4d6"/>
<rect x="10" y="5" width="0.920" height="0.915" fill="#cae4d6"/>
<rect x="11" y="5" width="0.920" height="0.915" fill="#cae4d6"/>
<rect x="12" y="5" width="0.920" height="0.915" fill="#cae4d6"/>
<rect x="13" y="5" width="0.920" height="0.915" fill="#cae4d6"/>
<rect x="14" y="5" width="0.920" height="0.915" fill="#d7eae0"/>
<rect x="15" y="5" width="0.920" height="0.915" fill="#c599bb"/>
<rect x="16" y="5" width="0.920" height="0.915" fill="#ffffff"/>
<rect x="17" y="5" width="0.920" height="0.915" fill="#cae4d6"/>
<rect x="0" y="6" width="0.920" height="0.915" fill="#c599bb"/>
<rect x="1" y="6" width="0.920" height="0.915" fill="#d7b8cf"/>
<rect x="2" y="6" width="0.920" height="0.915" fill="#d7b8cf"/>
<rect x="3" y="6" width="0.920" height="0.915" fill="#d7b8cf"/>
<rect x="4" y="6" width="0.920" height="0.915" fill="#a45e93"/>
<rect x="5" y="6" width="0.920" height="0.915" fill="#a45e93"/>
<rect x="6" y="6" width="0.920" height="0.915" fill="#9f558d"/>
<rect x="7" y="6" width="0.920" height="0.915" fill="#99cab0"/>
<rect x="8" y="6" width="0.920" height="0.915" fill="#7dbc9b"/>
<rect x="9" y="6" width="0.920" height="0.915" fill="#d7eae0"/>
<rect x="10" y="6" width="0.920" height="0.915" fill="#cae4d6"/>
<rect x="11" y="6" width="0.920" height="0.915" fill="#d7eae0"/>
<rect x="12" y="6" width="0.920" height="0.915" fill="#e3f1ea"/>
<rect x="13" y="6" width="0.920" height="0.915" fill="#cae4d6"/>
<rect x="14" y="6" width="0.920" height="0.915" fill="#d7eae0"/>
<rect x="15" y="6" width="0.920" height="0.915" fill="#c599bb"/>
<rect x="16" y="6" width="0.920" height="0.915" fill="#ecdde8"/>
<rect x="17" y="6" width="0.920" height="0.915" fill="#e3f1ea"/>
<rect x="0" y="7" width="0.920" height="0.915" fill="#cae4d6"/>
<rect x="1" y="7" width="0.920" height="0.915" fill="#e3f1ea"/>
<rect x="2" y="7" width="0.920" height="0.915" fill="#cae4d6"/>
<rect x="3" y="7" width="0.920" height="0.915" fill="#e3f1ea"/>
<rect x="4" y="7" width="0.920" height="0.915" fill="#99cab0"/>
<rect x="5" y="7" width="0.920" height="0.915" fill="#99cab0"/>
<rect x="6" y="7" width="0.920" height="0.915" fill="#99cab0"/>
<rect x="7" y="7" width="0.920" height="0.915" fill="#9f558d"/>
<rect x="8" y="7" width="0.920" height="0.915" fill="#c599bb"/>
<rect x="9" y="7" width="0.920" height="0.915" fill="#ffffff"/>
<rect x="10" y="7" width="0.920" height="0.915" fill="#d7b8cf"/>
<rect x="11" y="7" width="0.920" height="0.915" fill="#d7b8cf"/>
<rect x="12" y="7" width="0.920" height="0.915" fill="#b277a4"/>
<rect x="13" y="7" width="0.920" height="0.915" fill="#d7b8cf"/>
<rect x="14" y="7" width="0.920" height="0.915" fill="#c599bb"/>
<rect x="15" y="7" width="0.920" height="0.915" fill="#e3f1ea"/>
<rect x="16" y="7" width="0.920" height="0.915" fill="#ffffff"/>
<rect x="17" y="7" width="0.920" height="0.915" fill="#d7b8cf"/>
<rect x="0" y="8" width="0.920" height="0.915" fill="#d7eae0"/>
<rect x="1" y="8" width="0.920" height="0.915" fill="#e3f1ea"/>
<rect x="2" y="8" width="0.920" height="0.915" fill="#d7eae0"/>
<rect x="3" y="8" width="0.920" height="0.915" fill="#cae4d6"/>
<rect x="4" y="8" width="0.920" height="0.915" fill="#6fb591"/>
<rect x="5" y="8" width="0.920" height="0.915" fill="#6fb591"/>
<rect x="6" y="8" width="0.920" height="0.915" fill="#7dbc9b"/>
<rect x="7" y="8" width="0.920" height="0.915" fill="#c599bb"/>
<rect x="8" y="8" width="0.920" height="0.915" fill="#9f558d"/>
<rect x="9" y="8" width="0.920" height="0.915" fill="#c599bb"/>
<rect x="10" y="8" width="0.920" height="0.915" fill="#d7b8cf"/>
<rect x="11" y="8" width="0.920" height="0.915" fill="#d7b8cf"/>
<rect x="12" y="8" width="0.920" height="0.915" fill="#d7b8cf"/>
<rect x="13" y="8" width="0.920" height="0.915" fill="#d7b8cf"/>
<rect x="14" y="8" width="0.920" height="0.915" fill="#d7b8cf"/>
<rect x="15" y="8" width="0.920" height="0.915" fill="#cae4d6"/>
<rect x="16" y="8" width="0.920" height="0.915" fill="#e3f1ea"/>
<rect x="17" y="8" width="0.920" height="0.915" fill="#d7b8cf"/>
<rect x="0" y="9" width="0.920" height="0.915" fill="#d7b8cf"/>
<rect x="1" y="9" width="0.920" height="0.915" fill="#ffffff"/>
<rect x="2" y="9" width="0.920" height="0.915" fill="#ecdde8"/>
<rect x="3" y="9" width="0.920" height="0.915" fill="#ffffff"/>
<rect x="4" y="9" width="0.920" height="0.915" fill="#cae4d6"/>
<rect x="5" y="9" width="0.920" height="0.915" fill="#cae4d6"/>
<rect x="6" y="9" width="0.920" height="0.915" fill="#d7eae0"/>
<rect x="7" y="9" width="0.920" height="0.915" fill="#ffffff"/>
<rect x="8" y="9" width="0.920" height="0.915" fill="#c599bb"/>
<rect x="9" y="9" width="0.920" height="0.915" fill="#9f558d"/>
<rect x="10" y="9" width="0.920" height="0.915" fill="#ecdde8"/>
<rect x="11" y="9" width="0.920" height="0.915" fill="#ecdde8"/>
<rect x="12" y="9" width="0.920" height="0.915" fill="#ecdde8"/>
<rect x="13" y="9" width="0.920" height="0.915" fill="#ffffff"/>
<rect x="14" y="9" width="0.920" height="0.915" fill="#ecdde8"/>
<rect x="15" y="9" width="0.920" height="0.915" fill="#d7b8cf"/>
<rect x="16" y="9" width="0.920" height="0.915" fill="#ffffff"/>
<rect x="17" y="9" width="0.920" height="0.915" fill="#ecdde8"/>
<rect x="0" y="10" width="0.920" height="0.915" fill="#e3f1ea"/>
<rect x="1" y="10" width="0.920" height="0.915" fill="#e3f1ea"/>
<rect x="2" y="10" width="0.920" height="0.915" fill="#99cab0"/>
<rect x="3" y="10" width="0.920" height="0.915" fill="#99cab0"/>
<rect x="4" y="10" width="0.920" height="0.915" fill="#cae4d6"/>
<rect x="5" y="10" width="0.920" height="0.915" fill="#cae4d6"/>
<rect x="6" y="10" width="0.920" height="0.915" fill="#cae4d6"/>
<rect x="7" y="10" width="0.920" height="0.915" fill="#d7b8cf"/>
<rect x="8" y="10" width="0.920" height="0.915" fill="#d7b8cf"/>
<rect x="9" y="10" width="0.920" height="0.915" fill="#ecdde8"/>
<rect x="10" y="10" width="0.920" height="0.915" fill="#9f558d"/>
<rect x="11" y="10" width="0.920" height="0.915" fill="#b277a4"/>
<rect x="12" y="10" width="0.920" height="0.915" fill="#e1cadc"/>
<rect x="13" y="10" width="0.920" height="0.915" fill="#b277a4"/>
<rect x="14" y="10" width="0.920" height="0.915" fill="#c599bb"/>
<rect x="15" y="10" width="0.920" height="0.915" fill="#ffffff"/>
<rect x="16" y="10" width="0.920" height="0.915" fill="#ffffff"/>
<rect x="17" y="10" width="0.920" height="0.915" fill="#c599bb"/>
<rect x="0" y="11" width="0.920" height="0.915" fill="#f1f8f4"/>
<rect x="1" y="11" width="0.920" height="0.915" fill="#99cab0"/>
<rect x="2" y="11" width="0.920" height="0.915" fill="#f1f8f4"/>
<rect x="3" y="11" width="0.920" height="0.915" fill="#cae4d6"/>
<rect x="4" y="11" width="0.920" height="0.915" fill="#cae4d6"/>
<rect x="5" y="11" width="0.920" height="0.915" fill="#cae4d6"/>
<rect x="6" y="11" width="0.920" height="0.915" fill="#d7eae0"/>
<rect x="7" y="11" width="0.920" height="0.915" fill="#d7b8cf"/>
<rect x="8" y="11" width="0.920" height="0.915" fill="#d7b8cf"/>
<rect x="9" y="11" width="0.920" height="0.915" fill="#ecdde8"/>
<rect x="10" y="11" width="0.920" height="0.915" fill="#b277a4"/>
<rect x="11" y="11" width="0.920" height="0.915" fill="#9f558d"/>
<rect x="12" y="11" width="0.920" height="0.915" fill="#c599bb"/>
<rect x="13" y="11" width="0.920" height="0.915" fill="#b277a4"/>
<rect x="14" y="11" width="0.920" height="0.915" fill="#b277a4"/>
<rect x="15" y="11" width="0.920" height="0.915" fill="#ecdde8"/>
<rect x="16" y="11" width="0.920" height="0.915" fill="#c599bb"/>
<rect x="17" y="11" width="0.920" height="0.915" fill="#c599bb"/>
<rect x="0" y="12" width="0.920" height="0.915" fill="#e3f1ea"/>
<rect x="1" y="12" width="0.920" height="0.915" fill="#e3f1ea"/>
<rect x="2" y="12" width="0.920" height="0.915" fill="#ffffff"/>
<rect x="3" y="12" width="0.920" height="0.915" fill="#ecdde8"/>
<rect x="4" y="12" width="0.920" height="0.915" fill="#cae4d6"/>
<rect x="5" y="12" width="0.920" height="0.915" fill="#cae4d6"/>
<rect x="6" y="12" width="0.920" height="0.915" fill="#e3f1ea"/>
<rect x="7" y="12" width="0.920" height="0.915" fill="#b277a4"/>
<rect x="8" y="12" width="0.920" height="0.915" fill="#d7b8cf"/>
<rect x="9" y="12" width="0.920" height="0.915" fill="#ecdde8"/>
<rect x="10" y="12" width="0.920" height="0.915" fill="#e1cadc"/>
<rect x="11" y="12" width="0.920" height="0.915" fill="#c599bb"/>
<rect x="12" y="12" width="0.920" height="0.915" fill="#9f558d"/>
<rect x="13" y="12" width="0.920" height="0.915" fill="#d7b8cf"/>
<rect x="14" y="12" width="0.920" height="0.915" fill="#c599bb"/>
<rect x="15" y="12" width="0.920" height="0.915" fill="#ecdde8"/>
<rect x="16" y="12" width="0.920" height="0.915" fill="#d7b8cf"/>
<rect x="17" y="12" width="0.920" height="0.915" fill="#d7b8cf"/>
<rect x="0" y="13" width="0.920" height="0.915" fill="#d7eae0"/>
<rect x="1" y="13" width="0.920" height="0.915" fill="#99cab0"/>
<rect x="2" y="13" width="0.920" height="0.915" fill="#cae4d6"/>
<rect x="3" y="13" width="0.920" height="0.915" fill="#7dbc9b"/>
<rect x="4" y="13" width="0.920" height="0.915" fill="#cae4d6"/>
<rect x="5" y="13" width="0.920" height="0.915" fill="#cae4d6"/>
<rect x="6" y="13" width="0.920" height="0.915" fill="#cae4d6"/>
<rect x="7" y="13" width="0.920" height="0.915" fill="#d7b8cf"/>
<rect x="8" y="13" width="0.920" height="0.915" fill="#d7b8cf"/>
<rect x="9" y="13" width="0.920" height="0.915" fill="#ffffff"/>
<rect x="10" y="13" width="0.920" height="0.915" fill="#b277a4"/>
<rect x="11" y="13" width="0.920" height="0.915" fill="#b277a4"/>
<rect x="12" y="13" width="0.920" height="0.915" fill="#d7b8cf"/>
<rect x="13" y="13" width="0.920" height="0.915" fill="#9f558d"/>
<rect x="14" y="13" width="0.920" height="0.915" fill="#b277a4"/>
<rect x="15" y="13" width="0.920" height="0.915" fill="#ecdde8"/>
<rect x="16" y="13" width="0.920" height="0.915" fill="#d7b8cf"/>
<rect x="17" y="13" width="0.920" height="0.915" fill="#c599bb"/>
<rect x="0" y="14" width="0.920" height="0.915" fill="#e3f1ea"/>
<rect x="1" y="14" width="0.920" height="0.915" fill="#99cab0"/>
<rect x="2" y="14" width="0.920" height="0.915" fill="#e3f1ea"/>
<rect x="3" y="14" width="0.920" height="0.915" fill="#b1d7c3"/>
<rect x="4" y="14" width="0.920" height="0.915" fill="#d7eae0"/>
<rect x="5" y="14" width="0.920" height="0.915" fill="#d7eae0"/>
<rect x="6" y="14" width="0.920" height="0.915" fill="#d7eae0"/>
<rect x="7" y="14" width="0.920" height="0.915" fill="#c599bb"/>
<rect x="8" y="14" width="0.920" height="0.915" fill="#d7b8cf"/>
<rect x="9" y="14" width="0.920" height="0.915" fill="#ecdde8"/>
<rect x="10" y="14" width="0.920" height="0.915" fill="#c599bb"/>
<rect x="11" y="14" width="0.920" height="0.915" fill="#b277a4"/>
<rect x="12" y="14" width="0.920" height="0.915" fill="#c599bb"/>
<rect x="13" y="14" width="0.920" height="0.915" fill="#b277a4"/>
<rect x="14" y="14" width="0.920" height="0.915" fill="#9f558d"/>
<rect x="15" y="14" width="0.920" height="0.915" fill="#c599bb"/>
<rect x="16" y="14" width="0.920" height="0.915" fill="#c599bb"/>
<rect x="17" y="14" width="0.920" height="0.915" fill="#c599bb"/>
<rect x="0" y="15" width="0.920" height="0.915" fill="#bc88af"/>
<rect x="1" y="15" width="0.920" height="0.915" fill="#e3f1ea"/>
<rect x="2" y="15" width="0.920" height="0.915" fill="#d7b8cf"/>
<rect x="3" y="15" width="0.920" height="0.915" fill="#f5eef4"/>
<rect x="4" y="15" width="0.920" height="0.915" fill="#c599bb"/>
<rect x="5" y="15" width="0.920" height="0.915" fill="#c599bb"/>
<rect x="6" y="15" width="0.920" height="0.915" fill="#c599bb"/>
<rect x="7" y="15" width="0.920" height="0.915" fill="#e3f1ea"/>
<rect x="8" y="15" width="0.920" height="0.915" fill="#cae4d6"/>
<rect x="9" y="15" width="0.920" height="0.915" fill="#d7b8cf"/>
<rect x="10" y="15" width="0.920" height="0.915" fill="#ffffff"/>
<rect x="11" y="15" width="0.920" height="0.915" fill="#ecdde8"/>
<rect x="12" y="15" width="0.920" height="0.915" fill="#ecdde8"/>
<rect x="13" y="15" width="0.920" height="0.915" fill="#ecdde8"/>
<rect x="14" y="15" width="0.920" height="0.915" fill="#c599bb"/>
<rect x="15" y="15" width="0.920" height="0.915" fill="#9f558d"/>
<rect x="16" y="15" width="0.920" height="0.915" fill="#c599bb"/>
<rect x="17" y="15" width="0.920" height="0.915" fill="#ecdde8"/>
<rect x="0" y="16" width="0.920" height="0.915" fill="#ecdde8"/>
<rect x="1" y="16" width="0.920" height="0.915" fill="#99cab0"/>
<rect x="2" y="16" width="0.920" height="0.915" fill="#c599bb"/>
<rect x="3" y="16" width="0.920" height="0.915" fill="#f5eef4"/>
<rect x="4" y="16" width="0.920" height="0.915" fill="#ecdde8"/>
<rect x="5" y="16" width="0.920" height="0.915" fill="#ffffff"/>
<rect x="6" y="16" width="0.920" height="0.915" fill="#ecdde8"/>
<rect x="7" y="16" width="0.920" height="0.915" fill="#ffffff"/>
<rect x="8" y="16" width="0.920" height="0.915" fill="#e3f1ea"/>
<rect x="9" y="16" width="0.920" height="0.915" fill="#ffffff"/>
<rect x="10" y="16" width="0.920" height="0.915" fill="#ffffff"/>
<rect x="11" y="16" width="0.920" height="0.915" fill="#c599bb"/>
<rect x="12" y="16" width="0.920" height="0.915" fill="#d7b8cf"/>
<rect x="13" y="16" width="0.920" height="0.915" fill="#d7b8cf"/>
<rect x="14" y="16" width="0.920" height="0.915" fill="#c599bb"/>
<rect x="15" y="16" width="0.920" height="0.915" fill="#c599bb"/>
<rect x="16" y="16" width="0.920" height="0.915" fill="#9f558d"/>
<rect x="17" y="16" width="0.920" height="0.915" fill="#ecdde8"/>
<rect x="0" y="17" width="0.920" height="0.915" fill="#ffffff"/>
<rect x="1" y="17" width="0.920" height="0.915" fill="#e3f1ea"/>
<rect x="2" y="17" width="0.920" height="0.915" fill="#cae4d6"/>
<rect x="3" y="17" width="0.920" height="0.915" fill="#cae4d6"/>
<rect x="4" y="17" width="0.920" height="0.915" fill="#cae4d6"/>
<rect x="5" y="17" width="0.920" height="0.915" fill="#cae4d6"/>
<rect x="6" y="17" width="0.920" height="0.915" fill="#e3f1ea"/>
<rect x="7" y="17" width="0.920" height="0.915" fill="#d7b8cf"/>
<rect x="8" y="17" width="0.920" height="0.915" fill="#d7b8cf"/>
<rect x="9" y="17" width="0.920" height="0.915" fill="#ecdde8"/>
<rect x="10" y="17" width="0.920" height="0.915" fill="#c599bb"/>
<rect x="11" y="17" width="0.920" height="0.915" fill="#c599bb"/>
<rect x="12" y="17" width="0.920" height="0.915" fill="#d7b8cf"/>
<rect x="13" y="17" width="0.920" height="0.915" fill="#c599bb"/>
<rect x="14" y="17" width="0.920" height="0.915" fill="#c599bb"/>
<rect x="15" y="17" width="0.920" height="0.915" fill="#ecdde8"/>
<rect x="16" y="17" width="0.920" height="0.915" fill="#ecdde8"/>
<rect x="17" y="17" width="0.920" height="0.915" fill="#9f558d"/>
</g>
<g font-size="7" font-weight="bold" stroke="#000" stroke-width="0.12">
<text x="638.60" y="184.30">C4</text>
<text x="638.60" y="191.96">C1</text>
<text x="638.60" y="199.62">C13</text>
<text x="638.60" y="207.28">C12</text>
<text x="638.60" y="214.94">C6</text>
<text x="638.60" y="222.60">C11</text>
<text x="638.60" y="230.25">C18</text>
<text x="638.60" y="237.91">C8</text>
<text x="638.60" y="245.57">C5</text>
<text x="638.60" y="253.23">C2</text>
<text x="638.60" y="260.89">C14</text>
<text x="638.60" y="268.55">C3</text>
<text x="638.60" y="276.20">C15</text>
<text x="638.60" y="283.86">C10</text>
<text x="638.60" y="291.52">C9</text>
<text x="638.60" y="299.18">C7</text>
<text x="638.60" y="306.84">C16</text>
<text x="638.60" y="314.50">C17</text>
</g>
<g class="h7" transform="translate(89.90 356.00) scale(8.1583 8.3417)">
<rect x="0" y="0" width="0.920" height="0.922" fill="#9f558d"/>
<rect x="1" y="0" width="0.920" height="0.922" fill="#d7b8cf"/>
<rect x="2" y="0" width="0.920" height="0.922" fill="#ffffff"/>
<rect x="3" y="0" width="0.920" height="0.922" fill="#c396b8"/>
<rect x="4" y="0" width="0.920" height="0.922" fill="#d7b8cf"/>
<rect x="5" y="0" width="0.920" height="0.922" fill="#d7b8cf"/>
<rect x="6" y="0" width="0.920" height="0.922" fill="#d7b8cf"/>
<rect x="7" y="0" width="0.920" height="0.922" fill="#99cab0"/>
<rect x="8" y="0" width="0.920" height="0.922" fill="#dcede4"/>
<rect x="9" y="0" width="0.920" height="0.922" fill="#ecdde8"/>
<rect x="10" y="0" width="0.920" height="0.922" fill="#ecdde8"/>
<rect x="11" y="0" width="0.920" height="0.922" fill="#ffffff"/>
<rect x="12" y="0" width="0.920" height="0.922" fill="#b4d9c6"/>
<rect x="13" y="0" width="0.920" height="0.922" fill="#dcede4"/>
<rect x="14" y="0" width="0.920" height="0.922" fill="#c8e3d5"/>
<rect x="15" y="0" width="0.920" height="0.922" fill="#ffffff"/>
<rect x="16" y="0" width="0.920" height="0.922" fill="#dcede4"/>
<rect x="17" y="0" width="0.920" height="0.922" fill="#dcede4"/>
<rect x="0" y="1" width="0.920" height="0.922" fill="#d7b8cf"/>
<rect x="1" y="1" width="0.920" height="0.922" fill="#9f558d"/>
<rect x="2" y="1" width="0.920" height="0.922" fill="#d7b8cf"/>
<rect x="3" y="1" width="0.920" height="0.922" fill="#c396b8"/>
<rect x="4" y="1" width="0.920" height="0.922" fill="#d7b8cf"/>
<rect x="5" y="1" width="0.920" height="0.922" fill="#d7b8cf"/>
<rect x="6" y="1" width="0.920" height="0.922" fill="#ffffff"/>
<rect x="7" y="1" width="0.920" height="0.922" fill="#b4d9c6"/>
<rect x="8" y="1" width="0.920" height="0.922" fill="#b4d9c6"/>
<rect x="9" y="1" width="0.920" height="0.922" fill="#b4d9c6"/>
<rect x="10" y="1" width="0.920" height="0.922" fill="#b4d9c6"/>
<rect x="11" y="1" width="0.920" height="0.922" fill="#99cab0"/>
<rect x="12" y="1" width="0.920" height="0.922" fill="#8bc3a6"/>
<rect x="13" y="1" width="0.920" height="0.922" fill="#99cab0"/>
<rect x="14" y="1" width="0.920" height="0.922" fill="#8bc3a6"/>
<rect x="15" y="1" width="0.920" height="0.922" fill="#99cab0"/>
<rect x="16" y="1" width="0.920" height="0.922" fill="#7dbc9b"/>
<rect x="17" y="1" width="0.920" height="0.922" fill="#99cab0"/>
<rect x="0" y="2" width="0.920" height="0.922" fill="#ffffff"/>
<rect x="1" y="2" width="0.920" height="0.922" fill="#d7b8cf"/>
<rect x="2" y="2" width="0.920" height="0.922" fill="#9f558d"/>
<rect x="3" y="2" width="0.920" height="0.922" fill="#e1cadc"/>
<rect x="4" y="2" width="0.920" height="0.922" fill="#dcede4"/>
<rect x="5" y="2" width="0.920" height="0.922" fill="#dcede4"/>
<rect x="6" y="2" width="0.920" height="0.922" fill="#a6d2bb"/>
<rect x="7" y="2" width="0.920" height="0.922" fill="#ffffff"/>
<rect x="8" y="2" width="0.920" height="0.922" fill="#dcede4"/>
<rect x="9" y="2" width="0.920" height="0.922" fill="#c8e3d5"/>
<rect x="10" y="2" width="0.920" height="0.922" fill="#7dbc9b"/>
<rect x="11" y="2" width="0.920" height="0.922" fill="#99cab0"/>
<rect x="12" y="2" width="0.920" height="0.922" fill="#ffffff"/>
<rect x="13" y="2" width="0.920" height="0.922" fill="#99cab0"/>
<rect x="14" y="2" width="0.920" height="0.922" fill="#99cab0"/>
<rect x="15" y="2" width="0.920" height="0.922" fill="#8bc3a6"/>
<rect x="16" y="2" width="0.920" height="0.922" fill="#b4d9c6"/>
<rect x="17" y="2" width="0.920" height="0.922" fill="#a6d2bb"/>
<rect x="0" y="3" width="0.920" height="0.922" fill="#c396b8"/>
<rect x="1" y="3" width="0.920" height="0.922" fill="#c396b8"/>
<rect x="2" y="3" width="0.920" height="0.922" fill="#e1cadc"/>
<rect x="3" y="3" width="0.920" height="0.922" fill="#9f558d"/>
<rect x="4" y="3" width="0.920" height="0.922" fill="#d7b8cf"/>
<rect x="5" y="3" width="0.920" height="0.922" fill="#d7b8cf"/>
<rect x="6" y="3" width="0.920" height="0.922" fill="#e1cadc"/>
<rect x="7" y="3" width="0.920" height="0.922" fill="#99cab0"/>
<rect x="8" y="3" width="0.920" height="0.922" fill="#b4d9c6"/>
<rect x="9" y="3" width="0.920" height="0.922" fill="#dcede4"/>
<rect x="10" y="3" width="0.920" height="0.922" fill="#b4d9c6"/>
<rect x="11" y="3" width="0.920" height="0.922" fill="#b4d9c6"/>
<rect x="12" y="3" width="0.920" height="0.922" fill="#a6d2bb"/>
<rect x="13" y="3" width="0.920" height="0.922" fill="#b4d9c6"/>
<rect x="14" y="3" width="0.920" height="0.922" fill="#99cab0"/>
<rect x="15" y="3" width="0.920" height="0.922" fill="#dcede4"/>
<rect x="16" y="3" width="0.920" height="0.922" fill="#b4d9c6"/>
<rect x="17" y="3" width="0.920" height="0.922" fill="#b4d9c6"/>
<rect x="0" y="4" width="0.920" height="0.922" fill="#d7b8cf"/>
<rect x="1" y="4" width="0.920" height="0.922" fill="#d7b8cf"/>
<rect x="2" y="4" width="0.920" height="0.922" fill="#dcede4"/>
<rect x="3" y="4" width="0.920" height="0.922" fill="#d7b8cf"/>
<rect x="4" y="4" width="0.920" height="0.922" fill="#9f558d"/>
<rect x="5" y="4" width="0.920" height="0.922" fill="#a25a90"/>
<rect x="6" y="4" width="0.920" height="0.922" fill="#a25a90"/>
<rect x="7" y="4" width="0.920" height="0.922" fill="#99cab0"/>
<rect x="8" y="4" width="0.920" height="0.922" fill="#61ae86"/>
<rect x="9" y="4" width="0.920" height="0.922" fill="#99cab0"/>
<rect x="10" y="4" width="0.920" height="0.922" fill="#ffffff"/>
<rect x="11" y="4" width="0.920" height="0.922" fill="#c8e3d5"/>
<rect x="12" y="4" width="0.920" height="0.922" fill="#b4d9c6"/>
<rect x="13" y="4" width="0.920" height="0.922" fill="#dcede4"/>
<rect x="14" y="4" width="0.920" height="0.922" fill="#dcede4"/>
<rect x="15" y="4" width="0.920" height="0.922" fill="#ecdde8"/>
<rect x="16" y="4" width="0.920" height="0.922" fill="#c8e3d5"/>
<rect x="17" y="4" width="0.920" height="0.922" fill="#b4d9c6"/>
<rect x="0" y="5" width="0.920" height="0.922" fill="#d7b8cf"/>
<rect x="1" y="5" width="0.920" height="0.922" fill="#d7b8cf"/>
<rect x="2" y="5" width="0.920" height="0.922" fill="#dcede4"/>
<rect x="3" y="5" width="0.920" height="0.922" fill="#d7b8cf"/>
<rect x="4" y="5" width="0.920" height="0.922" fill="#a25a90"/>
<rect x="5" y="5" width="0.920" height="0.922" fill="#9f558d"/>
<rect x="6" y="5" width="0.920" height="0.922" fill="#a25a90"/>
<rect x="7" y="5" width="0.920" height="0.922" fill="#99cab0"/>
<rect x="8" y="5" width="0.920" height="0.922" fill="#61ae86"/>
<rect x="9" y="5" width="0.920" height="0.922" fill="#99cab0"/>
<rect x="10" y="5" width="0.920" height="0.922" fill="#ffffff"/>
<rect x="11" y="5" width="0.920" height="0.922" fill="#c8e3d5"/>
<rect x="12" y="5" width="0.920" height="0.922" fill="#a6d2bb"/>
<rect x="13" y="5" width="0.920" height="0.922" fill="#dcede4"/>
<rect x="14" y="5" width="0.920" height="0.922" fill="#b4d9c6"/>
<rect x="15" y="5" width="0.920" height="0.922" fill="#ecdde8"/>
<rect x="16" y="5" width="0.920" height="0.922" fill="#c8e3d5"/>
<rect x="17" y="5" width="0.920" height="0.922" fill="#b4d9c6"/>
<rect x="0" y="6" width="0.920" height="0.922" fill="#d7b8cf"/>
<rect x="1" y="6" width="0.920" height="0.922" fill="#ffffff"/>
<rect x="2" y="6" width="0.920" height="0.922" fill="#a6d2bb"/>
<rect x="3" y="6" width="0.920" height="0.922" fill="#e1cadc"/>
<rect x="4" y="6" width="0.920" height="0.922" fill="#a25a90"/>
<rect x="5" y="6" width="0.920" height="0.922" fill="#a25a90"/>
<rect x="6" y="6" width="0.920" height="0.922" fill="#9f558d"/>
<rect x="7" y="6" width="0.920" height="0.922" fill="#99cab0"/>
<rect x="8" y="6" width="0.920" height="0.922" fill="#8bc3a6"/>
<rect x="9" y="6" width="0.920" height="0.922" fill="#b4d9c6"/>
<rect x="10" y="6" width="0.920" height="0.922" fill="#d7b8cf"/>
<rect x="11" y="6" width="0.920" height="0.922" fill="#ecdde8"/>
<rect x="12" y="6" width="0.920" height="0.922" fill="#c8e3d5"/>
<rect x="13" y="6" width="0.920" height="0.922" fill="#ecdde8"/>
<rect x="14" y="6" width="0.920" height="0.922" fill="#ecdde8"/>
<rect x="15" y="6" width="0.920" height="0.922" fill="#c396b8"/>
<rect x="16" y="6" width="0.920" height="0.922" fill="#ecdde8"/>
<rect x="17" y="6" width="0.920" height="0.922" fill="#ffffff"/>
<rect x="0" y="7" width="0.920" height="0.922" fill="#99cab0"/>
<rect x="1" y="7" width="0.920" height="0.922" fill="#b4d9c6"/>
<rect x="2" y="7" width="0.920" height="0.922" fill="#ffffff"/>
<rect x="3" y="7" width="0.920" height="0.922" fill="#99cab0"/>
<rect x="4" y="7" width="0.920" height="0.922" fill="#99cab0"/>
<rect x="5" y="7" width="0.920" height="0.922" fill="#99cab0"/>
<rect x="6" y="7" width="0.920" height="0.922" fill="#99cab0"/>
<rect x="7" y="7" width="0.920" height="0.922" fill="#9f558d"/>
<rect x="8" y="7" width="0.920" height="0.922" fill="#c396b8"/>
<rect x="9" y="7" width="0.920" height="0.922" fill="#dcede4"/>
<rect x="10" y="7" width="0.920" height="0.922" fill="#ffffff"/>
<rect x="11" y="7" width="0.920" height="0.922" fill="#d7b8cf"/>
<rect x="12" y="7" width="0.920" height="0.922" fill="#ad6e9e"/>
<rect x="13" y="7" width="0.920" height="0.922" fill="#d7b8cf"/>
<rect x="14" y="7" width="0.920" height="0.922" fill="#d7b8cf"/>
<rect x="15" y="7" width="0.920" height="0.922" fill="#dcede4"/>
<rect x="16" y="7" width="0.920" height="0.922" fill="#cda7c4"/>
<rect x="17" y="7" width="0.920" height="0.922" fill="#c396b8"/>
<rect x="0" y="8" width="0.920" height="0.922" fill="#dcede4"/>
<rect x="1" y="8" width="0.920" height="0.922" fill="#b4d9c6"/>
<rect x="2" y="8" width="0.920" height="0.922" fill="#dcede4"/>
<rect x="3" y="8" width="0.920" height="0.922" fill="#b4d9c6"/>
<rect x="4" y="8" width="0.920" height="0.922" fill="#61ae86"/>
<rect x="5" y="8" width="0.920" height="0.922" fill="#61ae86"/>
<rect x="6" y="8" width="0.920" height="0.922" fill="#8bc3a6"/>
<rect x="7" y="8" width="0.920" height="0.922" fill="#c396b8"/>
<rect x="8" y="8" width="0.920" height="0.922" fill="#9f558d"/>
<rect x="9" y="8" width="0.920" height="0.922" fill="#c396b8"/>
<rect x="10" y="8" width="0.920" height="0.922" fill="#d7b8cf"/>
<rect x="11" y="8" width="0.920" height="0.922" fill="#c396b8"/>
<rect x="12" y="8" width="0.920" height="0.922" fill="#cda7c4"/>
<rect x="13" y="8" width="0.920" height="0.922" fill="#cda7c4"/>
<rect x="14" y="8" width="0.920" height="0.922" fill="#d7b8cf"/>
<rect x="15" y="8" width="0.920" height="0.922" fill="#ffffff"/>
<rect x="16" y="8" width="0.920" height="0.922" fill="#cda7c4"/>
<rect x="17" y="8" width="0.920" height="0.922" fill="#c396b8"/>
<rect x="0" y="9" width="0.920" height="0.922" fill="#ecdde8"/>
<rect x="1" y="9" width="0.920" height="0.922" fill="#b4d9c6"/>
<rect x="2" y="9" width="0.920" height="0.922" fill="#c8e3d5"/>
<rect x="3" y="9" width="0.920" height="0.922" fill="#dcede4"/>
<rect x="4" y="9" width="0.920" height="0.922" fill="#99cab0"/>
<rect x="5" y="9" width="0.920" height="0.922" fill="#99cab0"/>
<rect x="6" y="9" width="0.920" height="0.922" fill="#b4d9c6"/>
<rect x="7" y="9" width="0.920" height="0.922" fill="#dcede4"/>
<rect x="8" y="9" width="0.920" height="0.922" fill="#c396b8"/>
<rect x="9" y="9" width="0.920" height="0.922" fill="#9f558d"/>
<rect x="10" y="9" width="0.920" height="0.922" fill="#ecdde8"/>
<rect x="11" y="9" width="0.920" height="0.922" fill="#ecdde8"/>
<rect x="12" y="9" width="0.920" height="0.922" fill="#ecdde8"/>
<rect x="13" y="9" width="0.920" height="0.922" fill="#ecdde8"/>
<rect x="14" y="9" width="0.920" height="0.922" fill="#ecdde8"/>
<rect x="15" y="9" width="0.920" height="0.922" fill="#d7b8cf"/>
<rect x="16" y="9" width="0.920" height="0.922" fill="#ecdde8"/>
<rect x="17" y="9" width="0.920" height="0.922" fill="#d7b8cf"/>
<rect x="0" y="10" width="0.920" height="0.922" fill="#ecdde8"/>
<rect x="1" y="10" width="0.920" height="0.922" fill="#b4d9c6"/>
<rect x="2" y="10" width="0.920" height="0.922" fill="#7dbc9b"/>
<rect x="3" y="10" width="0.920" height="0.922" fill="#b4d9c6"/>
<rect x="4" y="10" width="0.920" height="0.922" fill="#ffffff"/>
<rect x="5" y="10" width="0.920" height="0.922" fill="#ffffff"/>
<rect x="6" y="10" width="0.920" height="0.922" fill="#d7b8cf"/>
<rect x="7" y="10" width="0.920" height="0.922" fill="#ffffff"/>
<rect x="8" y="10" width="0.920" height="0.922" fill="#d7b8cf"/>
<rect x="9" y="10" width="0.920" height="0.922" fill="#ecdde8"/>
<rect x="10" y="10" width="0.920" height="0.922" fill="#9f558d"/>
<rect x="11" y="10" width="0.920" height="0.922" fill="#ad6e9e"/>
<rect x="12" y="10" width="0.920" height="0.922" fill="#e1cadc"/>
<rect x="13" y="10" width="0.920" height="0.922" fill="#ad6e9e"/>
<rect x="14" y="10" width="0.920" height="0.922" fill="#ad6e9e"/>
<rect x="15" y="10" width="0.920" height="0.922" fill="#c396b8"/>
<rect x="16" y="10" width="0.920" height="0.922" fill="#c396b8"/>
<rect x="17" y="10" width="0.920" height="0.922" fill="#c396b8"/>
<rect x="0" y="11" width="0.920" height="0.922" fill="#ffffff"/>
<rect x="1" y="11" width="0.920" height="0.922" fill="#99cab0"/>
<rect x="2" y="11" width="0.920" height="0.922" fill="#99cab0"/>
<rect x="3" y="11" width="0.920" height="0.922" fill="#b4d9c6"/>
<rect x="4" y="11" width="0.920" height="0.922" fill="#c8e3d5"/>
<rect x="5" y="11" width="0.920" height="0.922" fill="#c8e3d5"/>
<rect x="6" y="11" width="0.920" height="0.922" fill="#ecdde8"/>
<rect x="7" y="11" width="0.920" height="0.922" fill="#d7b8cf"/>
<rect x="8" y="11" width="0.920" height="0.922" fill="#c396b8"/>
<rect x="9" y="11" width="0.920" height="0.922" fill="#ecdde8"/>
<rect x="10" y="11" width="0.920" height="0.922" fill="#ad6e9e"/>
<rect x="11" y="11" width="0.920" height="0.922" fill="#9f558d"/>
<rect x="12" y="11" width="0.920" height="0.922" fill="#c396b8"/>
<rect x="13" y="11" width="0.920" height="0.922" fill="#a25a90"/>
<rect x="14" y="11" width="0.920" height="0.922" fill="#ad6e9e"/>
<rect x="15" y="11" width="0.920" height="0.922" fill="#c396b8"/>
<rect x="16" y="11" width="0.920" height="0.922" fill="#ad6e9e"/>
<rect x="17" y="11" width="0.920" height="0.922" fill="#ad6e9e"/>
<rect x="0" y="12" width="0.920" height="0.922" fill="#b4d9c6"/>
<rect x="1" y="12" width="0.920" height="0.922" fill="#8bc3a6"/>
<rect x="2" y="12" width="0.920" height="0.922" fill="#ffffff"/>
<rect x="3" y="12" width="0.920" height="0.922" fill="#a6d2bb"/>
<rect x="4" y="12" width="0.920" height="0.922" fill="#b4d9c6"/>
<rect x="5" y="12" width="0.920" height="0.922" fill="#a6d2bb"/>
<rect x="6" y="12" width="0.920" height="0.922" fill="#c8e3d5"/>
<rect x="7" y="12" width="0.920" height="0.922" fill="#ad6e9e"/>
<rect x="8" y="12" width="0.920" height="0.922" fill="#cda7c4"/>
<rect x="9" y="12" width="0.920" height="0.922" fill="#ecdde8"/>
<rect x="10" y="12" width="0.920" height="0.922" fill="#e1cadc"/>
<rect x="11" y="12" width="0.920" height="0.922" fill="#c396b8"/>
<rect x="12" y="12" width="0.920" height="0.922" fill="#9f558d"/>
<rect x="13" y="12" width="0.920" height="0.922" fill="#c396b8"/>
<rect x="14" y="12" width="0.920" height="0.922" fill="#b882ab"/>
<rect x="15" y="12" width="0.920" height="0.922" fill="#e1cadc"/>
<rect x="16" y="12" width="0.920" height="0.922" fill="#c396b8"/>
<rect x="17" y="12" width="0.920" height="0.922" fill="#c396b8"/>
<rect x="0" y="13" width="0.920" height="0.922" fill="#dcede4"/>
<rect x="1" y="13" width="0.920" height="0.922" fill="#99cab0"/>
<rect x="2" y="13" width="0.920" height="0.922" fill="#99cab0"/>
<rect x="3" y="13" width="0.920" height="0.922" fill="#b4d9c6"/>
<rect x="4" y="13" width="0.920" height="0.922" fill="#dcede4"/>
<rect x="5" y="13" width="0.920" height="0.922" fill="#dcede4"/>
<rect x="6" y="13" width="0.920" height="0.922" fill="#ecdde8"/>
<rect x="7" y="13" width="0.920" height="0.922" fill="#d7b8cf"/>
<rect x="8" y="13" width="0.920" height="0.922" fill="#cda7c4"/>
<rect x="9" y="13" width="0.920" height="0.922" fill="#ecdde8"/>
<rect x="10" y="13" width="0.920" height="0.922" fill="#ad6e9e"/>
<rect x="11" y="13" width="0.920" height="0.922" fill="#a25a90"/>
<rect x="12" y="13" width="0.920" height="0.922" fill="#c396b8"/>
<rect x="13" y="13" width="0.920" height="0.922" fill="#9f558d"/>
<rect x="14" y="13" width="0.920" height="0.922" fill="#a25a90"/>
<rect x="15" y="13" width="0.920" height="0.922" fill="#c396b8"/>
<rect x="16" y="13" width="0.920" height="0.922" fill="#ad6e9e"/>
<rect x="17" y="13" width="0.920" height="0.922" fill="#ad6e9e"/>
<rect x="0" y="14" width="0.920" height="0.922" fill="#c8e3d5"/>
<rect x="1" y="14" width="0.920" height="0.922" fill="#8bc3a6"/>
<rect x="2" y="14" width="0.920" height="0.922" fill="#99cab0"/>
<rect x="3" y="14" width="0.920" height="0.922" fill="#99cab0"/>
<rect x="4" y="14" width="0.920" height="0.922" fill="#dcede4"/>
<rect x="5" y="14" width="0.920" height="0.922" fill="#b4d9c6"/>
<rect x="6" y="14" width="0.920" height="0.922" fill="#ecdde8"/>
<rect x="7" y="14" width="0.920" height="0.922" fill="#d7b8cf"/>
<rect x="8" y="14" width="0.920" height="0.922" fill="#d7b8cf"/>
<rect x="9" y="14" width="0.920" height="0.922" fill="#ecdde8"/>
<rect x="10" y="14" width="0.920" height="0.922" fill="#ad6e9e"/>
<rect x="11" y="14" width="0.920" height="0.922" fill="#ad6e9e"/>
<rect x="12" y="14" width="0.920" height="0.922" fill="#b882ab"/>
<rect x="13" y="14" width="0.920" height="0.922" fill="#a25a90"/>
<rect x="14" y="14" width="0.920" height="0.922" fill="#9f558d"/>
<rect x="15" y="14" width="0.920" height="0.922" fill="#c396b8"/>
<rect x="16" y="14" width="0.920" height="0.922" fill="#ad6e9e"/>
<rect x="17" y="14" width="0.920" height="0.922" fill="#ad6e9e"/>
<rect x="0" y="15" width="0.920" height="0.922" fill="#ffffff"/>
<rect x="1" y="15" width="0.920" height="0.922" fill="#99cab0"/>
<rect x="2" y="15" width="0.920" height="0.922" fill="#8bc3a6"/>
<rect x="3" y="15" width="0.920" height="0.922" fill="#dcede4"/>
<rect x="4" y="15" width="0.920" height="0.922" fill="#ecdde8"/>
<rect x="5" y="15" width="0.920" height="0.922" fill="#ecdde8"/>
<rect x="6" y="15" width="0.920" height="0.922" fill="#c396b8"/>
<rect x="7" y="15" width="0.920" height="0.922" fill="#dcede4"/>
<rect x="8" y="15" width="0.920" height="0.922" fill="#ffffff"/>
<rect x="9" y="15" width="0.920" height="0.922" fill="#d7b8cf"/>
<rect x="10" y="15" width="0.920" height="0.922" fill="#c396b8"/>
<rect x="11" y="15" width="0.920" height="0.922" fill="#c396b8"/>
<rect x="12" y="15" width="0.920" height="0.922" fill="#e1cadc"/>
<rect x="13" y="15" width="0.920" height="0.922" fill="#c396b8"/>
<rect x="14" y="15" width="0.920" height="0.922" fill="#c396b8"/>
<rect x="15" y="15" width="0.920" height="0.922" fill="#9f558d"/>
<rect x="16" y="15" width="0.920" height="0.922" fill="#c396b8"/>
<rect x="17" y="15" width="0.920" height="0.922" fill="#c396b8"/>
<rect x="0" y="16" width="0.920" height="0.922" fill="#dcede4"/>
<rect x="1" y="16" width="0.920" height="0.922" fill="#7dbc9b"/>
<rect x="2" y="16" width="0.920" height="0.922" fill="#b4d9c6"/>
<rect x="3" y="16" width="0.920" height="0.922" fill="#b4d9c6"/>
<rect x="4" y="16" width="0.920" height="0.922" fill="#c8e3d5"/>
<rect x="5" y="16" width="0.920" height="0.922" fill="#c8e3d5"/>
<rect x="6" y="16" width="0.920" height="0.922" fill="#ecdde8"/>
<rect x="7" y="16" width="0.920" height="0.922" fill="#cda7c4"/>
<rect x="8" y="16" width="0.920" height="0.922" fill="#cda7c4"/>
<rect x="9" y="16" width="0.920" height="0.922" fill="#ecdde8"/>
<rect x="10" y="16" width="0.920" height="0.922" fill="#c396b8"/>
<rect x="11" y="16" width="0.920" height="0.922" fill="#ad6e9e"/>
<rect x="12" y="16" width="0.920" height="0.922" fill="#c396b8"/>
<rect x="13" y="16" width="0.920" height="0.922" fill="#ad6e9e"/>
<rect x="14" y="16" width="0.920" height="0.922" fill="#ad6e9e"/>
<rect x="15" y="16" width="0.920" height="0.922" fill="#c396b8"/>
<rect x="16" y="16" width="0.920" height="0.922" fill="#9f558d"/>
<rect x="17" y="16" width="0.920" height="0.922" fill="#ad6e9e"/>
<rect x="0" y="17" width="0.920" height="0.922" fill="#dcede4"/>
<rect x="1" y="17" width="0.920" height="0.922" fill="#99cab0"/>
<rect x="2" y="17" width="0.920" height="0.922" fill="#a6d2bb"/>
<rect x="3" y="17" width="0.920" height="0.922" fill="#b4d9c6"/>
<rect x="4" y="17" width="0.920" height="0.922" fill="#b4d9c6"/>
<rect x="5" y="17" width="0.920" height="0.922" fill="#b4d9c6"/>
<rect x="6" y="17" width="0.920" height="0.922" fill="#ffffff"/>
<rect x="7" y="17" width="0.920" height="0.922" fill="#c396b8"/>
<rect x="8" y="17" width="0.920" height="0.922" fill="#c396b8"/>
<rect x="9" y="17" width="0.920" height="0.922" fill="#d7b8cf"/>
<rect x="10" y="17" width="0.920" height="0.922" fill="#c396b8"/>
<rect x="11" y="17" width="0.920" height="0.922" fill="#ad6e9e"/>
<rect x="12" y="17" width="0.920" height="0.922" fill="#c396b8"/>
<rect x="13" y="17" width="0.920" height="0.922" fill="#ad6e9e"/>
<rect x="14" y="17" width="0.920" height="0.922" fill="#ad6e9e"/>
<rect x="15" y="17" width="0.920" height="0.922" fill="#c396b8"/>
<rect x="16" y="17" width="0.920" height="0.922" fill="#ad6e9e"/>
<rect x="17" y="17" width="0.920" height="0.922" fill="#9f558d"/>
</g>
<g font-size="7" font-weight="bold" stroke="#000" stroke-width="0.12">
<text x="238.00" y="363.05">C4</text>
<text x="238.00" y="371.39">C1</text>
<text x="238.00" y="379.73">C13</text>
<text x="238.00" y="388.07">C12</text>
<text x="238.00" y="396.41">C6</text>
<text x="238.00" y="404.75">C11</text>
<text x="238.00" y="413.10">C18</text>
<text x="238.00" y="421.44">C8</text>
<text x="238.00" y="429.78">C5</text>
<text x="238.00" y="438.12">C2</text>
<text x="238.00" y="446.46">C14</text>
<text x="238.00" y="454.80">C3</text>
<text x="238.00" y="463.15">C15</text>
<text x="238.00" y="471.49">C10</text>
<text x="238.00" y="479.83">C9</text>
<text x="238.00" y="488.17">C7</text>
<text x="238.00" y="496.51">C16</text>
<text x="238.00" y="504.85">C17</text>
</g>
<g class="h8" transform="translate(287.80 358.00) scale(8.0750 8.2306)">
<rect x="0" y="0" width="0.920" height="0.921" fill="#9f558d"/>
<rect x="1" y="0" width="0.920" height="0.921" fill="#d7b8cf"/>
<rect x="2" y="0" width="0.920" height="0.921" fill="#d7b8cf"/>
<rect x="3" y="0" width="0.920" height="0.921" fill="#c396b8"/>
<rect x="4" y="0" width="0.920" height="0.921" fill="#d7b8cf"/>
<rect x="5" y="0" width="0.920" height="0.921" fill="#ecdde8"/>
<rect x="6" y="0" width="0.920" height="0.921" fill="#ecdde8"/>
<rect x="7" y="0" width="0.920" height="0.921" fill="#a6d2bb"/>
<rect x="8" y="0" width="0.920" height="0.921" fill="#dcede4"/>
<rect x="9" y="0" width="0.920" height="0.921" fill="#d7b8cf"/>
<rect x="10" y="0" width="0.920" height="0.921" fill="#ffffff"/>
<rect x="11" y="0" width="0.920" height="0.921" fill="#ffffff"/>
<rect x="12" y="0" width="0.920" height="0.921" fill="#c8e3d5"/>
<rect x="13" y="0" width="0.920" height="0.921" fill="#c8e3d5"/>
<rect x="14" y="0" width="0.920" height="0.921" fill="#c8e3d5"/>
<rect x="15" y="0" width="0.920" height="0.921" fill="#ecdde8"/>
<rect x="16" y="0" width="0.920" height="0.921" fill="#dcede4"/>
<rect x="17" y="0" width="0.920" height="0.921" fill="#dcede4"/>
<rect x="0" y="1" width="0.920" height="0.921" fill="#d7b8cf"/>
<rect x="1" y="1" width="0.920" height="0.921" fill="#9f558d"/>
<rect x="2" y="1" width="0.920" height="0.921" fill="#d7b8cf"/>
<rect x="3" y="1" width="0.920" height="0.921" fill="#c396b8"/>
<rect x="4" y="1" width="0.920" height="0.921" fill="#ecdde8"/>
<rect x="5" y="1" width="0.920" height="0.921" fill="#d7b8cf"/>
<rect x="6" y="1" width="0.920" height="0.921" fill="#ffffff"/>
<rect x="7" y="1" width="0.920" height="0.921" fill="#b4d9c6"/>
<rect x="8" y="1" width="0.920" height="0.921" fill="#b4d9c6"/>
<rect x="9" y="1" width="0.920" height="0.921" fill="#dcede4"/>
<rect x="10" y="1" width="0.920" height="0.921" fill="#a6d2bb"/>
<rect x="11" y="1" width="0.920" height="0.921" fill="#99cab0"/>
<rect x="12" y="1" width="0.920" height="0.921" fill="#99cab0"/>
<rect x="13" y="1" width="0.920" height="0.921" fill="#99cab0"/>
<rect x="14" y="1" width="0.920" height="0.921" fill="#7dbc9b"/>
<rect x="15" y="1" width="0.920" height="0.921" fill="#99cab0"/>
<rect x="16" y="1" width="0.920" height="0.921" fill="#8bc3a6"/>
<rect x="17" y="1" width="0.920" height="0.921" fill="#99cab0"/>
<rect x="0" y="2" width="0.920" height="0.921" fill="#d7b8cf"/>
<rect x="1" y="2" width="0.920" height="0.921" fill="#d7b8cf"/>
<rect x="2" y="2" width="0.920" height="0.921" fill="#9f558d"/>
<rect x="3" y="2" width="0.920" height="0.921" fill="#c396b8"/>
<rect x="4" y="2" width="0.920" height="0.921" fill="#dcede4"/>
<rect x="5" y="2" width="0.920" height="0.921" fill="#dcede4"/>
<rect x="6" y="2" width="0.920" height="0.921" fill="#b4d9c6"/>
<rect x="7" y="2" width="0.920" height="0.921" fill="#dcede4"/>
<rect x="8" y="2" width="0.920" height="0.921" fill="#dcede4"/>
<rect x="9" y="2" width="0.920" height="0.921" fill="#ffffff"/>
<rect x="10" y="2" width="0.920" height="0.921" fill="#7dbc9b"/>
<rect x="11" y="2" width="0.920" height="0.921" fill="#a6d2bb"/>
<rect x="12" y="2" width="0.920" height="0.921" fill="#ffffff"/>
<rect x="13" y="2" width="0.920" height="0.921" fill="#99cab0"/>
<rect x="14" y="2" width="0.920" height="0.921" fill="#a6d2bb"/>
<rect x="15" y="2" width="0.920" height="0.921" fill="#99cab0"/>
<rect x="16" y="2" width="0.920" height="0.921" fill="#dcede4"/>
<rect x="17" y="2" width="0.920" height="0.921" fill="#b4d9c6"/>
<rect x="0" y="3" width="0.920" height="0.921" fill="#c396b8"/>
<rect x="1" y="3" width="0.920" height="0.921" fill="#c396b8"/>
<rect x="2" y="3" width="0.920" height="0.921" fill="#c396b8"/>
<rect x="3" y="3" width="0.920" height="0.921" fill="#9f558d"/>
<rect x="4" y="3" width="0.920" height="0.921" fill="#ecdde8"/>
<rect x="5" y="3" width="0.920" height="0.921" fill="#ecdde8"/>
<rect x="6" y="3" width="0.920" height="0.921" fill="#ecdde8"/>
<rect x="7" y="3" width="0.920" height="0.921" fill="#b4d9c6"/>
<rect x="8" y="3" width="0.920" height="0.921" fill="#c8e3d5"/>
<rect x="9" y="3" width="0.920" height="0.921" fill="#ffffff"/>
<rect x="10" y="3" width="0.920" height="0.921" fill="#b4d9c6"/>
<rect x="11" y="3" width="0.920" height="0.921" fill="#b4d9c6"/>
<rect x="12" y="3" width="0.920" height="0.921" fill="#b4d9c6"/>
<rect x="13" y="3" width="0.920" height="0.921" fill="#99cab0"/>
<rect x="14" y="3" width="0.920" height="0.921" fill="#99cab0"/>
<rect x="15" y="3" width="0.920" height="0.921" fill="#b4d9c6"/>
<rect x="16" y="3" width="0.920" height="0.921" fill="#b4d9c6"/>
<rect x="17" y="3" width="0.920" height="0.921" fill="#b4d9c6"/>
<rect x="0" y="4" width="0.920" height="0.921" fill="#d7b8cf"/>
<rect x="1" y="4" width="0.920" height="0.921" fill="#ecdde8"/>
<rect x="2" y="4" width="0.920" height="0.921" fill="#dcede4"/>
<rect x="3" y="4" width="0.920" height="0.921" fill="#ecdde8"/>
<rect x="4" y="4" width="0.920" height="0.921" fill="#9f558d"/>
<rect x="5" y="4" width="0.920" height="0.921" fill="#a25a90"/>
<rect x="6" y="4" width="0.920" height="0.921" fill="#a25a90"/>
<rect x="7" y="4" width="0.920" height="0.921" fill="#99cab0"/>
<rect x="8" y="4" width="0.920" height="0.921" fill="#6fb591"/>
<rect x="9" y="4" width="0.920" height="0.921" fill="#b4d9c6"/>
<rect x="10" y="4" width="0.920" height="0.921" fill="#ffffff"/>
<rect x="11" y="4" width="0.920" height="0.921" fill="#c8e3d5"/>
<rect x="12" y="4" width="0.920" height="0.921" fill="#b4d9c6"/>
<rect x="13" y="4" width="0.920" height="0.921" fill="#dcede4"/>
<rect x="14" y="4" width="0.920" height="0.921" fill="#dcede4"/>
<rect x="15" y="4" width="0.920" height="0.921" fill="#e1cadc"/>
<rect x="16" y="4" width="0.920" height="0.921" fill="#dcede4"/>
<rect x="17" y="4" width="0.920" height="0.921" fill="#c8e3d5"/>
<rect x="0" y="5" width="0.920" height="0.921" fill="#ecdde8"/>
<rect x="1" y="5" width="0.920" height="0.921" fill="#d7b8cf"/>
<rect x="2" y="5" width="0.920" height="0.921" fill="#dcede4"/>
<rect x="3" y="5" width="0.920" height="0.921" fill="#ecdde8"/>
<rect x="4" y="5" width="0.920" height="0.921" fill="#a25a90"/>
<rect x="5" y="5" width="0.920" height="0.921" fill="#9f558d"/>
<rect x="6" y="5" width="0.920" height="0.921" fill="#a25a90"/>
<rect x="7" y="5" width="0.920" height="0.921" fill="#99cab0"/>
<rect x="8" y="5" width="0.920" height="0.921" fill="#6fb591"/>
<rect x="9" y="5" width="0.920" height="0.921" fill="#b4d9c6"/>
<rect x="10" y="5" width="0.920" height="0.921" fill="#ffffff"/>
<rect x="11" y="5" width="0.920" height="0.921" fill="#c8e3d5"/>
<rect x="12" y="5" width="0.920" height="0.921" fill="#a6d2bb"/>
<rect x="13" y="5" width="0.920" height="0.921" fill="#c8e3d5"/>
<rect x="14" y="5" width="0.920" height="0.921" fill="#c8e3d5"/>
<rect x="15" y="5" width="0.920" height="0.921" fill="#ecdde8"/>
<rect x="16" y="5" width="0.920" height="0.921" fill="#c8e3d5"/>
<rect x="17" y="5" width="0.920" height="0.921" fill="#c8e3d5"/>
<rect x="0" y="6" width="0.920" height="0.921" fill="#ecdde8"/>
<rect x="1" y="6" width="0.920" height="0.921" fill="#ffffff"/>
<rect x="2" y="6" width="0.920" height="0.921" fill="#b4d9c6"/>
<rect x="3" y="6" width="0.920" height="0.921" fill="#ecdde8"/>
<rect x="4" y="6" width="0.920" height="0.921" fill="#a25a90"/>
<rect x="5" y="6" width="0.920" height="0.921" fill="#a25a90"/>
<rect x="6" y="6" width="0.920" height="0.921" fill="#9f558d"/>
<rect x="7" y="6" width="0.920" height="0.921" fill="#b4d9c6"/>
<rect x="8" y="6" width="0.920" height="0.921" fill="#8bc3a6"/>
<rect x="9" y="6" width="0.920" height="0.921" fill="#dcede4"/>
<rect x="10" y="6" width="0.920" height="0.921" fill="#d7b8cf"/>
<rect x="11" y="6" width="0.920" height="0.921" fill="#ecdde8"/>
<rect x="12" y="6" width="0.920" height="0.921" fill="#c8e3d5"/>
<rect x="13" y="6" width="0.920" height="0.921" fill="#ecdde8"/>
<rect x="14" y="6" width="0.920" height="0.921" fill="#ecdde8"/>
<rect x="15" y="6" width="0.920" height="0.921" fill="#c396b8"/>
<rect x="16" y="6" width="0.920" height="0.921" fill="#ffffff"/>
<rect x="17" y="6" width="0.920" height="0.921" fill="#ffffff"/>
<rect x="0" y="7" width="0.920" height="0.921" fill="#a6d2bb"/>
<rect x="1" y="7" width="0.920" height="0.921" fill="#b4d9c6"/>
<rect x="2" y="7" width="0.920" height="0.921" fill="#dcede4"/>
<rect x="3" y="7" width="0.920" height="0.921" fill="#b4d9c6"/>
<rect x="4" y="7" width="0.920" height="0.921" fill="#99cab0"/>
<rect x="5" y="7" width="0.920" height="0.921" fill="#99cab0"/>
<rect x="6" y="7" width="0.920" height="0.921" fill="#b4d9c6"/>
<rect x="7" y="7" width="0.920" height="0.921" fill="#9f558d"/>
<rect x="8" y="7" width="0.920" height="0.921" fill="#c396b8"/>
<rect x="9" y="7" width="0.920" height="0.921" fill="#dcede4"/>
<rect x="10" y="7" width="0.920" height="0.921" fill="#ffffff"/>
<rect x="11" y="7" width="0.920" height="0.921" fill="#d7b8cf"/>
<rect x="12" y="7" width="0.920" height="0.921" fill="#ad6e9e"/>
<rect x="13" y="7" width="0.920" height="0.921" fill="#c396b8"/>
<rect x="14" y="7" width="0.920" height="0.921" fill="#c396b8"/>
<rect x="15" y="7" width="0.920" height="0.921" fill="#dcede4"/>
<rect x="16" y="7" width="0.920" height="0.921" fill="#cda7c4"/>
<rect x="17" y="7" width="0.920" height="0.921" fill="#cda7c4"/>
<rect x="0" y="8" width="0.920" height="0.921" fill="#dcede4"/>
<rect x="1" y="8" width="0.920" height="0.921" fill="#b4d9c6"/>
<rect x="2" y="8" width="0.920" height="0.921" fill="#dcede4"/>
<rect x="3" y="8" width="0.920" height="0.921" fill="#c8e3d5"/>
<rect x="4" y="8" width="0.920" height="0.921" fill="#6fb591"/>
<rect x="5" y="8" width="0.920" height="0.921" fill="#6fb591"/>
<rect x="6" y="8" width="0.920" height="0.921" fill="#8bc3a6"/>
<rect x="7" y="8" width="0.920" height="0.921" fill="#c396b8"/>
<rect x="8" y="8" width="0.920" height="0.921" fill="#9f558d"/>
<rect x="9" y="8" width="0.920" height="0.921" fill="#c396b8"/>
<rect x="10" y="8" width="0.920" height="0.921" fill="#ecdde8"/>
<rect x="11" y="8" width="0.920" height="0.921" fill="#c396b8"/>
<rect x="12" y="8" width="0.920" height="0.921" fill="#c396b8"/>
<rect x="13" y="8" width="0.920" height="0.921" fill="#c396b8"/>
<rect x="14" y="8" width="0.920" height="0.921" fill="#cda7c4"/>
<rect x="15" y="8" width="0.920" height="0.921" fill="#edf6f1"/>
<rect x="16" y="8" width="0.920" height="0.921" fill="#c396b8"/>
<rect x="17" y="8" width="0.920" height="0.921" fill="#c396b8"/>
<rect x="0" y="9" width="0.920" height="0.921" fill="#d7b8cf"/>
<rect x="1" y="9" width="0.920" height="0.921" fill="#dcede4"/>
<rect x="2" y="9" width="0.920" height="0.921" fill="#ffffff"/>
<rect x="3" y="9" width="0.920" height="0.921" fill="#ffffff"/>
<rect x="4" y="9" width="0.920" height="0.921" fill="#b4d9c6"/>
<rect x="5" y="9" width="0.920" height="0.921" fill="#b4d9c6"/>
<rect x="6" y="9" width="0.920" height="0.921" fill="#dcede4"/>
<rect x="7" y="9" width="0.920" height="0.921" fill="#dcede4"/>
<rect x="8" y="9" width="0.920" height="0.921" fill="#c396b8"/>
<rect x="9" y="9" width="0.920" height="0.921" fill="#9f558d"/>
<rect x="10" y="9" width="0.920" height="0.921" fill="#ecdde8"/>
<rect x="11" y="9" width="0.920" height="0.921" fill="#ecdde8"/>
<rect x="12" y="9" width="0.920" height="0.921" fill="#ecdde8"/>
<rect x="13" y="9" width="0.920" height="0.921" fill="#ecdde8"/>
<rect x="14" y="9" width="0.920" height="0.921" fill="#ecdde8"/>
<rect x="15" y="9" width="0.920" height="0.921" fill="#e1cadc"/>
<rect x="16" y="9" width="0.920" height="0.921" fill="#ecdde8"/>
<rect x="17" y="9" width="0.920" height="0.921" fill="#e1cadc"/>
<rect x="0" y="10" width="0.920" height="0.921" fill="#ffffff"/>
<rect x="1" y="10" width="0.920" height="0.921" fill="#a6d2bb"/>
<rect x="2" y="10" width="0.920" height="0.921" fill="#7dbc9b"/>
<rect x="3" y="10" width="0.920" height="0.921" fill="#b4d9c6"/>
<rect x="4" y="10" width="0.920" height="0.921" fill="#ffffff"/>
<rect x="5" y="10" width="0.920" height="0.921" fill="#ffffff"/>
<rect x="6" y="10" width="0.920" height="0.921" fill="#d7b8cf"/>
<rect x="7" y="10" width="0.920" height="0.921" fill="#ffffff"/>
<rect x="8" y="10" width="0.920" height="0.921" fill="#ecdde8"/>
<rect x="9" y="10" width="0.920" height="0.921" fill="#ecdde8"/>
<rect x="10" y="10" width="0.920" height="0.921" fill="#9f558d"/>
<rect x="11" y="10" width="0.920" height="0.921" fill="#ad6e9e"/>
<rect x="12" y="10" width="0.920" height="0.921" fill="#e1cadc"/>
<rect x="13" y="10" width="0.920" height="0.921" fill="#ad6e9e"/>
<rect x="14" y="10" width="0.920" height="0.921" fill="#b882ab"/>
<rect x="15" y="10" width="0.920" height="0.921" fill="#c396b8"/>
<rect x="16" y="10" width="0.920" height="0.921" fill="#c396b8"/>
<rect x="17" y="10" width="0.920" height="0.921" fill="#c396b8"/>
<rect x="0" y="11" width="0.920" height="0.921" fill="#ffffff"/>
<rect x="1" y="11" width="0.920" height="0.921" fill="#99cab0"/>
<rect x="2" y="11" width="0.920" height="0.921" fill="#a6d2bb"/>
<rect x="3" y="11" width="0.920" height="0.921" fill="#b4d9c6"/>
<rect x="4" y="11" width="0.920" height="0.921" fill="#c8e3d5"/>
<rect x="5" y="11" width="0.920" height="0.921" fill="#c8e3d5"/>
<rect x="6" y="11" width="0.920" height="0.921" fill="#ecdde8"/>
<rect x="7" y="11" width="0.920" height="0.921" fill="#d7b8cf"/>
<rect x="8" y="11" width="0.920" height="0.921" fill="#c396b8"/>
<rect x="9" y="11" width="0.920" height="0.921" fill="#ecdde8"/>
<rect x="10" y="11" width="0.920" height="0.921" fill="#ad6e9e"/>
<rect x="11" y="11" width="0.920" height="0.921" fill="#9f558d"/>
<rect x="12" y="11" width="0.920" height="0.921" fill="#c396b8"/>
<rect x="13" y="11" width="0.920" height="0.921" fill="#a25a90"/>
<rect x="14" y="11" width="0.920" height="0.921" fill="#ad6e9e"/>
<rect x="15" y="11" width="0.920" height="0.921" fill="#c396b8"/>
<rect x="16" y="11" width="0.920" height="0.921" fill="#ad6e9e"/>
<rect x="17" y="11" width="0.920" height="0.921" fill="#ad6e9e"/>
<rect x="0" y="12" width="0.920" height="0.921" fill="#c8e3d5"/>
<rect x="1" y="12" width="0.920" height="0.921" fill="#99cab0"/>
<rect x="2" y="12" width="0.920" height="0.921" fill="#ffffff"/>
<rect x="3" y="12" width="0.920" height="0.921" fill="#b4d9c6"/>
<rect x="4" y="12" width="0.920" height="0.921" fill="#b4d9c6"/>
<rect x="5" y="12" width="0.920" height="0.921" fill="#a6d2bb"/>
<rect x="6" y="12" width="0.920" height="0.921" fill="#c8e3d5"/>
<rect x="7" y="12" width="0.920" height="0.921" fill="#ad6e9e"/>
<rect x="8" y="12" width="0.920" height="0.921" fill="#c396b8"/>
<rect x="9" y="12" width="0.920" height="0.921" fill="#ecdde8"/>
<rect x="10" y="12" width="0.920" height="0.921" fill="#e1cadc"/>
<rect x="11" y="12" width="0.920" height="0.921" fill="#c396b8"/>
<rect x="12" y="12" width="0.920" height="0.921" fill="#9f558d"/>
<rect x="13" y="12" width="0.920" height="0.921" fill="#c396b8"/>
<rect x="14" y="12" width="0.920" height="0.921" fill="#b882ab"/>
<rect x="15" y="12" width="0.920" height="0.921" fill="#d7b8cf"/>
<rect x="16" y="12" width="0.920" height="0.921" fill="#ad6e9e"/>
<rect x="17" y="12" width="0.920" height="0.921" fill="#c396b8"/>
<rect x="0" y="13" width="0.920" height="0.921" fill="#c8e3d5"/>
<rect x="1" y="13" width="0.920" height="0.921" fill="#99cab0"/>
<rect x="2" y="13" width="0.920" height="0.921" fill="#99cab0"/>
<rect x="3" y="13" width="0.920" height="0.921" fill="#99cab0"/>
<rect x="4" y="13" width="0.920" height="0.921" fill="#dcede4"/>
<rect x="5" y="13" width="0.920" height="0.921" fill="#c8e3d5"/>
<rect x="6" y="13" width="0.920" height="0.921" fill="#ecdde8"/>
<rect x="7" y="13" width="0.920" height="0.921" fill="#c396b8"/>
<rect x="8" y="13" width="0.920" height="0.921" fill="#c396b8"/>
<rect x="9" y="13" width="0.920" height="0.921" fill="#ecdde8"/>
<rect x="10" y="13" width="0.920" height="0.921" fill="#ad6e9e"/>
<rect x="11" y="13" width="0.920" height="0.921" fill="#a25a90"/>
<rect x="12" y="13" width="0.920" height="0.921" fill="#c396b8"/>
<rect x="13" y="13" width="0.920" height="0.921" fill="#9f558d"/>
<rect x="14" y="13" width="0.920" height="0.921" fill="#a25a90"/>
<rect x="15" y="13" width="0.920" height="0.921" fill="#c396b8"/>
<rect x="16" y="13" width="0.920" height="0.921" fill="#ad6e9e"/>
<rect x="17" y="13" width="0.920" height="0.921" fill="#ad6e9e"/>
<rect x="0" y="14" width="0.920" height="0.921" fill="#c8e3d5"/>
<rect x="1" y="14" width="0.920" height="0.921" fill="#7dbc9b"/>
<rect x="2" y="14" width="0.920" height="0.921" fill="#a6d2bb"/>
<rect x="3" y="14" width="0.920" height="0.921" fill="#99cab0"/>
<rect x="4" y="14" width="0.920" height="0.921" fill="#dcede4"/>
<rect x="5" y="14" width="0.920" height="0.921" fill="#c8e3d5"/>
<rect x="6" y="14" width="0.920" height="0.921" fill="#ecdde8"/>
<rect x="7" y="14" width="0.920" height="0.921" fill="#c396b8"/>
<rect x="8" y="14" width="0.920" height="0.921" fill="#cda7c4"/>
<rect x="9" y="14" width="0.920" height="0.921" fill="#ecdde8"/>
<rect x="10" y="14" width="0.920" height="0.921" fill="#b882ab"/>
<rect x="11" y="14" width="0.920" height="0.921" fill="#ad6e9e"/>
<rect x="12" y="14" width="0.920" height="0.921" fill="#b882ab"/>
<rect x="13" y="14" width="0.920" height="0.921" fill="#a25a90"/>
<rect x="14" y="14" width="0.920" height="0.921" fill="#9f558d"/>
<rect x="15" y="14" width="0.920" height="0.921" fill="#c396b8"/>
<rect x="16" y="14" width="0.920" height="0.921" fill="#a25a90"/>
<rect x="17" y="14" width="0.920" height="0.921" fill="#ad6e9e"/>
<rect x="0" y="15" width="0.920" height="0.921" fill="#ecdde8"/>
<rect x="1" y="15" width="0.920" height="0.921" fill="#99cab0"/>
<rect x="2" y="15" width="0.920" height="0.921" fill="#99cab0"/>
<rect x="3" y="15" width="0.920" height="0.921" fill="#b4d9c6"/>
<rect x="4" y="15" width="0.920" height="0.921" fill="#e1cadc"/>
<rect x="5" y="15" width="0.920" height="0.921" fill="#ecdde8"/>
<rect x="6" y="15" width="0.920" height="0.921" fill="#c396b8"/>
<rect x="7" y="15" width="0.920" height="0.921" fill="#dcede4"/>
<rect x="8" y="15" width="0.920" height="0.921" fill="#edf6f1"/>
<rect x="9" y="15" width="0.920" height="0.921" fill="#e1cadc"/>
<rect x="10" y="15" width="0.920" height="0.921" fill="#c396b8"/>
<rect x="11" y="15" width="0.920" height="0.921" fill="#c396b8"/>
<rect x="12" y="15" width="0.920" height="0.921" fill="#d7b8cf"/>
<rect x="13" y="15" width="0.920" height="0.921" fill="#c396b8"/>
<rect x="14" y="15" width="0.920" height="0.921" fill="#c396b8"/>
<rect x="15" y="15" width="0.920" height="0.921" fill="#9f558d"/>
<rect x="16" y="15" width="0.920" height="0.921" fill="#c396b8"/>
<rect x="17" y="15" width="0.920" height="0.921" fill="#c396b8"/>
<rect x="0" y="16" width="0.920" height="0.921" fill="#dcede4"/>
<rect x="1" y="16" width="0.920" height="0.921" fill="#8bc3a6"/>
<rect x="2" y="16" width="0.920" height="0.921" fill="#dcede4"/>
<rect x="3" y="16" width="0.920" height="0.921" fill="#b4d9c6"/>
<rect x="4" y="16" width="0.920" height="0.921" fill="#dcede4"/>
<rect x="5" y="16" width="0.920" height="0.921" fill="#c8e3d5"/>
<rect x="6" y="16" width="0.920" height="0.921" fill="#ffffff"/>
<rect x="7" y="16" width="0.920" height="0.921" fill="#cda7c4"/>
<rect x="8" y="16" width="0.920" height="0.921" fill="#c396b8"/>
<rect x="9" y="16" width="0.920" height="0.921" fill="#ecdde8"/>
<rect x="10" y="16" width="0.920" height="0.921" fill="#c396b8"/>
<rect x="11" y="16" width="0.920" height="0.921" fill="#ad6e9e"/>
<rect x="12" y="16" width="0.920" height="0.921" fill="#ad6e9e"/>
<rect x="13" y="16" width="0.920" height="0.921" fill="#ad6e9e"/>
<rect x="14" y="16" width="0.920" height="0.921" fill="#a25a90"/>
<rect x="15" y="16" width="0.920" height="0.921" fill="#c396b8"/>
<rect x="16" y="16" width="0.920" height="0.921" fill="#9f558d"/>
<rect x="17" y="16" width="0.920" height="0.921" fill="#ad6e9e"/>
<rect x="0" y="17" width="0.920" height="0.921" fill="#dcede4"/>
<rect x="1" y="17" width="0.920" height="0.921" fill="#99cab0"/>
<rect x="2" y="17" width="0.920" height="0.921" fill="#b4d9c6"/>
<rect x="3" y="17" width="0.920" height="0.921" fill="#b4d9c6"/>
<rect x="4" y="17" width="0.920" height="0.921" fill="#c8e3d5"/>
<rect x="5" y="17" width="0.920" height="0.921" fill="#c8e3d5"/>
<rect x="6" y="17" width="0.920" height="0.921" fill="#ffffff"/>
<rect x="7" y="17" width="0.920" height="0.921" fill="#cda7c4"/>
<rect x="8" y="17" width="0.920" height="0.921" fill="#c396b8"/>
<rect x="9" y="17" width="0.920" height="0.921" fill="#e1cadc"/>
<rect x="10" y="17" width="0.920" height="0.921" fill="#c396b8"/>
<rect x="11" y="17" width="0.920" height="0.921" fill="#ad6e9e"/>
<rect x="12" y="17" width="0.920" height="0.921" fill="#c396b8"/>
<rect x="13" y="17" width="0.920" height="0.921" fill="#ad6e9e"/>
<rect x="14" y="17" width="0.920" height="0.921" fill="#ad6e9e"/>
<rect x="15" y="17" width="0.920" height="0.921" fill="#c396b8"/>
<rect x="16" y="17" width="0.920" height="0.921" fill="#ad6e9e"/>
<rect x="17" y="17" width="0.920" height="0.921" fill="#9f558d"/>
</g>
<g font-size="7" font-weight="bold" stroke="#000" stroke-width="0.12">
<text x="434.40" y="364.99">C4</text>
<text x="434.40" y="373.22">C1</text>
<text x="434.40" y="381.45">C13</text>
<text x="434.40" y="389.68">C12</text>
<text x="434.40" y="397.91">C6</text>
<text x="434.40" y="406.14">C11</text>
<text x="434.40" y="414.37">C18</text>
<text x="434.40" y="422.60">C8</text>
<text x="434.40" y="430.83">C5</text>
<text x="434.40" y="439.07">C2</text>
<text x="434.40" y="447.30">C14</text>
<text x="434.40" y="455.53">C3</text>
<text x="434.40" y="463.76">C15</text>
<text x="434.40" y="471.99">C10</text>
<text x="434.40" y="480.22">C9</text>
<text x="434.40" y="488.45">C7</text>
<text x="434.40" y="496.68">C16</text>
<text x="434.40" y="504.91">C17</text>
</g>
<g class="h9" transform="translate(488.90 357.30) scale(8.2417 8.1583)">
<rect x="0" y="0" width="0.921" height="0.920" fill="#9f558d"/>
<rect x="1" y="0" width="0.921" height="0.920" fill="#ecdde8"/>
<rect x="2" y="0" width="0.921" height="0.920" fill="#e1cadc"/>
<rect x="3" y="0" width="0.921" height="0.920" fill="#d7b8cf"/>
<rect x="4" y="0" width="0.921" height="0.920" fill="#c396b8"/>
<rect x="5" y="0" width="0.921" height="0.920" fill="#d7b8cf"/>
<rect x="6" y="0" width="0.921" height="0.920" fill="#d7b8cf"/>
<rect x="7" y="0" width="0.921" height="0.920" fill="#a6d2bb"/>
<rect x="8" y="0" width="0.921" height="0.920" fill="#c8e3d5"/>
<rect x="9" y="0" width="0.921" height="0.920" fill="#e1cadc"/>
<rect x="10" y="0" width="0.921" height="0.920" fill="#ffffff"/>
<rect x="11" y="0" width="0.921" height="0.920" fill="#ffffff"/>
<rect x="12" y="0" width="0.921" height="0.920" fill="#c8e3d5"/>
<rect x="13" y="0" width="0.921" height="0.920" fill="#dcede4"/>
<rect x="14" y="0" width="0.921" height="0.920" fill="#dcede4"/>
<rect x="15" y="0" width="0.921" height="0.920" fill="#e1cadc"/>
<rect x="16" y="0" width="0.921" height="0.920" fill="#edf6f1"/>
<rect x="17" y="0" width="0.921" height="0.920" fill="#dcede4"/>
<rect x="0" y="1" width="0.921" height="0.920" fill="#ecdde8"/>
<rect x="1" y="1" width="0.921" height="0.920" fill="#9f558d"/>
<rect x="2" y="1" width="0.921" height="0.920" fill="#ecdde8"/>
<rect x="3" y="1" width="0.921" height="0.920" fill="#c396b8"/>
<rect x="4" y="1" width="0.921" height="0.920" fill="#ecdde8"/>
<rect x="5" y="1" width="0.921" height="0.920" fill="#d7b8cf"/>
<rect x="6" y="1" width="0.921" height="0.920" fill="#ffffff"/>
<rect x="7" y="1" width="0.921" height="0.920" fill="#b4d9c6"/>
<rect x="8" y="1" width="0.921" height="0.920" fill="#c8e3d5"/>
<rect x="9" y="1" width="0.921" height="0.920" fill="#dcede4"/>
<rect x="10" y="1" width="0.921" height="0.920" fill="#a6d2bb"/>
<rect x="11" y="1" width="0.921" height="0.920" fill="#99cab0"/>
<rect x="12" y="1" width="0.921" height="0.920" fill="#99cab0"/>
<rect x="13" y="1" width="0.921" height="0.920" fill="#99cab0"/>
<rect x="14" y="1" width="0.921" height="0.920" fill="#7dbc9b"/>
<rect x="15" y="1" width="0.921" height="0.920" fill="#99cab0"/>
<rect x="16" y="1" width="0.921" height="0.920" fill="#8bc3a6"/>
<rect x="17" y="1" width="0.921" height="0.920" fill="#99cab0"/>
<rect x="0" y="2" width="0.921" height="0.920" fill="#e1cadc"/>
<rect x="1" y="2" width="0.921" height="0.920" fill="#ecdde8"/>
<rect x="2" y="2" width="0.921" height="0.920" fill="#9f558d"/>
<rect x="3" y="2" width="0.921" height="0.920" fill="#c396b8"/>
<rect x="4" y="2" width="0.921" height="0.920" fill="#dcede4"/>
<rect x="5" y="2" width="0.921" height="0.920" fill="#dcede4"/>
<rect x="6" y="2" width="0.921" height="0.920" fill="#b4d9c6"/>
<rect x="7" y="2" width="0.921" height="0.920" fill="#ffffff"/>
<rect x="8" y="2" width="0.921" height="0.920" fill="#edf6f1"/>
<rect x="9" y="2" width="0.921" height="0.920" fill="#ffffff"/>
<rect x="10" y="2" width="0.921" height="0.920" fill="#7dbc9b"/>
<rect x="11" y="2" width="0.921" height="0.920" fill="#b4d9c6"/>
<rect x="12" y="2" width="0.921" height="0.920" fill="#ffffff"/>
<rect x="13" y="2" width="0.921" height="0.920" fill="#a6d2bb"/>
<rect x="14" y="2" width="0.921" height="0.920" fill="#a6d2bb"/>
<rect x="15" y="2" width="0.921" height="0.920" fill="#99cab0"/>
<rect x="16" y="2" width="0.921" height="0.920" fill="#dcede4"/>
<rect x="17" y="2" width="0.921" height="0.920" fill="#b4d9c6"/>
<rect x="0" y="3" width="0.921" height="0.920" fill="#d7b8cf"/>
<rect x="1" y="3" width="0.921" height="0.920" fill="#c396b8"/>
<rect x="2" y="3" width="0.921" height="0.920" fill="#c396b8"/>
<rect x="3" y="3" width="0.921" height="0.920" fill="#9f558d"/>
<rect x="4" y="3" width="0.921" height="0.920" fill="#ecdde8"/>
<rect x="5" y="3" width="0.921" height="0.920" fill="#e1cadc"/>
<rect x="6" y="3" width="0.921" height="0.920" fill="#ecdde8"/>
<rect x="7" y="3" width="0.921" height="0.920" fill="#b4d9c6"/>
<rect x="8" y="3" width="0.921" height="0.920" fill="#b4d9c6"/>
<rect x="9" y="3" width="0.921" height="0.920" fill="#edf6f1"/>
<rect x="10" y="3" width="0.921" height="0.920" fill="#b4d9c6"/>
<rect x="11" y="3" width="0.921" height="0.920" fill="#99cab0"/>
<rect x="12" y="3" width="0.921" height="0.920" fill="#99cab0"/>
<rect x="13" y="3" width="0.921" height="0.920" fill="#99cab0"/>
<rect x="14" y="3" width="0.921" height="0.920" fill="#99cab0"/>
<rect x="15" y="3" width="0.921" height="0.920" fill="#b4d9c6"/>
<rect x="16" y="3" width="0.921" height="0.920" fill="#99cab0"/>
<rect x="17" y="3" width="0.921" height="0.920" fill="#99cab0"/>
<rect x="0" y="4" width="0.921" height="0.920" fill="#c396b8"/>
<rect x="1" y="4" width="0.921" height="0.920" fill="#ecdde8"/>
<rect x="2" y="4" width="0.921" height="0.920" fill="#dcede4"/>
<rect x="3" y="4" width="0.921" height="0.920" fill="#ecdde8"/>
<rect x="4" y="4" width="0.921" height="0.920" fill="#9f558d"/>
<rect x="5" y="4" width="0.921" height="0.920" fill="#a25a90"/>
<rect x="6" y="4" width="0.921" height="0.920" fill="#a25a90"/>
<rect x="7" y="4" width="0.921" height="0.920" fill="#99cab0"/>
<rect x="8" y="4" width="0.921" height="0.920" fill="#6fb591"/>
<rect x="9" y="4" width="0.921" height="0.920" fill="#b4d9c6"/>
<rect x="10" y="4" width="0.921" height="0.920" fill="#ffffff"/>
<rect x="11" y="4" width="0.921" height="0.920" fill="#dcede4"/>
<rect x="12" y="4" width="0.921" height="0.920" fill="#b4d9c6"/>
<rect x="13" y="4" width="0.921" height="0.920" fill="#dcede4"/>
<rect x="14" y="4" width="0.921" height="0.920" fill="#dcede4"/>
<rect x="15" y="4" width="0.921" height="0.920" fill="#d7b8cf"/>
<rect x="16" y="4" width="0.921" height="0.920" fill="#dcede4"/>
<rect x="17" y="4" width="0.921" height="0.920" fill="#b4d9c6"/>
<rect x="0" y="5" width="0.921" height="0.920" fill="#d7b8cf"/>
<rect x="1" y="5" width="0.921" height="0.920" fill="#d7b8cf"/>
<rect x="2" y="5" width="0.921" height="0.920" fill="#dcede4"/>
<rect x="3" y="5" width="0.921" height="0.920" fill="#e1cadc"/>
<rect x="4" y="5" width="0.921" height="0.920" fill="#a25a90"/>
<rect x="5" y="5" width="0.921" height="0.920" fill="#9f558d"/>
<rect x="6" y="5" width="0.921" height="0.920" fill="#a25a90"/>
<rect x="7" y="5" width="0.921" height="0.920" fill="#99cab0"/>
<rect x="8" y="5" width="0.921" height="0.920" fill="#6fb591"/>
<rect x="9" y="5" width="0.921" height="0.920" fill="#b4d9c6"/>
<rect x="10" y="5" width="0.921" height="0.920" fill="#ffffff"/>
<rect x="11" y="5" width="0.921" height="0.920" fill="#dcede4"/>
<rect x="12" y="5" width="0.921" height="0.920" fill="#a6d2bb"/>
<rect x="13" y="5" width="0.921" height="0.920" fill="#dcede4"/>
<rect x="14" y="5" width="0.921" height="0.920" fill="#c8e3d5"/>
<rect x="15" y="5" width="0.921" height="0.920" fill="#ecdde8"/>
<rect x="16" y="5" width="0.921" height="0.920" fill="#c8e3d5"/>
<rect x="17" y="5" width="0.921" height="0.920" fill="#b4d9c6"/>
<rect x="0" y="6" width="0.921" height="0.920" fill="#d7b8cf"/>
<rect x="1" y="6" width="0.921" height="0.920" fill="#ffffff"/>
<rect x="2" y="6" width="0.921" height="0.920" fill="#b4d9c6"/>
<rect x="3" y="6" width="0.921" height="0.920" fill="#ecdde8"/>
<rect x="4" y="6" width="0.921" height="0.920" fill="#a25a90"/>
<rect x="5" y="6" width="0.921" height="0.920" fill="#a25a90"/>
<rect x="6" y="6" width="0.921" height="0.920" fill="#9f558d"/>
<rect x="7" y="6" width="0.921" height="0.920" fill="#99cab0"/>
<rect x="8" y="6" width="0.921" height="0.920" fill="#8bc3a6"/>
<rect x="9" y="6" width="0.921" height="0.920" fill="#c8e3d5"/>
<rect x="10" y="6" width="0.921" height="0.920" fill="#d7b8cf"/>
<rect x="11" y="6" width="0.921" height="0.920" fill="#ecdde8"/>
<rect x="12" y="6" width="0.921" height="0.920" fill="#dcede4"/>
<rect x="13" y="6" width="0.921" height="0.920" fill="#ecdde8"/>
<rect x="14" y="6" width="0.921" height="0.920" fill="#ecdde8"/>
<rect x="15" y="6" width="0.921" height="0.920" fill="#c396b8"/>
<rect x="16" y="6" width="0.921" height="0.920" fill="#ffffff"/>
<rect x="17" y="6" width="0.921" height="0.920" fill="#ffffff"/>
<rect x="0" y="7" width="0.921" height="0.920" fill="#a6d2bb"/>
<rect x="1" y="7" width="0.921" height="0.920" fill="#b4d9c6"/>
<rect x="2" y="7" width="0.921" height="0.920" fill="#ffffff"/>
<rect x="3" y="7" width="0.921" height="0.920" fill="#b4d9c6"/>
<rect x="4" y="7" width="0.921" height="0.920" fill="#99cab0"/>
<rect x="5" y="7" width="0.921" height="0.920" fill="#99cab0"/>
<rect x="6" y="7" width="0.921" height="0.920" fill="#99cab0"/>
<rect x="7" y="7" width="0.921" height="0.920" fill="#9f558d"/>
<rect x="8" y="7" width="0.921" height="0.920" fill="#c396b8"/>
<rect x="9" y="7" width="0.921" height="0.920" fill="#ffffff"/>
<rect x="10" y="7" width="0.921" height="0.920" fill="#ffffff"/>
<rect x="11" y="7" width="0.921" height="0.920" fill="#cda7c4"/>
<rect x="12" y="7" width="0.921" height="0.920" fill="#ad6e9e"/>
<rect x="13" y="7" width="0.921" height="0.920" fill="#c396b8"/>
<rect x="14" y="7" width="0.921" height="0.920" fill="#c396b8"/>
<rect x="15" y="7" width="0.921" height="0.920" fill="#dcede4"/>
<rect x="16" y="7" width="0.921" height="0.920" fill="#c396b8"/>
<rect x="17" y="7" width="0.921" height="0.920" fill="#c396b8"/>
<rect x="0" y="8" width="0.921" height="0.920" fill="#c8e3d5"/>
<rect x="1" y="8" width="0.921" height="0.920" fill="#c8e3d5"/>
<rect x="2" y="8" width="0.921" height="0.920" fill="#edf6f1"/>
<rect x="3" y="8" width="0.921" height="0.920" fill="#b4d9c6"/>
<rect x="4" y="8" width="0.921" height="0.920" fill="#6fb591"/>
<rect x="5" y="8" width="0.921" height="0.920" fill="#6fb591"/>
<rect x="6" y="8" width="0.921" height="0.920" fill="#8bc3a6"/>
<rect x="7" y="8" width="0.921" height="0.920" fill="#c396b8"/>
<rect x="8" y="8" width="0.921" height="0.920" fill="#9f558d"/>
<rect x="9" y="8" width="0.921" height="0.920" fill="#c396b8"/>
<rect x="10" y="8" width="0.921" height="0.920" fill="#ecdde8"/>
<rect x="11" y="8" width="0.921" height="0.920" fill="#c396b8"/>
<rect x="12" y="8" width="0.921" height="0.920" fill="#c396b8"/>
<rect x="13" y="8" width="0.921" height="0.920" fill="#c396b8"/>
<rect x="14" y="8" width="0.921" height="0.920" fill="#cda7c4"/>
<rect x="15" y="8" width="0.921" height="0.920" fill="#dcede4"/>
<rect x="16" y="8" width="0.921" height="0.920" fill="#c396b8"/>
<rect x="17" y="8" width="0.921" height="0.920" fill="#c396b8"/>
<rect x="0" y="9" width="0.921" height="0.920" fill="#e1cadc"/>
<rect x="1" y="9" width="0.921" height="0.920" fill="#dcede4"/>
<rect x="2" y="9" width="0.921" height="0.920" fill="#ffffff"/>
<rect x="3" y="9" width="0.921" height="0.920" fill="#edf6f1"/>
<rect x="4" y="9" width="0.921" height="0.920" fill="#b4d9c6"/>
<rect x="5" y="9" width="0.921" height="0.920" fill="#b4d9c6"/>
<rect x="6" y="9" width="0.921" height="0.920" fill="#c8e3d5"/>
<rect x="7" y="9" width="0.921" height="0.920" fill="#ffffff"/>
<rect x="8" y="9" width="0.921" height="0.920" fill="#c396b8"/>
<rect x="9" y="9" width="0.921" height="0.920" fill="#9f558d"/>
<rect x="10" y="9" width="0.921" height="0.920" fill="#ecdde8"/>
<rect x="11" y="9" width="0.921" height="0.920" fill="#ecdde8"/>
<rect x="12" y="9" width="0.921" height="0.920" fill="#ecdde8"/>
<rect x="13" y="9" width="0.921" height="0.920" fill="#ecdde8"/>
<rect x="14" y="9" width="0.921" height="0.920" fill="#ecdde8"/>
<rect x="15" y="9" width="0.921" height="0.920" fill="#e1cadc"/>
<rect x="16" y="9" width="0.921" height="0.920" fill="#ecdde8"/>
<rect x="17" y="9" width="0.921" height="0.920" fill="#e1cadc"/>
<rect x="0" y="10" width="0.921" height="0.920" fill="#ffffff"/>
<rect x="1" y="10" width="0.921" height="0.920" fill="#a6d2bb"/>
<rect x="2" y="10" width="0.921" height="0.920" fill="#7dbc9b"/>
<rect x="3" y="10" width="0.921" height="0.920" fill="#b4d9c6"/>
<rect x="4" y="10" width="0.921" height="0.920" fill="#ffffff"/>
<rect x="5" y="10" width="0.921" height="0.920" fill="#ffffff"/>
<rect x="6" y="10" width="0.921" height="0.920" fill="#d7b8cf"/>
<rect x="7" y="10" width="0.921" height="0.920" fill="#ffffff"/>
<rect x="8" y="10" width="0.921" height="0.920" fill="#ecdde8"/>
<rect x="9" y="10" width="0.921" height="0.920" fill="#ecdde8"/>
<rect x="10" y="10" width="0.921" height="0.920" fill="#9f558d"/>
<rect x="11" y="10" width="0.921" height="0.920" fill="#ad6e9e"/>
<rect x="12" y="10" width="0.921" height="0.920" fill="#e1cadc"/>
<rect x="13" y="10" width="0.921" height="0.920" fill="#ad6e9e"/>
<rect x="14" y="10" width="0.921" height="0.920" fill="#b882ab"/>
<rect x="15" y="10" width="0.921" height="0.920" fill="#c396b8"/>
<rect x="16" y="10" width="0.921" height="0.920" fill="#c396b8"/>
<rect x="17" y="10" width="0.921" height="0.920" fill="#c396b8"/>
<rect x="0" y="11" width="0.921" height="0.920" fill="#ffffff"/>
<rect x="1" y="11" width="0.921" height="0.920" fill="#99cab0"/>
<rect x="2" y="11" width="0.921" height="0.920" fill="#b4d9c6"/>
<rect x="3" y="11" width="0.921" height="0.920" fill="#99cab0"/>
<rect x="4" y="11" width="0.921" height="0.920" fill="#dcede4"/>
<rect x="5" y="11" width="0.921" height="0.920" fill="#dcede4"/>
<rect x="6" y="11" width="0.921" height="0.920" fill="#ecdde8"/>
<rect x="7" y="11" width="0.921" height="0.920" fill="#cda7c4"/>
<rect x="8" y="11" width="0.921" height="0.920" fill="#c396b8"/>
<rect x="9" y="11" width="0.921" height="0.920" fill="#ecdde8"/>
<rect x="10" y="11" width="0.921" height="0.920" fill="#ad6e9e"/>
<rect x="11" y="11" width="0.921" height="0.920" fill="#9f558d"/>
<rect x="12" y="11" width="0.921" height="0.920" fill="#c396b8"/>
<rect x="13" y="11" width="0.921" height="0.920" fill="#a25a90"/>
<rect x="14" y="11" width="0.921" height="0.920" fill="#ad6e9e"/>
<rect x="15" y="11" width="0.921" height="0.920" fill="#c396b8"/>
<rect x="16" y="11" width="0.921" height="0.920" fill="#ad6e9e"/>
<rect x="17" y="11" width="0.921" height="0.920" fill="#ad6e9e"/>
<rect x="0" y="12" width="0.921" height="0.920" fill="#c8e3d5"/>
<rect x="1" y="12" width="0.921" height="0.920" fill="#99cab0"/>
<rect x="2" y="12" width="0.921" height="0.920" fill="#ffffff"/>
<rect x="3" y="12" width="0.921" height="0.920" fill="#99cab0"/>
<rect x="4" y="12" width="0.921" height="0.920" fill="#b4d9c6"/>
<rect x="5" y="12" width="0.921" height="0.920" fill="#a6d2bb"/>
<rect x="6" y="12" width="0.921" height="0.920" fill="#dcede4"/>
<rect x="7" y="12" width="0.921" height="0.920" fill="#ad6e9e"/>
<rect x="8" y="12" width="0.921" height="0.920" fill="#c396b8"/>
<rect x="9" y="12" width="0.921" height="0.920" fill="#ecdde8"/>
<rect x="10" y="12" width="0.921" height="0.920" fill="#e1cadc"/>
<rect x="11" y="12" width="0.921" height="0.920" fill="#c396b8"/>
<rect x="12" y="12" width="0.921" height="0.920" fill="#9f558d"/>
<rect x="13" y="12" width="0.921" height="0.920" fill="#b882ab"/>
<rect x="14" y="12" width="0.921" height="0.920" fill="#b882ab"/>
<rect x="15" y="12" width="0.921" height="0.920" fill="#d7b8cf"/>
<rect x="16" y="12" width="0.921" height="0.920" fill="#ad6e9e"/>
<rect x="17" y="12" width="0.921" height="0.920" fill="#b882ab"/>
<rect x="0" y="13" width="0.921" height="0.920" fill="#dcede4"/>
<rect x="1" y="13" width="0.921" height="0.920" fill="#99cab0"/>
<rect x="2" y="13" width="0.921" height="0.920" fill="#a6d2bb"/>
<rect x="3" y="13" width="0.921" height="0.920" fill="#99cab0"/>
<rect x="4" y="13" width="0.921" height="0.920" fill="#dcede4"/>
<rect x="5" y="13" width="0.921" height="0.920" fill="#dcede4"/>
<rect x="6" y="13" width="0.921" height="0.920" fill="#ecdde8"/>
<rect x="7" y="13" width="0.921" height="0.920" fill="#c396b8"/>
<rect x="8" y="13" width="0.921" height="0.920" fill="#c396b8"/>
<rect x="9" y="13" width="0.921" height="0.920" fill="#ecdde8"/>
<rect x="10" y="13" width="0.921" height="0.920" fill="#ad6e9e"/>
<rect x="11" y="13" width="0.921" height="0.920" fill="#a25a90"/>
<rect x="12" y="13" width="0.921" height="0.920" fill="#b882ab"/>
<rect x="13" y="13" width="0.921" height="0.920" fill="#9f558d"/>
<rect x="14" y="13" width="0.921" height="0.920" fill="#a25a90"/>
<rect x="15" y="13" width="0.921" height="0.920" fill="#c396b8"/>
<rect x="16" y="13" width="0.921" height="0.920" fill="#ad6e9e"/>
<rect x="17" y="13" width="0.921" height="0.920" fill="#ad6e9e"/>
<rect x="0" y="14" width="0.921" height="0.920" fill="#dcede4"/>
<rect x="1" y="14" width="0.921" height="0.920" fill="#7dbc9b"/>
<rect x="2" y="14" width="0.921" height="0.920" fill="#a6d2bb"/>
<rect x="3" y="14" width="0.921" height="0.920" fill="#99cab0"/>
<rect x="4" y="14" width="0.921" height="0.920" fill="#dcede4"/>
<rect x="5" y="14" width="0.921" height="0.920" fill="#c8e3d5"/>
<rect x="6" y="14" width="0.921" height="0.920" fill="#ecdde8"/>
<rect x="7" y="14" width="0.921" height="0.920" fill="#c396b8"/>
<rect x="8" y="14" width="0.921" height="0.920" fill="#cda7c4"/>
<rect x="9" y="14" width="0.921" height="0.920" fill="#ecdde8"/>
<rect x="10" y="14" width="0.921" height="0.920" fill="#b882ab"/>
<rect x="11" y="14" width="0.921" height="0.920" fill="#ad6e9e"/>
<rect x="12" y="14" width="0.921" height="0.920" fill="#b882ab"/>
<rect x="13" y="14" width="0.921" height="0.920" fill="#a25a90"/>
<rect x="14" y="14" width="0.921" height="0.920" fill="#9f558d"/>
<rect x="15" y="14" width="0.921" height="0.920" fill="#c396b8"/>
<rect x="16" y="14" width="0.921" height="0.920" fill="#ad6e9e"/>
<rect x="17" y="14" width="0.921" height="0.920" fill="#ad6e9e"/>
<rect x="0" y="15" width="0.921" height="0.920" fill="#e1cadc"/>
<rect x="1" y="15" width="0.921" height="0.920" fill="#99cab0"/>
<rect x="2" y="15" width="0.921" height="0.920" fill="#99cab0"/>
<rect x="3" y="15" width="0.921" height="0.920" fill="#b4d9c6"/>
<rect x="4" y="15" width="0.921" height="0.920" fill="#d7b8cf"/>
<rect x="5" y="15" width="0.921" height="0.920" fill="#ecdde8"/>
<rect x="6" y="15" width="0.921" height="0.920" fill="#c396b8"/>
<rect x="7" y="15" width="0.921" height="0.920" fill="#dcede4"/>
<rect x="8" y="15" width="0.921" height="0.920" fill="#dcede4"/>
<rect x="9" y="15" width="0.921" height="0.920" fill="#e1cadc"/>
<rect x="10" y="15" width="0.921" height="0.920" fill="#c396b8"/>
<rect x="11" y="15" width="0.921" height="0.920" fill="#c396b8"/>
<rect x="12" y="15" width="0.921" height="0.920" fill="#d7b8cf"/>
<rect x="13" y="15" width="0.921" height="0.920" fill="#c396b8"/>
<rect x="14" y="15" width="0.921" height="0.920" fill="#c396b8"/>
<rect x="15" y="15" width="0.921" height="0.920" fill="#9f558d"/>
<rect x="16" y="15" width="0.921" height="0.920" fill="#c396b8"/>
<rect x="17" y="15" width="0.921" height="0.920" fill="#c396b8"/>
<rect x="0" y="16" width="0.921" height="0.920" fill="#edf6f1"/>
<rect x="1" y="16" width="0.921" height="0.920" fill="#8bc3a6"/>
<rect x="2" y="16" width="0.921" height="0.920" fill="#dcede4"/>
<rect x="3" y="16" width="0.921" height="0.920" fill="#99cab0"/>
<rect x="4" y="16" width="0.921" height="0.920" fill="#dcede4"/>
<rect x="5" y="16" width="0.921" height="0.920" fill="#c8e3d5"/>
<rect x="6" y="16" width="0.921" height="0.920" fill="#ffffff"/>
<rect x="7" y="16" width="0.921" height="0.920" fill="#c396b8"/>
<rect x="8" y="16" width="0.921" height="0.920" fill="#c396b8"/>
<rect x="9" y="16" width="0.921" height="0.920" fill="#ecdde8"/>
<rect x="10" y="16" width="0.921" height="0.920" fill="#c396b8"/>
<rect x="11" y="16" width="0.921" height="0.920" fill="#ad6e9e"/>
<rect x="12" y="16" width="0.921" height="0.920" fill="#ad6e9e"/>
<rect x="13" y="16" width="0.921" height="0.920" fill="#ad6e9e"/>
<rect x="14" y="16" width="0.921" height="0.920" fill="#ad6e9e"/>
<rect x="15" y="16" width="0.921" height="0.920" fill="#c396b8"/>
<rect x="16" y="16" width="0.921" height="0.920" fill="#9f558d"/>
<rect x="17" y="16" width="0.921" height="0.920" fill="#ad6e9e"/>
<rect x="0" y="17" width="0.921" height="0.920" fill="#dcede4"/>
<rect x="1" y="17" width="0.921" height="0.920" fill="#99cab0"/>
<rect x="2" y="17" width="0.921" height="0.920" fill="#b4d9c6"/>
<rect x="3" y="17" width="0.921" height="0.920" fill="#99cab0"/>
<rect x="4" y="17" width="0.921" height="0.920" fill="#b4d9c6"/>
<rect x="5" y="17" width="0.921" height="0.920" fill="#b4d9c6"/>
<rect x="6" y="17" width="0.921" height="0.920" fill="#ffffff"/>
<rect x="7" y="17" width="0.921" height="0.920" fill="#c396b8"/>
<rect x="8" y="17" width="0.921" height="0.920" fill="#c396b8"/>
<rect x="9" y="17" width="0.921" height="0.920" fill="#e1cadc"/>
<rect x="10" y="17" width="0.921" height="0.920" fill="#c396b8"/>
<rect x="11" y="17" width="0.921" height="0.920" fill="#ad6e9e"/>
<rect x="12" y="17" width="0.921" height="0.920" fill="#b882ab"/>
<rect x="13" y="17" width="0.921" height="0.920" fill="#ad6e9e"/>
<rect x="14" y="17" width="0.921" height="0.920" fill="#ad6e9e"/>
<rect x="15" y="17" width="0.921" height="0.920" fill="#c396b8"/>
<rect x="16" y="17" width="0.921" height="0.920" fill="#ad6e9e"/>
<rect x="17" y="17" width="0.921" height="0.920" fill="#9f558d"/>
</g>
<g font-size="7" font-weight="bold" stroke="#000" stroke-width="0.12">
<text x="638.50" y="364.25">C4</text>
<text x="638.50" y="372.41">C1</text>
<text x="638.50" y="380.57">C13</text>
<text x="638.50" y="388.73">C12</text>
<text x="638.50" y="396.89">C6</text>
<text x="638.50" y="405.05">C11</text>
<text x="638.50" y="413.20">C18</text>
<text x="638.50" y="421.36">C8</text>
<text x="638.50" y="429.52">C5</text>
<text x="638.50" y="437.68">C2</text>
<text x="638.50" y="445.84">C14</text>
<text x="638.50" y="454.00">C3</text>
<text x="638.50" y="462.15">C15</text>
<text x="638.50" y="470.31">C10</text>
<text x="638.50" y="478.47">C9</text>
<text x="638.50" y="486.63">C7</text>
<text x="638.50" y="494.79">C16</text>
<text x="638.50" y="502.95">C17</text>
</g>
<rect x="257.90" y="1.00" width="6.30" height="85.70" fill="url(#g1)"/>
<g font-size="6.00" font-weight="bold">
<text x="266.10" y="4.56">1</text>
<text x="266.10" y="28.36">0.5</text>
<text x="266.10" y="51.86">0</text>
<text x="266.10" y="75.46">−0.5</text>
</g>
<text x="257.60" y="93.00" font-size="7.20" font-weight="bold"><tspan font-style="italic">r</tspan>-value</text>
<rect x="465.20" y="2.30" width="5.60" height="85.20" fill="url(#g2)"/>
<g font-size="6.00" font-weight="bold">
<text x="472.60" y="5.36">1</text>
<text x="472.60" y="29.26">0.5</text>
<text x="472.60" y="53.66">0</text>
<text x="472.60" y="78.26">−0.5</text>
</g>
<text x="462.90" y="94.30" font-size="7.20" font-weight="bold"><tspan font-style="italic">r</tspan>-value</text>
<rect x="660.60" y="1.90" width="5.70" height="85.80" fill="url(#g3)"/>
<g font-size="6.00" font-weight="bold">
<text x="668.00" y="4.96">1</text>
<text x="668.00" y="28.16">0.5</text>
<text x="668.00" y="51.16">0</text>
<text x="668.00" y="74.66">−0.5</text>
</g>
<text x="658.70" y="93.20" font-size="7.20" font-weight="bold"><tspan font-style="italic">r</tspan>-value</text>
<rect x="256.30" y="177.00" width="4.60" height="64.40" fill="url(#g4)"/>
<g font-size="4.60" font-weight="bold">
<text x="262.40" y="179.66">1</text>
<text x="262.40" y="197.86">0.5</text>
<text x="262.40" y="216.56">0</text>
<text x="262.40" y="235.06">−0.5</text>
</g>
<text x="254.10" y="247.00" font-size="7.60" font-weight="bold"><tspan font-style="italic">r</tspan>-value</text>
<rect x="459.10" y="177.80" width="4.50" height="63.60" fill="url(#g5)"/>
<g font-size="4.60" font-weight="bold">
<text x="464.80" y="180.46">1</text>
<text x="464.80" y="188.36">0.8</text>
<text x="464.80" y="196.36">0.6</text>
<text x="464.80" y="204.46">0.4</text>
<text x="464.80" y="212.76">0.2</text>
<text x="464.80" y="220.66">0</text>
<text x="464.80" y="228.96">−0.2</text>
<text x="464.80" y="236.96">−0.4</text>
</g>
<text x="457.60" y="247.30" font-size="7.60" font-weight="bold"><tspan font-style="italic">r</tspan>-value</text>
<rect x="661.40" y="177.00" width="4.50" height="62.40" fill="url(#g6)"/>
<g font-size="4.60" font-weight="bold">
<text x="667.70" y="179.46">1</text>
<text x="667.70" y="196.36">0.5</text>
<text x="667.70" y="213.86">0</text>
<text x="667.70" y="231.26">−0.5</text>
</g>
<text x="660.90" y="245.80" font-size="7.60" font-weight="bold"><tspan font-style="italic">r</tspan>-value</text>
<rect x="262.40" y="355.80" width="4.30" height="65.40" fill="url(#g7)"/>
<g font-size="5.00" font-weight="bold">
<text x="268.90" y="358.20">1</text>
<text x="268.90" y="376.00">0.5</text>
<text x="268.90" y="394.20">0</text>
<text x="268.90" y="412.40">−0.5</text>
</g>
<text x="259.80" y="427.60" font-size="7.60" font-weight="bold"><tspan font-style="italic">r</tspan>-value</text>
<rect x="458.30" y="357.60" width="4.60" height="64.80" fill="url(#g8)"/>
<g font-size="5.00" font-weight="bold">
<text x="464.40" y="360.10">1</text>
<text x="464.40" y="377.90">0.5</text>
<text x="464.40" y="395.70">0</text>
<text x="464.40" y="413.90">−0.5</text>
</g>
<text x="456.80" y="429.10" font-size="7.60" font-weight="bold"><tspan font-style="italic">r</tspan>-value</text>
<rect x="662.90" y="356.80" width="4.50" height="64.40" fill="url(#g9)"/>
<g font-size="5.00" font-weight="bold">
<text x="669.20" y="359.40">1</text>
<text x="669.20" y="376.80">0.5</text>
<text x="669.20" y="394.50">0</text>
<text x="669.20" y="412.10">−0.5</text>
</g>
<text x="661.70" y="427.60" font-size="7.60" font-weight="bold"><tspan font-style="italic">r</tspan>-value</text>
<g font-size="8.80" font-weight="bold" text-anchor="middle" stroke="#000" stroke-width="0.18">
<text x="176.20" y="154.70">Longitudinal change from ages 14 and 19</text>
<text x="177.50" y="165.20">(<tspan font-style="italic">n</tspan> = 506)</text>
<text x="374.60" y="153.90">DNAm at age 14 (<tspan font-style="italic">n</tspan> = 506)</text>
<text x="375.00" y="164.10">Mantel <tspan font-style="italic">r</tspan> = 0.94</text>
<text x="571.80" y="153.30">DNAm at age 19 (<tspan font-style="italic">n</tspan> = 506)</text>
<text x="571.30" y="162.90">Mantel <tspan font-style="italic">r</tspan> = 0.81</text>
<text x="167.40" y="330.20">Parkinson's Disease (<tspan font-style="italic">n</tspan> = 329)</text>
<text x="167.10" y="340.20">Mantel <tspan font-style="italic">r</tspan> = 0.66, <tspan font-style="italic">P</tspan> &lt; 0.0001</text>
<text x="365.30" y="327.80">SWEDD (<tspan font-style="italic">n</tspan> = 53)</text>
<text x="365.10" y="338.40">Mantel <tspan font-style="italic">r</tspan> = 0.64, <tspan font-style="italic">P</tspan> &lt; 0.0001</text>
<text x="570.60" y="325.50">Healthy Control (<tspan font-style="italic">n</tspan> = 131)</text>
<text x="570.30" y="335.60">Mantel <tspan font-style="italic">r</tspan> = 0.66, <tspan font-style="italic">P</tspan> &lt; 0.0001</text>
<text x="164.70" y="514.90">Alzheimer’s Disease (<tspan font-style="italic">n</tspan> = 72)</text>
<text x="164.50" y="525.40">Mantel <tspan font-style="italic">r</tspan> = 0.62, P &lt; 0.0001</text>
<text x="361.40" y="514.20">MCI (<tspan font-style="italic">n</tspan> = 329)</text>
<text x="361.20" y="524.20">Mantel <tspan font-style="italic">r</tspan> = 0.65, <tspan font-style="italic">P</tspan> &lt; 0.0001</text>
<text x="568.80" y="513.20">Healthy Control (<tspan font-style="italic">n</tspan> = 205)</text>
<text x="568.80" y="523.00">Mantel <tspan font-style="italic">r</tspan> = 0.62, <tspan font-style="italic">P</tspan> &lt; 0.0001</text>
</g>
<g font-size="11.35" font-weight="bold" text-anchor="middle">
<text x="38.80" y="71.90">IMAGEN</text>
<text x="38.80" y="85.70">(<tspan font-style="italic">n</tspan> = 506)</text>
<text x="39.40" y="241.60">PPMI</text>
<text x="39.20" y="255.20">(<tspan font-style="italic">n</tspan> = 513)</text>
<text x="39.30" y="424.40">ADNI</text>
<text x="39.00" y="438.20">(<tspan font-style="italic">n</tspan> = 606)</text>
</g>
<g font-size="15" font-weight="bold">
<text x="1.00" y="12.60">a</text>
<text x="2.50" y="196.90">b</text>
<text x="-0.50" y="353.60">c</text>
</g>
</svg></body></html>
